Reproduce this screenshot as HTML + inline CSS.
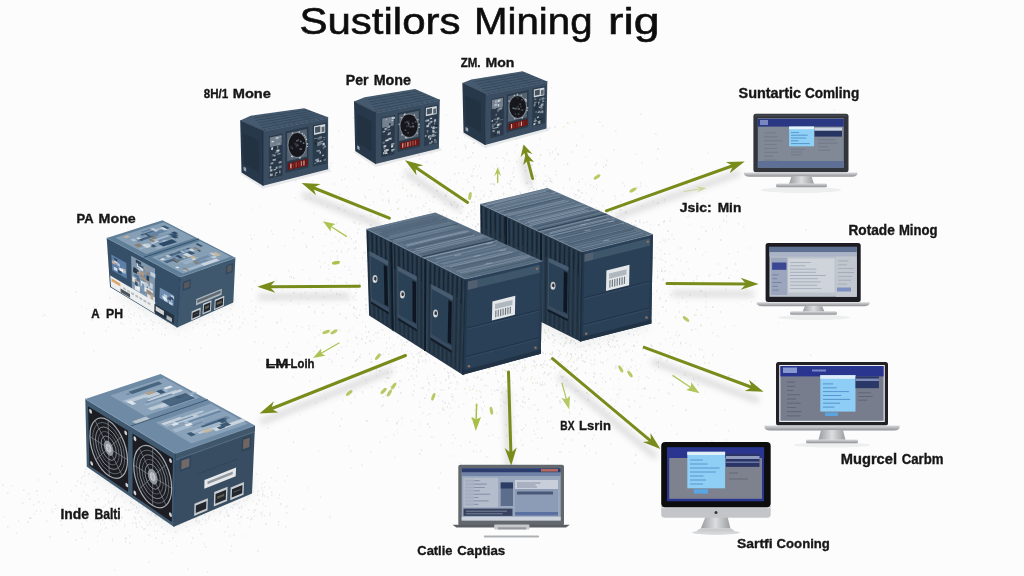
<!DOCTYPE html>
<html><head><meta charset="utf-8"><title>Sustilors Mining rig</title>
<style>
html,body{margin:0;padding:0;background:#fcfcfc;}
body{width:1024px;height:576px;overflow:hidden;font-family:"Liberation Sans",sans-serif;}
svg{display:block;font-family:"Liberation Sans",sans-serif;}
</style></head><body>
<svg width="1024" height="576" viewBox="0 0 1024 576">
<defs>
<filter id="blur3" filterUnits="userSpaceOnUse" x="0" y="0" width="1024" height="576"><feGaussianBlur stdDeviation="3"/></filter>
<filter id="blur3u" filterUnits="userSpaceOnUse" x="0" y="0" width="1024" height="576"><feGaussianBlur stdDeviation="4"/></filter>
<filter id="blur1"><feGaussianBlur stdDeviation="0.6"/></filter>
<filter id="soft"><feGaussianBlur stdDeviation="0.35"/></filter>
<filter id="blur6" x="-30%" y="-30%" width="160%" height="160%"><feGaussianBlur stdDeviation="6"/></filter>
<linearGradient id="silver" x1="0" y1="0" x2="0" y2="1"><stop offset="0" stop-color="#d9dadc"/><stop offset="0.5" stop-color="#b4b6b9"/><stop offset="1" stop-color="#8e9093"/></linearGradient>
<linearGradient id="silverH" x1="0" y1="0" x2="1" y2="0"><stop offset="0" stop-color="#9a9c9f"/><stop offset="0.5" stop-color="#dcdddf"/><stop offset="1" stop-color="#9a9c9f"/></linearGradient>
</defs>
<rect width="1024" height="576" fill="#fcfcfc"/>

<path d="M448 269h1.7M605 255h1.4M521 342h1.1M481 245h1.7M564 312h0.9M517 224h1.2M440 383h1.2M532 366h1.1M648 378h1.4M399 164h1.2M429 344h1.2M499 285h1.2M415 278h0.8M501 282h1.3M520 308h1.0M557 309h1.4M492 224h1.4M389 305h1.6M429 427h1.4M501 285h0.9M595 305h1.7M641 195h0.9M458 173h1.5M519 254h1.0M548 178h1.6M307 342h0.9M705 252h1.1M620 329h1.4M485 312h1.1M525 264h1.6M505 341h0.9M719 274h1.1M625 351h1.6M646 300h1.6M380 316h1.5M511 349h1.4M388 263h1.1M581 269h1.4M585 247h0.8M512 318h0.9M572 337h1.1M365 327h1.4M468 229h1.4M455 280h1.3M442 390h1.5M511 369h1.2M497 312h0.8M669 287h1.2M465 243h1.4M669 254h1.2M730 275h0.9M412 334h1.0M464 265h1.5M527 272h1.4M491 394h1.4M682 273h1.1M498 252h1.4M437 320h1.0M542 418h0.9M512 339h0.9M488 197h1.4M593 246h0.8M550 373h1.4M609 250h1.0M310 199h1.1M701 227h1.3M453 297h0.9M638 317h1.4M641 288h1.7M461 314h0.9M476 378h1.7M484 342h1.5M407 351h0.9M641 163h1.5M588 267h0.8M433 437h1.2M523 331h0.9M293 353h1.6M513 171h1.0M517 241h1.3M711 324h0.9M382 234h1.4M465 229h1.5M633 254h1.7M525 272h1.4M628 350h1.1M523 275h1.7M538 299h0.8M711 441h1.6M561 269h1.4M550 181h1.0M664 271h1.4M483 363h1.5M390 283h1.6M331 360h0.8M350 270h0.8M478 236h1.4M466 265h1.6M508 331h1.2M548 305h1.5M607 344h1.6M329 330h1.5M525 317h1.5M636 187h1.4M254 281h1.5M523 134h0.8M498 197h0.8M500 406h1.3M429 269h1.3M707 153h1.3M500 261h0.9M331 243h0.9M576 360h1.1M542 325h1.2M521 249h1.5M573 317h1.4M593 295h0.9M531 441h0.9M464 137h1.0M562 244h1.5M424 259h1.6M476 232h1.3M482 349h1.6M563 286h1.6M502 282h0.9M313 351h1.6M504 370h1.6M517 325h1.2M419 159h1.6M567 295h0.9M421 250h1.6M402 226h1.4M564 439h1.6M582 179h1.0M595 315h1.4M566 430h1.6M467 214h0.9M527 251h1.2M513 190h1.0M569 248h1.2M361 334h0.8M430 228h1.5M418 362h1.7M670 338h1.2M480 347h1.0M542 252h1.7M424 286h1.5M324 219h0.9M497 276h1.0M430 324h1.1M355 242h1.2M331 285h1.0M527 292h1.1M538 245h1.1M634 463h1.6M614 336h0.9M575 298h1.4M424 281h1.3M585 325h0.9M549 229h1.4M452 356h1.3M498 382h1.5M565 313h0.8M457 294h1.3M570 367h1.1M504 160h1.7M301 327h1.6M361 465h1.7M597 392h1.4M388 216h1.1M586 193h1.0M664 267h0.9M565 301h1.4M465 128h1.6M524 337h0.9M424 340h1.1M564 202h1.5M615 199h1.3M401 340h1.2M409 169h1.4M501 385h1.2M539 316h1.2M650 251h0.9M644 234h1.3M591 294h1.1M454 296h1.4M396 225h1.2M459 280h1.5M637 188h1.5M509 352h0.8M549 153h1.6M360 216h1.6M532 311h1.6M661 271h1.4M348 379h1.1M675 335h0.9M474 190h0.9M431 314h1.5M520 229h0.9M446 357h1.3M588 272h0.9M431 238h1.5M439 215h1.5M563 411h1.0M379 304h1.3M589 344h1.1M488 366h1.2M546 397h1.6M565 277h1.0M393 345h1.4M406 247h1.7M680 261h1.0M508 273h1.7M436 136h1.2M487 239h1.6M511 301h1.1M441 215h1.5M435 177h1.6M548 306h1.1M590 360h1.4M554 369h1.0M583 298h1.0M405 117h0.9M393 297h1.4M654 437h1.0M415 257h1.3M606 224h1.1M564 279h1.7M470 244h1.7M584 228h1.5M572 324h1.2M595 268h1.7M365 237h1.5M656 411h1.3M546 321h1.5M293 230h1.6M406 269h1.5M590 283h1.3M527 307h0.9M407 363h1.6M505 106h1.0M558 242h1.1M181 227h1.2M594 317h1.3M481 254h1.1M565 367h1.2M455 370h1.5M384 214h1.2M550 276h0.9M599 339h1.1M509 300h1.5M637 328h1.7M503 388h1.6M297 353h0.8M349 237h1.2M640 114h1.6M353 307h1.6M483 276h1.0M467 269h0.9M621 277h1.7M596 185h1.2M509 319h1.0M368 294h0.9M413 311h1.6M448 423h1.4M579 269h1.0M428 297h1.3M623 266h1.0M638 325h1.2M601 296h1.5M442 246h1.7M528 290h1.0M435 250h1.0M576 145h1.2M633 271h1.4M328 280h1.6M391 291h1.5M585 203h0.9M571 342h0.8M448 346h0.9M593 373h1.6M535 405h1.2M737 303h0.9M487 294h1.1M446 348h1.3M640 272h1.2M560 223h1.4M348 332h0.9M577 391h1.5M486 308h1.4M583 336h1.5M563 165h0.9M502 274h1.7M498 168h1.6M578 182h1.6M542 304h1.4M638 380h1.2M506 258h1.3M473 176h1.0M516 432h1.5M486 291h1.4M510 188h1.7M382 194h1.0M438 488h1.7M614 355h1.4M429 246h1.1M553 273h0.9M505 280h1.1M365 252h1.0M410 212h1.5M277 322h1.2M592 256h1.5M469 390h1.5M665 339h0.9M519 253h1.0M474 344h1.3M397 401h1.1M520 230h1.3M426 257h1.5M416 227h1.4M517 355h1.6M466 217h1.7M652 252h0.9M428 338h1.3M473 369h1.6M538 312h1.3M600 299h1.0M513 246h1.3M607 213h1.2M595 453h1.5M476 241h1.0M636 194h1.5M452 400h1.5M631 223h0.9M582 311h1.5M488 312h1.2M559 355h1.4M380 290h1.3M728 254h1.3M619 367h0.9M549 294h1.2M578 226h1.5M348 270h1.3M494 225h1.0M555 171h1.5M425 178h1.3M426 197h1.2M700 326h1.6M457 360h0.9M542 280h1.2M701 315h1.4M522 198h1.4M541 275h1.0M590 346h0.9M417 217h1.4M522 269h0.8M391 322h1.4M385 437h1.3M355 300h1.6M490 141h1.0M522 302h1.3M496 245h1.3M540 385h1.7M561 251h0.9M510 381h1.1M391 321h1.6M443 350h1.1M449 278h1.3M326 279h1.3M585 261h1.2M501 296h1.5M425 116h0.8M614 196h1.6M553 336h1.5M484 263h0.8M661 268h1.1M446 300h1.1M548 284h1.6M521 224h1.5M369 262h1.3M292 377h1.5M403 343h1.1M560 334h1.6M516 348h0.8M582 285h1.0M495 261h1.5M500 272h1.5M515 323h1.5M591 263h1.1M330 290h1.7M463 228h1.2M558 250h1.1M612 484h1.5M517 416h1.7M475 353h1.1M570 229h1.6M376 368h1.7M442 296h1.6M604 275h1.6M767 286h1.6M420 310h1.0M502 350h0.9M592 292h0.9M507 218h1.7M475 243h1.4M289 179h1.4M496 336h1.2M472 338h1.5M466 374h1.1M464 258h1.1M484 386h1.3M601 211h0.8M506 153h1.6M523 387h1.0M390 210h1.6M378 279h1.1M592 335h1.0M476 243h1.1M591 297h1.6M594 349h1.5M640 256h0.8M514 152h1.6M544 181h1.5M473 302h1.0M389 308h1.7M434 350h1.5M480 360h1.0M449 295h1.4M443 307h1.0M431 258h1.7M603 277h1.4M505 336h1.5M573 270h1.1M465 262h1.0M398 296h1.0M424 295h1.2M533 198h1.2M254 342h1.7M624 207h1.2M453 287h1.7M523 317h1.4M635 366h1.1M496 201h0.9M358 281h0.8M570 343h1.3M420 332h1.4M509 352h1.2M598 263h0.9M520 379h1.7M429 222h1.0M401 418h1.7M407 368h1.4M493 234h1.0M427 353h1.0M724 327h1.1M422 295h1.7M394 174h1.0M514 215h1.0M476 266h1.7M618 394h1.2M613 389h0.9M536 246h1.0M545 298h1.6M535 217h1.5M485 367h1.2M429 360h1.2M472 172h1.1M389 331h0.9M532 301h1.5M531 321h1.5M454 224h0.9M566 262h0.9M499 240h1.7M589 244h1.5M589 382h1.1M565 398h1.6M337 256h1.1M408 380h1.4M574 296h1.4M449 291h1.1M551 275h0.8M623 327h1.7M630 270h0.9M658 390h1.5M330 166h1.3M494 220h0.8M596 246h0.8M523 257h1.0M573 194h1.6M567 243h1.1M603 400h1.6M341 347h1.7M435 225h1.4M414 273h1.3M553 246h0.9M564 281h1.0M440 473h1.3M578 190h1.5M551 295h1.4M525 167h1.1M350 403h1.5M420 388h0.9M517 234h0.9M403 241h1.3M533 431h1.4M778 323h1.0M633 346h1.3M555 326h1.1M544 257h1.0M597 300h0.9M399 313h1.0M422 361h1.4M549 273h1.6M454 311h1.1M508 434h0.8M534 379h1.0M533 268h1.6M405 169h1.2M678 336h1.1M353 243h0.9M512 355h0.9M602 215h1.1M499 170h1.1M512 173h1.5M514 276h1.2M410 327h1.7M327 207h1.2M434 321h1.4M571 188h0.8M499 299h1.1M523 341h0.9M586 454h0.8M554 159h1.5M639 407h1.7M582 136h1.1M533 217h0.8M459 280h1.6M487 205h1.6M576 266h1.3M510 270h1.0M612 273h1.6M289 277h1.6M470 157h1.6M421 273h1.5M669 221h1.3M448 403h0.9M602 382h1.0M530 176h1.1M576 287h1.2M496 272h1.2M302 233h1.6M532 342h1.1M509 318h1.3M497 272h1.6M405 209h1.2M622 195h1.2M305 245h1.3M528 299h1.6M474 214h1.3M471 299h1.4M573 310h1.2M386 348h1.5M391 321h1.3M477 244h1.1M561 237h1.3M586 218h1.6M420 301h1.2M382 330h1.6M566 230h1.1M540 306h1.5M355 309h1.7M325 234h1.2M551 407h1.2M603 409h1.6M524 403h1.5M424 339h1.6M581 310h1.3M536 422h1.7M411 337h1.7M412 215h1.2M436 236h1.5M669 394h1.3M615 264h1.5M299 415h0.9M494 464h0.9M616 395h1.6M483 240h1.0M426 145h0.9M481 300h1.7M676 354h1.4M540 365h1.5M481 299h1.5M474 313h0.8M372 268h1.1M550 192h1.4M379 442h1.6M424 292h1.5M483 250h1.5M617 345h1.2M616 217h1.6M533 221h1.3M562 371h1.0M497 256h0.9M556 245h0.9M650 345h1.6M390 365h1.6M605 351h1.6M539 245h1.2M496 390h1.1M652 240h0.8M384 241h1.4M314 337h1.2M492 303h0.8M369 288h1.3M540 270h1.1M354 397h1.3M632 351h1.0M716 425h1.0M642 389h1.1M332 308h1.5M719 227h1.6M525 402h0.9M518 361h1.5M569 297h1.6M655 320h0.9M600 232h1.5M561 377h1.6M458 407h1.6M676 434h1.4M570 426h1.1M622 286h1.1M453 359h1.4M599 283h1.0M427 415h1.0M474 301h1.4M419 198h0.9M452 314h1.7M402 177h1.6M686 307h1.1M662 327h1.6M672 385h1.6M571 332h1.3M454 255h1.1M664 294h1.0M442 409h1.1M548 315h1.1M385 352h1.2M598 300h1.5M583 225h1.6M571 307h1.4M522 239h0.9M503 309h1.1M439 281h1.2M371 296h0.8M522 401h1.4M456 264h1.0M571 327h1.7M581 309h1.5M454 328h1.0M385 382h1.4M671 235h1.6M689 295h1.6M506 324h1.2M523 322h1.6M545 272h1.1M435 263h1.3M482 266h0.8M397 430h0.8M668 239h1.3M601 294h1.0M463 312h1.4M467 344h1.1M579 236h1.5M507 307h1.5M444 219h1.6M411 354h1.5M340 239h1.1M496 213h1.5M438 286h1.6M641 240h1.0M498 322h1.3M479 305h1.3M457 384h1.4M435 216h1.2M582 249h1.2M532 275h1.0M458 261h1.6M591 199h1.4M467 279h1.4M448 333h1.0M464 419h0.8M428 270h1.2M359 145h1.3M533 351h1.6M484 194h0.9M621 300h1.1M449 416h1.4M461 227h1.5M452 413h0.9M588 286h1.5M576 270h1.4M423 279h1.5M288 343h1.4M396 231h1.4M628 369h1.6M487 386h1.2M560 452h1.6M498 227h1.6M498 366h1.4M638 377h1.5M313 213h1.6M475 353h1.1M567 231h1.4M624 330h0.8M442 401h1.6M356 289h1.0M462 260h0.8M670 218h1.2M350 468h1.1M554 367h1.0M500 400h1.5M575 344h1.4M549 279h1.6M618 379h1.1M305 292h0.9M614 299h1.0M535 179h0.9M667 359h1.0M482 411h1.2M433 290h1.1M373 177h1.6M508 281h1.3M720 273h1.0M491 339h1.5M578 342h1.1M421 226h1.7M708 276h1.6M585 157h1.1M455 438h1.0M473 322h1.1M540 289h1.4M466 180h1.3M531 272h1.3M435 336h1.0M320 164h1.5M398 282h1.0M493 353h1.4M377 264h1.3M582 322h1.4M451 299h1.0M328 269h1.5M341 366h1.2M366 383h1.2M479 329h1.1M409 337h1.1M437 241h1.6M455 157h1.3M342 400h1.4M541 202h1.1M425 162h1.3M463 404h1.4M518 260h1.1M557 350h1.1M454 279h1.5M712 333h1.3M500 254h0.9M484 284h1.0M259 206h0.9M635 154h1.2M495 214h1.0M481 256h1.0M474 233h1.1M378 287h1.1M377 333h0.9M559 452h1.3M502 292h1.5M619 390h1.1M461 223h0.8M688 269h1.2M495 288h1.3M542 293h1.4M585 373h1.0M558 272h1.7M355 337h1.6M601 389h0.9M397 180h1.3M443 317h1.4M480 230h1.5M564 217h1.4M309 381h1.5M594 355h0.8M413 364h0.9M387 284h1.6M553 343h1.6M414 430h1.3M514 239h1.0M557 327h1.3M513 220h1.7M577 347h1.1M473 219h1.6M536 317h1.4M467 358h1.0M488 285h1.2M484 259h0.9M638 302h1.5M523 317h1.5M339 278h1.2M452 320h1.7M625 311h0.8M578 422h1.3M609 339h1.3M500 214h1.3M503 195h0.9M360 354h1.0M443 252h1.5M474 209h1.2M588 299h1.5M544 263h1.6M650 261h1.7M570 260h1.2M645 233h1.7M506 316h1.3M213 310h1.4M455 270h1.0M546 240h1.7M554 234h1.2M398 258h1.3M669 272h1.3M810 355h1.4M676 259h1.5M498 245h1.3M499 260h1.4M501 294h1.4M361 373h1.6M535 313h1.2M550 179h1.6M622 411h1.5M455 402h0.8M550 221h0.8M670 295h1.6M442 345h1.3M383 354h0.9M579 197h1.6M534 193h1.2M530 279h1.6M533 405h1.1M406 329h1.0M567 297h1.4M435 356h1.2M429 201h0.9M386 378h1.1M492 321h0.8M501 288h1.4M483 336h1.2M522 322h0.9M604 261h1.5M330 344h1.2M460 356h1.7M526 290h1.5M453 313h1.3M296 326h1.2M318 335h1.4M525 322h1.0M636 331h0.9M652 309h1.2M496 165h1.4M505 319h1.3M273 299h1.5M561 331h1.1M525 258h1.2M613 150h1.7M610 277h1.0M534 271h1.4M339 330h1.7M434 334h1.4M379 416h0.8M421 288h1.4M435 378h1.0M419 258h1.1M467 299h1.0M516 145h1.4M393 435h1.2M592 272h1.4M696 279h1.1M520 362h0.9M487 346h1.5M540 278h1.4M477 224h1.6M378 388h1.6M633 296h1.2M443 257h1.6M543 374h1.2M437 312h0.9M608 336h1.5M660 358h1.4M489 256h1.5M656 363h0.9M338 328h0.8M490 255h1.1M577 359h0.8M555 298h1.2M456 182h0.9M606 276h1.5M643 223h1.3M373 335h1.0M502 158h1.5M373 341h1.0M516 253h1.3M421 267h1.5M652 258h1.2M501 132h0.8M359 163h1.6M505 403h0.9M475 405h0.9M567 340h0.9M606 361h0.8M546 260h1.3M538 350h0.9M325 332h1.6M568 266h1.5M473 377h1.1M506 359h1.4M498 273h0.9M454 264h1.6M380 192h0.9M515 305h1.6M605 287h1.6M614 286h1.5M536 189h1.0M394 457h1.1M421 344h1.2M500 224h1.3M560 376h1.2M353 314h1.2M637 389h1.0M463 173h1.1M390 386h1.4M428 390h1.5M497 251h1.2M435 381h1.4M421 320h1.1M575 270h0.9M478 236h1.2M469 303h0.9M574 408h1.2M398 285h1.6M372 237h1.7M451 283h0.8M445 253h1.6M622 183h1.6M295 198h1.1M596 163h1.4M536 336h0.9M593 303h1.4M524 170h0.9M354 285h1.6M549 293h1.3M308 329h1.6M537 449h1.2M423 344h1.0M352 328h0.9M612 312h0.9M425 203h1.7M439 297h1.0M496 231h0.9M499 290h0.8M528 227h1.3M467 341h0.9M503 277h1.4M566 338h1.5M416 367h1.3M571 247h1.2M529 236h1.0M551 88h0.8M549 197h1.4M624 344h1.4M540 328h0.8M271 231h1.1M508 350h1.1M468 228h1.1M536 200h1.6M598 251h1.6M376 246h1.4M485 301h1.0M558 312h1.5M463 371h0.8M567 353h1.2M194 310h1.4M558 260h0.8M452 317h1.2M299 221h1.6M480 392h1.3M455 269h1.0M684 319h1.5M535 418h1.0M436 329h1.1M444 238h1.0M577 324h1.4M585 267h1.3M568 326h1.5M477 336h1.1M575 418h0.8M602 396h1.4M723 221h1.4M457 302h1.6M370 362h1.6M446 182h1.1M369 190h1.2M312 181h1.1M309 194h1.4M529 235h1.3M648 275h1.0M639 220h1.4M461 259h1.1M528 327h1.5M332 251h1.0M456 307h1.2M529 267h1.2M499 342h1.5M335 237h1.2M667 332h1.4M547 232h1.7M673 343h1.4M462 206h1.2M634 267h1.3M390 348h1.3M469 277h0.8M539 139h1.7M354 223h1.6M652 201h1.3M492 360h1.0M502 200h1.3M420 424h1.1M505 309h1.6M473 283h1.1M673 239h1.5M501 307h1.4M498 252h1.4M445 310h1.3M529 235h1.7M590 262h1.6M348 249h1.5M625 299h1.2M381 355h1.3M390 249h1.1M503 402h1.3M605 284h1.1M422 222h1.6M349 267h1.1M401 295h0.8M353 222h1.4M597 312h0.9M323 142h1.3M582 301h1.6M480 262h0.9M619 366h1.1M615 320h1.7M502 210h0.9M362 377h1.4M450 203h1.4M642 302h0.8M281 361h1.5M382 185h0.9M523 198h1.0M553 271h1.1M418 331h1.4M478 235h1.4M510 312h0.9M480 206h1.2M396 424h1.4M437 354h1.6M452 443h1.1M469 387h1.2M496 248h1.6M516 365h1.4M702 198h1.1M494 391h1.3M218 283h1.5M572 263h0.8M590 363h0.8M542 289h1.4M455 308h1.6M488 317h1.1M546 395h1.4M517 305h1.6M724 410h1.3M570 308h1.0M535 281h1.7M525 252h1.3M548 310h0.9M520 267h1.2M578 318h0.8M546 269h1.2M553 196h1.1M800 160h1.5M386 343h1.3M387 418h0.9M365 305h1.5M508 387h1.5M414 289h1.0M338 241h1.3M552 428h1.6M349 305h1.3M384 274h1.5M472 356h1.0M506 258h0.9M363 216h1.3M445 361h0.9M474 206h1.6M386 396h1.0M591 317h1.5M674 286h0.9M436 290h1.1M509 161h1.1M308 299h1.1M371 288h0.9M547 375h1.5M531 220h1.2M749 248h1.2M582 299h0.8M382 369h0.8M506 218h0.8M577 240h1.5M521 325h1.3M365 326h0.8M586 273h1.4M487 311h1.0M626 369h0.8M388 291h1.3M627 267h1.6M537 146h0.9M728 431h1.5M357 359h1.6M501 352h1.1M504 295h0.9M539 378h0.9M586 324h1.1M395 367h1.6M544 384h1.7M573 324h1.5M554 261h0.8M450 312h0.8M553 315h1.2M375 333h1.5M648 325h1.6M320 378h0.9M536 301h1.5M398 421h0.9M352 367h1.4M519 308h1.4M400 340h1.5M585 217h0.9M532 286h1.1M622 276h1.0M341 250h0.9M532 287h1.1M656 448h1.4M425 298h1.0M517 210h1.5M305 199h1.3M608 219h1.6M481 191h1.0M380 367h1.0M411 176h0.9M328 265h0.9M556 263h1.2M522 371h1.3M568 290h0.9M462 276h1.0M473 188h1.7M650 230h0.8M537 263h0.9M476 246h1.6M599 286h1.1M494 98h1.6M485 262h0.8M377 358h1.3M399 330h1.2M513 168h1.7M594 324h0.9M577 208h1.0M516 139h1.3M459 132h1.3M485 147h1.2M433 307h1.1M328 359h1.5M612 346h1.2M525 381h1.1M557 382h1.1M575 370h1.0M355 241h1.3M642 315h1.4M452 396h1.3M571 283h1.1M413 379h0.9M309 279h0.9M452 275h1.3M507 324h1.3M490 260h1.6M678 352h0.8M443 306h0.9M497 381h1.1M437 310h1.2M509 308h1.0M519 305h1.1M553 346h1.4M636 370h1.6M494 200h1.1M488 323h1.2M480 199h1.5M570 283h1.4M563 310h1.5M550 155h0.9M545 238h1.0M429 385h1.1M429 212h1.2M595 208h1.5M416 371h1.2M615 225h1.7M484 216h1.2M431 307h1.3M406 312h1.4M436 121h1.3M445 231h1.5M522 202h1.6M624 329h1.2M705 293h1.1M602 191h1.7M494 319h1.1M397 433h0.8M410 254h1.5M526 280h1.5M461 280h1.5M424 330h0.8M621 311h1.4M547 150h1.0M412 254h1.5M401 424h1.0M351 375h1.5M318 451h1.1M620 269h1.6M477 258h1.5M441 333h1.0M333 184h1.6M299 169h1.2M608 315h1.5M456 207h1.6M469 216h1.4M544 340h1.4M436 183h1.4M378 216h0.9M589 254h1.6M429 233h1.2M465 358h0.9M602 305h1.4M431 325h0.8M564 239h1.3M388 293h1.3M445 248h1.5M544 291h1.2M621 319h1.0M503 301h1.2M417 208h1.6M323 297h1.6M454 347h1.6M468 278h1.6M440 267h1.5M430 225h1.5M614 406h1.4M776 283h1.2M531 200h1.5M394 280h1.6M334 277h1.2M365 380h1.5M478 237h1.2M522 228h0.9M486 331h1.2M619 317h0.9M425 322h1.6M322 290h0.8M553 252h1.7M565 342h1.6M598 308h1.3M375 162h1.7M502 228h1.0M600 282h1.1M556 305h1.5M453 333h1.5M453 261h1.3M500 224h1.6M373 236h1.7M438 413h1.2M624 302h1.2M212 267h1.4M591 365h1.3M464 301h1.6M626 298h1.4M521 234h0.9M577 338h1.5M550 421h1.2M529 239h0.9M415 318h1.3M505 328h1.2M308 326h1.4M491 211h1.4M587 303h1.6M487 355h1.4M567 242h1.3M579 414h1.4M455 369h1.0M553 217h1.1M663 240h1.0M520 440h0.9M537 349h1.6M658 313h0.8M647 350h1.2M434 278h0.9M622 366h1.6M468 247h1.7M415 258h1.7M330 258h1.0M384 162h1.5M430 316h0.9M580 206h1.0M476 452h1.0M546 181h1.2M805 230h1.7M594 269h1.0M461 328h1.2M575 272h0.9M479 250h1.2M508 355h1.5M459 357h1.6M480 358h1.5M457 267h1.6M559 279h1.3M417 238h1.3M326 385h0.9M604 320h0.8M360 310h0.8M444 346h1.4M705 296h1.5M401 349h1.6M508 256h1.3M680 378h0.9M441 296h1.7M495 301h1.6M503 322h1.1M641 298h1.2M650 225h1.2M590 202h1.6M577 292h1.6M474 335h1.1M535 230h1.0M449 180h1.5M473 272h0.8M641 253h1.5M336 223h1.1M604 313h1.5M618 321h1.3M509 196h1.6M635 304h1.2M484 244h0.9M431 223h1.3M444 315h1.5M480 223h1.2M621 312h1.1M391 275h0.9M606 232h0.9M554 368h1.7M515 189h1.1M429 309h1.0M417 266h1.5M371 251h1.2M378 354h1.5M449 404h1.1M600 374h1.4M251 239h1.5M539 276h1.0M437 282h0.9M471 240h1.1M493 142h1.5M492 283h1.3M482 373h1.1M648 243h1.3M559 286h1.7M475 445h1.0M707 318h1.1M272 234h1.0M698 444h0.8M665 240h1.6M427 162h1.2M527 222h1.0M512 313h1.3M389 331h0.9M425 281h1.6M461 293h0.8M672 406h1.3M363 253h1.4M529 408h1.2M686 262h1.1M710 288h0.9M602 126h1.3M396 301h0.9M390 387h1.0M482 357h1.3M435 279h1.2M517 289h1.3M695 355h1.1M447 192h0.9M348 446h1.3M585 238h0.9M554 287h1.7M467 262h0.9M410 307h1.5M478 330h1.0M478 233h1.7M386 421h1.5M433 408h0.9M535 324h1.3M592 221h1.4M562 383h1.4M408 256h1.6M618 259h1.3M667 393h1.7M514 274h1.2M379 281h1.3M492 166h0.9M649 398h1.7M717 336h1.4M460 369h1.6M478 200h1.1M417 240h0.8M530 286h0.9M421 209h1.0M737 252h1.4M524 313h1.4M688 216h1.2M480 316h1.2M419 402h0.9M550 283h1.1M543 277h1.1M534 175h0.9M502 276h1.6M472 294h1.6M561 390h1.1M463 220h1.2M456 303h1.2M566 429h0.9M588 345h1.5M451 397h1.4M541 271h1.6M367 276h1.3M388 203h1.4M569 215h1.5M709 371h1.4M461 269h1.6M584 288h1.2M610 400h1.4M429 234h1.4M538 251h1.7M596 290h1.3M562 200h0.9M578 433h1.5M401 366h1.5M552 309h1.6M572 253h1.1M490 345h1.4M415 197h1.4M651 247h1.4M455 389h1.5M544 212h1.4M569 452h1.2M558 216h1.1M563 295h1.2M680 367h1.0M552 257h1.3M370 305h0.9M533 328h1.2M500 331h1.5M632 282h0.9M346 187h1.1M467 279h1.0M480 332h1.0M288 430h0.8M475 215h1.3M527 245h1.6M516 317h1.4M501 276h1.4M583 271h0.9M490 345h1.1M519 220h0.9M673 352h1.6M483 299h1.5M484 333h0.8M704 392h0.8M461 239h0.8M576 146h1.1M559 334h0.8M575 293h1.4M627 262h1.2M603 235h1.6M492 435h1.6M506 300h1.6M523 284h1.4M544 330h1.4M649 290h1.3M506 210h1.4M404 244h1.0M597 331h1.0M501 291h1.6M622 221h1.6M644 338h0.8M608 211h1.5M443 280h1.0M332 288h1.0M503 254h1.7M655 134h1.7M506 250h1.3M295 181h1.4M530 229h1.5M754 381h1.3M489 305h1.0M533 301h1.4M517 312h1.3M338 131h1.3M482 409h0.9M450 297h1.0M514 232h1.0M434 280h1.6M576 247h1.4M628 406h1.3M448 343h1.5M589 150h1.4M322 305h1.5M522 402h1.3M352 297h1.0M597 277h1.5M537 438h1.3M382 397h1.5M658 324h1.3M465 228h1.2M251 289h1.4M605 297h1.0M475 313h0.9M281 305h1.3M551 393h1.4M449 383h1.5M519 363h1.3M532 272h1.4M381 251h1.3M709 275h1.6M629 407h1.5M382 308h1.0M366 261h1.2M453 336h1.5M557 249h1.3M598 292h1.3M474 282h0.9M582 204h1.2M502 341h1.6M506 155h1.0M435 246h1.2M672 384h1.2M636 226h1.0M630 291h1.3M442 304h1.6M498 325h1.1M446 223h0.8M551 354h1.1M529 108h1.5M392 231h1.4M388 323h1.1M694 174h1.1M462 220h0.9M609 226h1.6M607 340h1.1M589 285h1.0M476 274h1.7M483 276h0.9M481 289h1.3M517 353h0.9M575 391h1.4M537 346h1.5M616 278h1.5M410 300h1.5M524 339h1.4M571 380h1.5M546 241h1.6M646 186h0.9M417 242h1.3M556 238h1.6M542 247h0.9M411 228h0.8M434 363h1.6M390 274h0.8M618 325h1.4M655 371h0.9M362 322h1.0M670 221h0.9M468 213h1.4M742 306h0.9M545 176h1.5M423 255h1.3M337 258h1.1M557 281h1.4M347 198h1.1M495 324h0.9M428 295h1.5M412 185h1.1M624 219h0.9M486 282h1.3M337 305h1.0M345 167h1.2M530 202h1.7M678 303h1.3M538 314h1.7M505 403h1.3M602 251h1.7M490 66h1.6M472 225h1.1M586 257h1.3M571 440h1.4M478 333h1.5M415 318h1.7M613 337h1.0M604 299h1.1M345 266h0.9M382 266h1.0M427 379h1.5M660 352h1.4M516 254h1.3M524 337h1.0M426 395h0.9M342 205h1.5M403 354h1.1M480 241h0.9M477 261h0.9M634 401h1.6M553 287h0.8M513 208h1.6M850 244h1.6M465 146h1.5M314 367h1.3M547 421h1.2M501 254h0.9M611 224h1.6M554 257h1.4M616 232h1.6M422 136h1.6M473 232h0.8M468 293h1.5M537 429h1.0M398 264h1.1M392 329h0.9M698 378h1.0M489 368h1.5M540 276h1.5M591 280h1.7M491 242h0.9M558 155h1.4M548 331h1.2M612 234h1.3M541 257h1.3M521 216h1.4M576 335h1.3M511 267h0.8M258 360h1.4M620 290h1.6M609 310h1.5M474 410h1.0M410 195h1.3M542 342h1.2M531 273h0.9M508 269h1.4M480 380h1.3M433 184h1.7M545 247h1.3M488 341h1.6M470 372h1.3M611 296h1.5M370 452h1.1M380 131h1.1M488 294h1.6M671 265h1.6M401 251h1.0M450 408h1.6M560 300h1.2M523 428h1.4M517 340h1.7M540 276h1.5M481 379h1.7M374 211h0.9M443 326h1.1M489 362h0.9M452 218h1.4M513 293h0.9M603 302h1.0M652 294h1.6M511 308h1.4M511 299h1.0M535 383h1.3M593 410h1.0M473 143h1.7M489 291h1.7M583 301h1.1M560 321h1.3M416 345h1.1M544 372h1.4M568 278h1.3M561 309h1.5M488 436h1.4M581 293h1.4M419 436h1.0M153 245h1.2M607 161h1.0M484 364h1.0M731 349h1.0M466 298h1.2M600 362h1.1M448 348h1.0M282 290h1.0M351 274h1.1M431 154h1.3M634 301h1.0M717 264h1.6M465 266h0.9M549 275h1.7M469 287h1.6M628 400h1.5M514 226h1.4M556 385h1.6M370 284h0.8M442 347h1.6M452 435h1.5M801 252h1.6M347 251h1.1M369 205h1.2M370 247h1.0M313 326h1.0M576 368h1.7M654 433h1.3M552 342h1.1M276 323h1.7M473 248h1.5M730 375h1.6M252 210h0.9M425 362h1.6M409 241h0.9M354 316h1.2M576 269h1.2M530 182h1.1M690 345h0.9M432 279h1.4M575 349h1.0M280 320h1.1M562 221h1.0M401 277h1.6M567 380h1.0M376 376h1.3M605 220h1.6M664 221h1.1M502 253h1.7M552 220h1.7M438 296h1.1M574 197h0.9M665 311h1.5M616 255h0.9M535 434h1.1M621 389h0.9M539 316h1.1M349 330h1.0M353 299h1.2M446 264h1.7M300 294h1.3M344 267h0.8M615 131h1.5M438 273h1.5M476 399h1.2M437 218h0.8M439 275h1.3M369 293h1.1M631 429h0.8M615 269h1.1M535 231h1.4M609 413h1.4M615 402h1.6M504 304h0.8M393 267h1.0M250 235h1.0M473 275h1.0M452 218h1.3M339 295h1.4M588 231h1.0M344 179h1.3M472 300h1.0M518 344h1.2M753 297h0.9M457 239h1.7M434 284h1.4M426 355h1.2M555 211h1.0M564 345h1.2M641 293h1.4M617 248h1.1M355 168h0.9M649 257h1.5M544 361h1.7M578 332h1.4M466 194h1.0M508 338h1.4M489 221h1.1M497 248h1.7M434 163h1.2M519 336h1.6M646 377h1.7M705 302h1.6M531 184h1.0M371 342h0.9M480 451h1.5M447 299h1.3M505 131h1.0M556 319h1.6M625 213h1.4M547 313h0.9M632 303h1.0M695 329h1.4M644 389h1.4M492 202h1.1M398 200h1.4M405 268h1.5M452 230h1.0M506 278h1.4M545 299h1.0M507 397h1.5M488 241h1.4M539 307h0.8M569 414h1.2M255 327h1.5M577 254h1.3M575 250h0.9M502 333h1.5M545 112h1.0M390 305h1.5M476 196h0.9M284 246h1.1M610 444h1.2M651 306h1.4M387 291h1.1M685 373h1.2M460 463h1.0M460 360h1.3M584 303h1.0M495 201h0.9M377 338h1.0M578 328h1.7M640 366h0.9M525 425h1.6M430 220h0.9M452 360h0.9M619 315h0.8M452 397h1.3M440 337h1.3M458 288h1.0M632 295h1.1M593 328h1.0M640 183h1.5M381 317h1.2M575 220h1.1M510 312h1.6M551 304h1.5M547 459h1.6M723 220h0.9M609 307h1.2M680 248h1.6M445 330h1.4M438 250h1.6M509 276h0.9M541 314h1.6M373 138h1.5M496 178h1.5M450 456h1.3M442 305h1.2M421 356h1.2M409 212h1.6M494 235h1.6M571 329h1.5M660 300h0.9M696 310h1.6M344 211h1.4M543 231h1.4M559 403h1.6M491 390h0.9M577 321h0.9M620 354h0.9M493 280h1.0M564 286h1.1M422 413h1.5M430 354h1.2M579 257h1.3M435 242h1.0M388 251h1.3M485 385h1.0M613 336h1.5M325 399h1.4M476 409h1.4M531 312h1.1M626 352h1.0M492 257h1.0M518 318h1.0M534 326h1.6M475 226h1.1M498 292h1.0M424 289h1.3M378 286h0.9M500 237h1.6M543 228h0.9M549 309h1.5M636 342h1.2M645 266h1.0M278 364h1.6M457 205h1.6M579 319h0.8M565 356h1.6M532 114h1.1M501 392h1.5M413 357h1.5M467 380h1.0M399 322h1.1M394 351h0.9M523 229h1.4M415 333h1.2M315 403h1.6M618 398h1.0M494 245h1.4M575 242h0.8M429 289h1.2M657 248h0.8M469 240h1.0M332 413h1.7M607 359h1.3M445 195h1.6M743 227h1.6M446 318h1.7M418 251h1.4M331 163h1.2M439 299h1.5M482 258h1.2M507 291h1.5M577 198h0.9M357 131h1.4M346 283h1.5M549 354h1.6M454 196h1.6M473 248h1.3M240 275h1.4M479 166h1.3M658 225h1.2M365 332h0.8M519 192h1.6M464 311h1.1M537 248h0.9M502 383h1.0M625 212h1.7M567 362h1.5M670 383h0.8M427 376h0.9M500 254h1.6M440 275h0.8M347 300h1.2M495 374h1.6M512 275h1.2M561 281h1.6M521 388h1.1M366 337h1.7M726 222h1.6M555 252h1.2M725 289h1.4M320 330h1.0M462 252h0.9M396 250h1.5M494 248h1.5M594 237h1.3M511 251h0.8M716 425h0.9M453 246h0.9M516 371h1.6M326 147h1.1M485 158h1.7M427 177h1.0M552 248h1.6M646 222h1.7M380 189h0.9M638 294h0.8M371 275h1.4M520 296h1.5M446 115h0.9M568 276h1.5M804 398h1.4M583 200h1.3M466 382h0.8M674 280h1.5M473 277h1.3M465 268h1.2M383 238h1.1M468 300h1.2M410 255h1.4M363 269h1.6M576 369h1.6M478 340h1.2M420 290h1.3M499 387h1.0M685 343h1.6M487 309h1.5M366 312h1.4M660 242h1.2M647 330h1.0M488 334h1.5M496 158h1.6M581 273h1.2M529 188h1.5M409 323h1.6M466 280h1.1M593 435h1.6M616 366h1.1M579 298h1.6M565 386h1.4M361 272h1.0M523 370h1.6M381 330h0.9M424 226h1.3M556 244h1.6M394 361h0.9M569 178h1.4M394 186h0.8M533 253h1.5M556 148h1.0M276 280h1.1M358 179h1.4M392 274h1.7M648 437h1.3M436 183h1.4M619 358h1.2M416 354h1.2M517 321h1.3M533 217h0.8M497 316h0.8M686 302h1.1M378 332h1.1M493 208h1.4M549 294h1.0M407 247h1.3M682 298h1.3M518 242h1.4M451 394h1.2M423 305h1.5M577 190h0.9M338 350h1.2M477 300h1.6M491 194h1.2M423 326h1.4M675 335h1.6M466 240h1.0M602 307h1.5M834 110h1.0M382 249h1.7M504 338h1.1M539 326h0.9M445 247h1.6M565 422h1.5M470 359h1.0M451 287h1.0M443 264h1.4M476 229h1.1M327 331h1.7M664 242h1.5M490 309h1.5M466 322h1.5M548 329h1.0M576 375h1.5M323 246h1.0M475 358h1.5M536 310h1.5M496 334h1.4M388 199h1.1M557 253h1.3M520 406h1.0M590 338h1.6M538 343h1.4M523 350h1.6M537 339h1.3M459 228h1.1M671 425h1.3M566 224h1.1M473 238h1.5M428 249h0.9M498 438h1.1M302 270h1.1M725 440h1.4M532 497h0.9M518 325h1.7M304 360h0.9M496 301h1.1M510 224h1.1M189 350h1.6M376 370h1.1M640 186h1.4M557 279h1.3M588 395h1.4M589 355h0.9M532 273h1.1M712 229h0.9M502 187h1.6M431 337h1.4M474 356h1.3M608 270h1.4M545 267h0.8M516 292h1.3M558 217h0.9M644 428h1.4M450 372h1.5M455 329h1.3M539 159h0.9M473 386h1.5M506 255h1.1M528 202h0.9M569 329h1.4M669 358h1.6M338 381h1.0M407 248h1.4M634 272h1.1M464 145h1.0M540 244h1.1M419 221h1.1M589 451h0.8M440 390h1.4M384 267h0.9M494 169h0.9M603 409h1.6M434 389h1.2M621 247h1.0M414 256h1.0M418 363h1.2M532 247h0.9M565 275h1.4M454 377h1.5M541 339h1.4M611 281h1.1M428 349h1.6M462 189h1.5M267 428h1.5M462 160h1.2M489 288h1.5M559 372h1.4M596 238h0.9M432 202h1.0M566 309h1.3M416 341h1.4M696 276h1.7M501 262h1.7M377 218h1.5M369 286h1.6M565 317h1.7M555 238h1.5M523 282h1.2M505 339h1.4M369 283h1.0M568 269h1.5M524 237h1.4M641 206h1.6M299 355h1.1M491 252h0.8M549 232h0.9M647 257h1.6M401 352h0.9M397 337h1.1M267 247h1.6M322 223h1.1M465 234h1.5M532 252h1.0M444 314h1.1M535 272h1.4M554 325h1.6M630 367h1.5M251 301h1.0M676 332h1.3M406 342h1.4M511 297h0.8M504 269h1.5M455 149h0.8M641 396h1.0M462 207h1.5M493 230h1.4M572 298h0.9M573 250h1.1M382 200h1.6M607 320h1.1M514 203h1.6M293 332h1.2M434 394h1.5" stroke="#e2e4e6" stroke-width="1.2" opacity="0.95" fill="none"/>
<path d="M474 342h1.4M477 224h1.1M726 216h1.2M411 376h1.3M501 285h1.1M481 268h1.6M431 256h1.3M578 358h1.2M415 327h1.2M464 312h0.8M525 171h1.3M573 311h1.4M500 301h1.6M471 349h1.0M373 277h1.3M685 206h0.9M597 274h0.9M475 260h1.7M431 275h1.3M512 209h1.4M418 185h1.6M392 325h1.1M434 317h1.0M524 300h1.0M524 343h1.6M405 285h1.0M685 410h1.6M526 316h1.3M387 373h1.2M621 321h1.3M487 367h0.9M483 303h1.2M449 307h1.1M405 295h1.3M624 295h0.8M679 312h1.0M554 340h1.6M466 254h1.5M497 390h1.0M457 231h1.1M486 424h1.1M466 238h1.0M404 355h1.0M447 227h0.9M548 220h1.1M578 205h0.8M409 270h1.6M726 268h1.6M411 307h1.4M442 253h1.7M662 280h1.5M498 241h1.4M455 256h1.2M336 294h1.3M583 325h0.8M450 300h1.6M645 271h1.1M619 347h0.9M599 271h1.2M336 354h1.0M560 402h1.3M543 184h1.2M291 277h1.0M308 307h1.5M615 314h1.4M552 335h1.6M387 225h0.9M575 332h1.6M649 268h0.8M471 272h1.3M521 245h1.4M521 288h1.7M562 282h1.7M500 272h1.2M536 248h1.3M587 400h1.6M437 295h1.3M612 242h1.5M592 439h0.8M541 232h0.8M474 202h1.0M554 197h0.8M424 227h1.1M396 147h1.5M541 276h1.6M505 327h0.9M464 246h1.6M538 272h1.0M533 296h1.7M499 269h1.2M493 250h1.5M728 376h1.3M530 283h1.5M471 176h1.6M286 347h1.3M538 264h0.9M635 418h1.5M513 353h1.0M582 315h0.9M419 454h1.4M293 293h1.4M503 266h1.5M209 204h1.3M547 259h0.8M523 299h0.9M405 286h1.3M588 224h1.6M512 198h0.8M417 243h1.2M529 219h1.3M458 235h1.6M428 230h1.6M586 239h1.0M523 397h1.3M515 254h1.5M574 227h1.6M476 272h0.9M596 254h1.4M504 300h1.3M562 386h1.0M423 206h1.5M426 331h1.1M359 315h1.3M531 291h1.5M432 328h1.3M497 320h1.3M332 362h0.9M504 309h1.2M517 276h1.2M383 296h1.2M570 341h1.0M524 225h0.8M506 227h1.6M533 236h1.0M617 320h1.5M354 249h1.0M511 279h1.1M396 278h1.2M590 279h1.0M526 216h1.0M569 204h1.3M585 287h1.5M509 184h1.6M447 288h1.1M578 291h1.3M448 352h0.9M430 212h1.1M521 302h1.4M550 296h1.5M541 272h1.1M451 282h1.0M454 174h1.6M555 301h1.1M448 280h1.3M632 329h0.9M530 260h0.9M357 344h0.9M513 249h1.7M627 234h1.2M563 332h0.9M540 290h1.2M492 263h1.1M366 421h1.7M664 254h1.2M362 392h1.2M537 245h1.3M435 273h1.1M434 250h1.0M638 276h1.3M554 361h1.4M647 266h1.7M395 313h1.0M596 319h1.7M370 215h1.5M471 211h1.2M544 250h1.0M510 181h1.5M513 356h1.0M518 351h1.0M490 307h1.2M693 281h1.0M568 266h1.5M381 406h1.5M476 422h1.2M515 199h1.1M525 336h1.5M445 259h1.6M449 255h1.4M664 200h1.1M385 156h1.6M588 304h0.8M466 199h1.1M484 306h1.0M394 283h1.5M363 276h1.2M660 259h0.8M519 247h1.0M451 283h0.9M418 238h1.2M523 293h1.4M552 296h1.3M382 238h1.2M479 276h1.1M555 272h1.4M536 237h1.4M602 363h1.5M476 259h1.6M387 378h1.7M387 191h1.6M497 266h1.6M534 294h1.6M476 362h1.6M415 307h1.2M595 383h1.6M573 253h1.1M549 128h1.4M530 316h1.4M464 321h1.2M645 261h0.8M647 294h0.9M391 285h1.5M405 217h1.3M579 269h1.4M654 398h1.1M514 351h1.5M399 381h1.1M528 313h1.5M440 325h1.7M550 408h1.0M604 401h0.8M598 344h1.3M293 442h1.0M379 371h1.7M639 300h1.4M473 354h1.3M499 285h1.6M552 152h1.0M204 325h1.2M356 338h1.2M474 295h1.5M393 332h0.9M540 300h1.5M315 293h1.5M486 257h1.5M594 364h1.0M422 290h1.1M552 287h1.2M525 335h1.2M440 267h0.8M510 209h1.0M414 274h1.2M481 276h1.2M466 299h1.5M484 342h1.2M483 332h1.0M531 165h1.6M522 367h0.9M590 427h1.7M481 408h0.8M601 335h1.1M440 331h1.6M517 273h1.1M552 221h1.3M341 252h0.9M418 323h0.9M511 324h0.9M444 337h1.1M487 252h1.4M658 225h1.3M509 294h1.6M548 213h1.0M479 284h1.3M522 283h0.9M427 300h0.8M395 223h1.5M561 261h1.3M587 294h1.4M426 302h1.4M471 355h1.6M493 276h1.7M416 376h1.1M400 241h1.1M449 266h0.9M475 166h0.8M365 198h1.1M642 349h1.6M412 321h0.8M573 362h1.2M471 305h1.6M438 269h0.8M310 288h1.5M485 327h1.4M565 338h1.7M345 282h0.8M437 349h1.2M521 314h0.8M450 346h1.4M562 377h1.6M584 313h1.5M576 329h0.9M369 354h1.2M533 361h1.5M534 366h1.1M581 409h1.6M644 388h1.5M394 279h1.1M484 219h0.9M621 319h1.2M514 417h0.9M632 299h0.9M440 308h1.3M465 289h1.5M581 355h1.5M693 379h1.1M571 152h0.9M583 228h1.4M521 289h0.9M583 304h1.0M442 253h1.5M627 319h0.8M441 261h1.1M491 303h1.6M504 293h1.1M635 221h1.6M379 236h1.1M524 331h1.3M481 265h0.8M580 238h1.6M456 354h1.1M503 168h1.0M680 343h1.3M448 378h1.2M371 264h1.6M542 385h1.2M609 263h1.5M359 284h1.6M445 196h1.5M453 375h1.2M559 351h1.1M522 445h1.2M467 266h0.9M617 283h0.8M396 228h1.2M582 339h1.3M520 246h0.8M353 352h1.1M427 262h1.1M412 294h0.9M618 311h1.7M482 305h0.8M470 284h1.2M575 343h1.0M572 246h1.7M628 334h1.7M569 292h1.5M553 250h1.1M487 301h1.3M620 210h1.6M390 288h1.5M500 472h1.5M473 143h1.6M467 262h1.5M430 322h1.6M359 357h1.6M462 263h0.8M345 243h0.9M381 262h1.2M362 258h1.0M622 315h0.9M526 303h1.2M472 304h1.4M556 397h1.4M513 365h1.4M519 306h1.2M662 307h1.5M518 336h0.9M605 295h1.5M437 235h1.1M526 183h1.7M477 320h1.7M355 361h1.3M574 287h1.6M528 356h1.0M516 291h1.4M407 196h1.1M436 292h1.0M621 288h1.1M549 225h1.1M535 318h1.3M470 199h1.0M665 262h1.1M521 299h1.6M411 346h1.0M478 225h0.8M654 258h1.3M368 332h1.7M336 251h1.3M579 303h0.9M470 334h1.2M392 278h1.6M423 315h1.1M495 371h1.3M385 266h1.0M705 231h1.6M466 217h1.4M466 301h1.6M528 399h1.6M494 228h1.5M705 307h1.3M571 366h1.2M558 357h1.1M418 289h0.9M422 388h1.5M593 377h1.5M420 306h1.0M316 347h1.3M525 264h0.9M523 390h1.0M556 386h0.9M532 211h1.4M566 278h1.2M549 316h1.0M423 342h0.9M471 419h1.4M551 303h0.8M531 246h1.3M577 321h1.6M614 242h1.1M533 281h1.1M480 281h1.4M493 184h1.5M521 297h0.9M410 237h0.8M460 213h1.2M605 165h1.7M448 376h1.7M457 138h1.1M627 232h1.5M457 309h1.6M448 388h1.7M473 187h1.1M502 222h1.0M589 337h0.8M665 301h1.5M493 351h1.2M405 270h0.9M320 267h1.0M443 410h1.4M465 306h1.0M538 342h0.9M635 455h1.4M484 257h1.5M502 370h1.0M446 326h1.4M375 285h1.1M690 356h1.3M418 305h1.2M561 315h1.4M619 252h1.3M538 257h1.2M355 293h1.7M410 304h1.1M520 252h1.4M551 319h1.2M361 339h1.4M538 164h0.9M306 247h1.2M479 271h1.3M607 299h1.3M455 281h0.9M446 216h1.1M610 347h1.1M576 333h1.3M593 340h1.0M644 248h1.4M519 283h1.0M499 325h1.1M651 291h1.2M574 370h1.0M436 266h1.0M511 287h1.5M614 328h1.6M369 341h1.6M437 298h1.4M527 223h1.6M577 205h1.5M485 354h1.3M408 263h1.4M578 268h1.2M644 355h1.6M457 318h1.6M516 395h0.8M657 271h0.9M493 333h1.0M527 302h1.3M702 350h0.8M411 421h0.9M480 178h1.1M341 419h1.0M476 281h1.4M485 240h1.4M650 312h1.5M427 143h1.2M581 357h0.9M502 315h1.2M622 228h1.1M514 339h1.5M495 221h1.4M451 348h1.4M424 226h0.9M520 193h1.4M611 303h1.1M657 149h1.6M394 231h1.6M523 296h0.9M615 366h0.9M587 249h1.1M567 242h1.0M494 185h1.1M542 353h1.7M469 307h0.9M536 293h1.1M565 212h1.6M565 245h1.7M661 271h1.6M580 308h1.3M570 326h1.0M437 325h1.1M657 159h0.9M547 325h0.8M638 239h1.6M483 247h1.2M488 271h0.9M405 273h1.0M508 336h1.6M339 194h1.3M473 337h1.6M522 283h1.1M602 295h1.1M421 344h1.0M516 401h1.6M507 222h1.6M712 355h1.2M547 336h1.1M404 237h1.0M618 282h0.9M535 288h1.1M523 271h1.4M495 344h1.3M490 191h1.6M515 264h1.1M559 401h1.3M441 247h1.6M534 362h1.4M499 286h1.2M523 268h1.3M606 250h0.9M432 254h1.3M366 305h1.0M523 266h1.1M506 313h1.3M387 266h1.0M573 341h1.3M480 397h1.5M490 184h1.3M567 164h1.3M418 155h1.7M491 245h1.4M514 303h1.0M446 278h1.1M502 376h1.5M436 218h0.9M448 353h1.5M451 205h1.5M560 274h1.5M598 233h1.5M597 210h1.6M538 226h1.6M523 277h1.3M413 369h1.6M559 247h0.9M555 361h1.6M712 307h1.5M531 187h1.6M550 295h1.1M550 359h1.6M519 210h0.9M514 303h1.2M431 315h0.9M631 262h1.5M503 216h1.2M385 395h0.9M469 249h1.6M540 155h1.3M353 308h1.5M421 450h1.1M580 347h1.3M751 302h0.8M561 273h0.9M467 309h1.3M598 274h1.3M436 230h1.7M355 248h1.3M427 424h1.7M382 278h1.5M574 259h0.9M428 236h1.7M506 226h1.6M537 313h1.0M569 320h1.6M537 289h1.1M610 223h1.3M441 291h1.6M525 205h1.2M516 124h1.5M550 244h1.0M399 247h1.2M490 354h0.9M563 298h0.8M468 182h1.1M386 318h1.2M483 361h0.9M720 312h1.1M414 280h1.0M592 222h1.0M397 288h1.4M514 339h1.6M586 270h1.5M447 312h1.7M465 351h1.1M474 297h1.5M612 218h1.2M428 293h1.1M573 240h1.6M414 385h0.9M413 311h1.0M735 264h1.2M584 446h1.7M563 265h0.9M357 208h1.0M535 293h1.5M533 336h1.6M552 311h1.3M454 344h1.1M418 286h1.1M605 382h1.4M398 387h1.3M472 153h1.3M488 314h1.3M478 285h1.6M469 312h1.6M491 307h1.7M558 258h1.2M487 373h1.6M568 331h1.2M334 282h1.1M658 362h1.1M585 373h1.1M437 337h1.6M371 362h1.3M530 255h1.6M483 196h1.4M466 201h1.0M432 232h0.9M486 310h1.4M445 238h1.4M623 266h1.1M418 360h1.0M520 377h0.8M542 382h0.9M445 380h1.4M473 169h1.3M438 396h1.2M442 219h1.3M476 502h0.9M453 337h1.0M554 310h1.6M397 209h1.4M389 338h1.0M441 276h0.8M428 242h1.5M377 273h1.1M531 199h1.2M473 297h1.4M633 259h1.3M614 320h1.4M365 343h1.2M356 360h1.2M513 205h1.6M499 223h0.9M720 240h1.4M579 244h1.1M539 254h1.1M455 284h1.3M473 451h0.9M314 312h1.2M557 237h1.6M598 326h1.3M436 191h1.5M357 233h1.1M561 222h1.4M524 368h1.4M373 279h1.1M430 319h1.5M498 208h1.5M553 314h1.3M552 352h0.8M406 342h1.4M439 342h1.1M411 196h1.0M466 380h1.1M548 191h0.8M533 189h1.5M437 334h1.5M414 345h1.1M699 349h1.3M440 302h1.1M509 309h1.7M475 274h1.5M509 276h1.7M412 261h1.4M501 272h0.9M523 357h0.9M525 288h0.9M385 389h1.0M312 237h1.3M667 231h1.6M551 182h1.5M454 333h1.5M596 189h0.9M382 278h1.3M375 260h0.9M518 245h0.9M508 323h1.2M569 343h1.1M549 293h1.1M571 310h1.3M580 330h1.6M548 374h1.2M433 294h1.0M669 353h1.2M561 238h1.0M431 323h1.2M520 311h1.5M587 313h1.3M635 291h1.7M565 343h1.5M480 334h0.9M527 283h0.9M516 162h0.9M445 217h0.8M449 300h1.6M568 316h1.2M659 380h0.8M538 266h0.8M415 295h1.2M388 314h1.4M396 423h1.5M622 245h1.0M450 347h1.0M563 188h1.0M488 254h1.6M561 362h1.2M411 237h1.5M454 276h1.4M470 296h1.3M558 236h0.9M250 249h0.9M520 240h0.9M592 329h1.3M515 317h1.0M539 307h0.9M477 176h0.8M358 229h1.0M703 357h1.3M442 255h1.4M585 256h1.5M431 310h1.2M576 264h1.6M432 340h0.8M694 315h1.0M456 266h0.9M631 360h1.6M517 257h1.5M695 249h1.0M549 234h1.4M570 288h1.2M497 209h0.9M495 284h1.4M633 270h1.4M501 336h1.0M500 328h1.5M561 207h1.4M535 253h1.5M574 401h1.6M560 265h1.4M549 360h1.6M435 295h1.5M636 273h1.2M483 402h1.0M394 292h1.1M440 236h1.5M608 342h1.1M534 192h0.9M421 308h1.6M600 347h1.1M700 291h1.6M439 317h0.9M651 346h1.4M613 220h1.5M456 311h1.2M347 341h1.2M552 353h1.0M562 444h1.1M647 311h1.7M456 369h1.0M575 195h1.7M540 245h1.6M444 369h1.2M571 295h1.1M497 294h1.0M403 301h1.4M544 283h1.6M505 371h1.7M506 391h1.2M486 328h1.1M415 227h1.5M395 253h1.6M414 287h1.7M565 270h1.6M593 187h0.9M404 317h1.4M489 368h1.0M586 358h1.0M543 295h1.5M425 291h1.2M439 353h1.6M561 323h1.5M657 278h1.2M437 244h1.2M508 298h0.9M504 272h0.8M737 271h0.9M478 248h1.0M564 328h1.0M478 237h1.6M452 338h1.0M490 325h1.5M407 297h1.7M465 148h1.4M636 314h1.3M614 347h1.7M471 266h1.5M465 362h1.2M590 331h1.6M548 280h0.9M663 222h1.6M576 316h1.2M485 298h1.5M657 276h0.9M434 241h1.0M380 290h1.3M501 274h0.9M431 289h1.2M425 360h1.2M524 309h1.4M616 341h1.6M513 177h1.5M538 296h1.2M623 289h1.3M454 368h1.2M440 336h1.4M431 343h1.4M412 248h1.6M454 202h1.2M581 193h1.7M421 293h1.1M560 266h1.0M546 365h1.5M578 299h1.7M649 259h1.3M565 271h1.3M561 338h0.8M455 267h1.2M536 340h1.3M450 281h1.4M412 395h1.2M586 393h1.3M500 342h1.6M483 237h1.3M465 277h1.1M639 222h1.2M555 266h1.0M537 410h1.7M498 301h1.4M506 264h1.3M535 504h1.3M540 365h1.6M443 210h1.1M491 284h1.0M378 283h1.3M510 307h1.6M469 285h0.9M541 438h1.3M544 166h1.4M462 291h0.9M533 334h0.9M383 248h1.4M478 270h1.3M437 264h1.4M388 201h1.6M511 253h1.5M456 218h1.5M444 403h1.7M585 351h1.5M640 269h1.4M400 393h1.6M569 254h1.0M548 338h1.6M611 212h1.3M570 354h1.6M584 362h1.6M510 320h0.8M218 335h1.1M394 264h1.3M601 250h1.5M660 344h0.9M424 266h1.1M535 319h1.6M492 184h1.2M374 280h0.8M497 263h1.5M545 324h1.2M539 338h1.2M627 291h1.0M464 335h1.1M547 308h1.3M449 225h1.1M428 331h1.3M424 398h1.4M624 420h1.5M558 268h1.1M623 276h1.6M495 305h1.4M511 252h0.9M543 364h1.6M481 348h1.3M533 295h1.2M452 323h1.7M498 335h1.1M439 287h1.4M583 271h1.0M458 272h1.6M503 193h0.8M605 249h1.0M656 291h1.2M469 277h1.7M517 271h1.6M552 246h1.6M396 202h1.3M659 298h1.4M420 333h1.5M345 318h1.6M339 314h1.4M552 290h1.6M514 368h1.2M508 253h1.4M451 238h1.1M370 253h0.9M590 185h0.9M411 268h1.1M356 318h1.5M541 351h1.1M621 301h1.1M342 358h1.0M485 318h1.0M451 328h1.2M541 313h1.7M533 293h1.0M460 253h1.2M592 265h1.0M545 354h1.0M515 269h1.0M470 285h1.6M504 262h0.9M505 332h1.7M658 367h1.0M386 272h1.5M555 259h1.0M428 298h1.0M561 265h0.8M525 301h1.2M550 296h0.9M522 389h1.2M422 250h0.9M528 227h1.0M501 227h1.5M332 147h0.8M495 311h1.3M426 311h1.1M388 228h1.4M519 320h1.0M482 282h1.0M457 368h1.3M666 361h1.2M469 235h1.3M453 358h1.4M450 268h1.3M521 430h1.6M634 225h1.4M512 341h1.1M482 272h1.4M697 385h1.6M471 202h1.6M531 292h0.9M533 266h1.0M351 239h0.9M567 123h1.5M553 359h1.5M564 198h1.1M633 346h1.7M509 235h1.5M619 322h1.6M370 225h1.5M373 202h0.8M447 372h1.0M528 353h1.5M534 288h0.9M566 270h1.6M607 271h1.6M513 332h1.6M572 271h0.9M518 281h1.0M552 294h0.9M608 345h1.5M389 285h1.3M691 330h1.7M512 292h1.3M728 278h1.6M563 346h1.1M433 375h1.6M593 265h1.7M665 271h1.0M560 232h1.3M446 285h0.8M516 299h1.3M429 303h1.6M470 288h1.3M569 180h1.2M410 332h1.0M473 344h1.7M442 325h1.1M440 224h1.1M477 294h1.0M425 219h1.1M575 283h1.5M537 315h1.4M511 278h1.6M526 298h1.0M639 277h1.0M738 224h1.0M582 361h1.6M496 250h1.0M451 383h0.8M504 260h1.6M567 354h0.9M418 353h1.6M555 224h0.8M409 330h1.4M545 333h1.3M498 235h1.7M434 310h1.2M454 325h1.1M465 311h1.1M480 350h0.9M505 382h1.4M546 187h1.4M544 267h1.5M514 297h1.1M633 335h1.2M543 274h0.8M365 309h1.3M509 365h1.6M548 306h1.1M553 303h1.0M434 269h1.0M476 254h0.9M402 252h1.5M463 307h1.0M511 231h1.2M625 301h1.1M633 257h1.5M603 167h1.0M657 203h1.6M414 311h0.8M428 383h1.5M370 372h0.9M387 313h1.4M521 245h1.0M565 229h1.4M554 127h1.5M706 212h0.9M615 368h1.6M610 330h1.5M529 241h1.3M338 208h1.5M446 314h1.2M433 197h1.5M453 226h1.3M448 373h1.1M507 298h1.6M555 272h1.3M604 428h0.9M606 240h1.4M522 147h1.5M536 365h1.2M424 246h1.0M569 201h1.4M487 356h1.5M626 290h1.2M449 305h1.4M663 279h1.2M477 331h1.1M504 365h0.8M560 344h1.3M377 230h1.0M566 427h1.7M469 442h1.3M571 340h1.1M421 238h1.4M425 354h1.6M526 287h1.7M537 383h1.1M485 251h1.4M561 328h1.6M702 255h0.8M323 253h0.9M508 318h1.3M513 312h1.0M570 245h1.4M506 221h1.3M408 249h1.7M536 255h1.2M523 262h1.6M508 355h0.8M497 268h1.0M612 340h1.6M608 267h1.5M561 217h1.4M423 252h1.4M571 355h1.1M540 384h1.0M610 379h1.0M631 314h1.3M542 223h1.7M457 285h1.3M475 294h1.0M418 253h1.5M406 137h1.5M583 340h1.5M477 341h1.2M447 407h1.1M575 354h0.9M538 208h1.1M582 315h1.6M611 260h1.3M634 226h1.1M501 283h1.2M524 360h1.6M472 257h1.5M557 154h1.4M484 240h0.9M597 328h0.9M566 255h1.4M454 297h1.3M504 331h1.4M509 237h0.8M471 247h1.3M450 272h0.9M620 202h1.3M698 239h1.3M370 282h1.3M473 258h0.9M402 184h0.8M650 314h1.4M686 184h1.6M293 278h1.3M540 310h1.1M649 313h0.9M535 176h1.6M614 312h1.0M592 319h0.9M475 227h1.4M418 237h0.9M624 186h0.9M383 405h1.2M563 273h0.9M524 230h1.3M385 261h1.1M439 341h1.0" stroke="#cdd2d6" stroke-width="1.0" opacity="0.9" fill="none"/>
<path d="M388 321h1.3M746 290h0.9M464 274h1.4M532 383h1.6M364 196h1.3M420 352h0.9M530 261h1.1M543 267h1.2M502 210h1.3M385 246h1.4M659 323h1.7M510 279h1.0M641 247h1.3M660 250h1.2M499 353h1.2M506 436h1.5M430 248h1.1M533 277h1.5M431 437h1.3M429 178h0.8M478 327h1.5M493 363h1.6M528 190h0.9M484 350h0.9M480 227h0.9M463 277h1.1M557 240h1.6M703 282h1.2M535 390h1.0M471 267h1.1M570 298h1.3M575 274h1.6M495 368h0.9M354 296h1.5M563 127h1.4M413 239h1.3M590 315h1.6M552 359h1.4M462 285h1.3M497 243h1.2M472 321h0.9M502 312h1.3M593 238h1.3M568 361h1.3M477 406h1.4M602 206h1.5M508 317h1.3M506 288h0.8M569 231h1.0M700 430h0.8M606 239h1.5M680 344h0.9M593 281h1.7M402 345h0.9M544 332h1.5M487 305h1.4M470 301h1.6M490 245h1.6M627 312h1.1M456 382h1.5M400 381h1.5M614 264h0.8M371 387h1.4M550 367h1.7M345 232h0.9M426 263h0.8M486 457h1.6M503 194h1.7M662 260h1.1M607 246h1.5M489 317h0.8M435 260h1.3M509 254h1.4M460 446h1.2M541 213h1.6M531 298h1.0M490 336h1.1M359 153h1.0M595 165h1.2M616 237h1.3M675 317h1.4M538 350h1.1M467 158h1.6M558 284h1.5M496 290h1.3M704 363h1.4M505 335h1.6M580 255h1.2M580 318h1.2M396 299h1.5M623 345h1.0M484 406h0.9M535 368h1.1M411 107h0.9M464 389h1.6M404 345h1.6M599 251h1.2M708 363h1.6M401 244h1.7M477 377h1.5M288 271h1.3M521 267h1.0M492 293h1.6M543 315h1.2M447 219h1.0M610 285h0.9M426 256h0.8M616 323h0.9M482 298h1.4M455 246h1.0M495 313h1.4M507 257h1.2M607 279h1.4M571 372h1.5M453 278h1.7M394 292h1.0M574 122h1.4M448 231h1.2M606 160h0.9M551 379h1.1M476 391h1.2M384 271h1.7M411 307h0.8M567 228h1.4M700 325h1.6M594 343h1.0M322 313h1.5M523 210h1.0M409 221h1.4M444 204h1.4M440 445h1.3M419 356h1.6M509 222h1.0M339 426h1.5M438 351h1.2M594 312h1.5M461 290h0.8M558 343h0.8M574 242h1.4M452 231h1.1M570 218h1.3M507 183h1.1M429 414h1.5M552 242h1.2M541 225h0.9M447 331h1.3M606 305h1.4M499 353h1.5M453 302h1.5M463 375h1.0M353 118h1.0M608 237h1.5M557 296h0.9M594 374h1.5M479 296h1.0M628 259h1.3M444 268h0.8M530 295h1.1M615 243h0.8M689 390h1.2M563 335h0.9M471 242h1.0M542 367h1.4M501 286h1.1M610 324h0.9M620 225h1.2M446 288h1.5M386 260h1.5M686 217h1.2M510 300h1.5M496 221h1.5M521 318h1.5M524 365h1.0M354 258h1.1M488 324h1.3M370 288h1.1M401 244h1.0M551 217h1.2M470 273h0.8M555 175h1.3M647 289h1.6M425 276h1.2M483 224h0.8M585 184h0.9M364 253h1.7M488 202h1.0M513 282h1.2M502 369h1.2M583 346h1.3M405 337h0.8M562 384h1.2M683 275h1.6M512 383h1.2M421 217h1.3M436 234h1.6M413 391h1.5M443 302h1.3M298 304h1.4M560 354h1.4M324 263h1.1M678 248h1.0M501 337h1.6M567 367h1.1M479 391h1.2M594 292h0.9M469 245h1.0M563 281h1.1M623 310h0.9M359 224h1.6M453 258h1.2M528 231h0.9M388 354h1.7M492 284h1.0M442 408h1.3M424 284h1.0M504 276h1.0M595 230h1.0M538 254h0.9M447 243h1.1M452 323h1.3M472 278h1.4M579 331h1.1M571 357h1.2M511 305h0.9M496 413h1.6M254 235h1.0M493 219h1.6M734 326h0.9M499 262h1.3M412 336h1.5M491 307h1.4M549 181h1.6M506 198h1.2M418 362h1.0M529 212h1.3M525 301h1.5M462 319h0.9M492 238h1.6M535 331h0.9M384 335h0.9M402 188h1.7M737 198h1.0M525 367h1.1M564 326h1.7M484 319h0.8M485 220h1.5M488 369h1.5M392 229h0.9M304 293h1.0M374 313h1.1M497 285h1.4M527 379h1.0M475 197h1.6M450 294h1.2M528 207h1.1M510 271h1.2M421 351h1.2M432 326h0.8M555 150h1.1M518 350h1.2M456 253h1.0M617 291h0.8M346 346h1.0M348 288h1.7M691 169h1.2M587 340h1.3M689 225h0.8M544 373h1.4M444 247h1.0M550 354h1.4M608 237h1.3M526 353h1.2M540 323h1.5M389 310h1.4M532 370h1.0M396 297h1.0M528 285h1.6M429 216h1.4M505 425h1.5M350 451h1.6M446 343h1.3M630 314h0.9M472 389h1.6M616 305h0.9M510 260h0.8M514 348h1.1M578 248h1.3M561 312h1.1M647 348h1.0M564 280h1.1M672 345h0.8M387 226h0.8M522 370h0.8M513 255h1.5M679 335h1.0M509 356h1.5M433 243h1.5M545 221h1.1M533 337h1.4M580 269h1.1M456 286h1.6M626 281h1.6M547 422h1.1M531 377h1.3M592 271h0.9M460 297h0.9M644 244h1.0M500 235h0.8M419 407h1.5M599 353h1.7M569 319h1.6M607 332h1.0M503 266h1.6M561 247h0.8M564 343h0.9M504 330h1.2M594 360h1.3M341 180h1.3M337 381h1.6M614 337h1.2M602 378h1.2M545 295h1.3M269 275h1.1M539 326h1.5M467 322h1.6M482 290h1.5M290 301h1.4M554 301h1.0M641 322h0.9M563 256h1.3M638 335h1.0M623 286h1.0M536 252h1.5M319 261h1.1M454 279h0.8M549 269h1.2M504 251h1.5M530 317h1.5M586 315h1.6M442 215h0.9M369 210h1.5M570 359h1.3M501 393h1.2M509 268h1.1M293 238h1.1M644 440h1.4M389 378h1.0M515 298h1.4M522 407h1.3M321 204h0.8M429 209h1.3M491 230h1.4M614 322h1.5M627 283h1.6M615 238h1.3M580 341h0.9M569 412h1.2M599 122h1.4M498 390h0.9M383 309h1.3M578 191h1.7M630 234h1.0M575 271h1.6M524 306h1.4M365 299h1.3M471 314h1.2M482 223h1.0M586 393h1.6M512 218h1.6M398 208h1.2M442 249h1.1M684 375h1.5M552 307h1.1M625 233h1.5M521 294h1.0M398 155h1.0M623 261h1.2M537 200h1.0M516 289h1.7M496 258h0.9M530 379h1.6M274 348h1.4M352 287h1.5M472 398h1.1M526 349h1.4M628 277h1.7M508 226h1.4M510 312h1.2M466 393h0.9M483 244h1.1M453 237h1.4M466 311h1.5M467 314h1.3M453 361h1.7M396 372h1.0M464 353h1.0M523 352h1.7M475 278h0.9M432 330h1.6M578 275h1.0M571 340h1.0M518 268h1.2M418 305h1.0M413 357h1.0M565 317h1.3M396 276h1.6M601 276h1.1M509 264h1.5M695 315h1.6M434 257h1.3M449 320h1.6M543 306h1.1M406 190h1.2M555 304h1.1M550 278h0.8M450 274h1.4M439 234h1.0M391 372h1.3M515 285h1.5M371 359h1.0" stroke="#dde6b8" stroke-width="1.1" opacity="0.9" fill="none"/>
<path d="M207 572h1.0M228 515h1.2M286 513h1.5M111 502h1.6M88 474h1.4M195 520h1.3M101 530h0.9M167 531h1.0M236 458h1.4M131 492h1.5M195 515h1.1M113 474h1.0M51 510h1.1M143 529h1.2M170 519h0.9M128 510h1.0M105 528h1.7M115 514h1.1M160 493h0.8M150 502h0.9M108 503h1.4M144 541h0.9M62 506h1.1M7 493h1.5M97 477h1.3M97 542h0.8M150 485h1.2M34 514h0.8M49 537h1.6M22 503h1.5M143 507h0.9M97 536h0.9M18 521h1.0M157 483h1.7M212 479h1.4M38 502h1.7M61 525h1.4M139 477h1.2M146 486h1.6M180 511h1.3M86 495h1.6M148 500h1.0M114 570h1.1M142 500h1.1M102 520h1.2M162 509h1.3M84 532h1.6M191 543h0.8M155 524h1.3M209 515h0.9M127 488h1.3M38 480h1.1M320 497h0.9M121 496h1.5M114 498h1.1M196 521h1.6M112 541h0.8M173 510h1.0M149 522h1.3M248 510h1.0M160 488h1.4M2 485h1.5M125 542h1.2M67 532h1.4M116 495h1.2M144 529h1.7M237 515h0.9M125 538h1.7M110 480h1.2M172 479h1.1M28 494h1.6M254 510h1.6M136 527h1.7M93 490h1.5M200 457h1.0M129 510h1.4M105 505h1.4M228 516h1.3M171 496h1.4M195 481h0.8M262 494h1.5M157 509h0.8M153 498h1.5M156 478h0.9M161 496h1.5M125 539h1.4M150 504h1.1M138 503h1.1M230 502h1.5M113 518h0.9M76 505h1.4M3 517h0.8M137 513h1.5M218 504h1.2M157 531h1.0M106 517h0.9M37 495h0.9M75 486h1.4M224 532h1.3M150 491h1.5M135 512h1.0M144 477h1.3M240 517h1.5M131 482h1.5M131 499h1.5M161 543h1.5M172 487h0.9M23 490h1.6M187 569h1.2M226 494h1.5M226 513h1.5M146 474h0.9M204 501h1.4M16 533h1.1M168 493h1.3M205 483h1.0M124 524h0.9M139 507h1.1M98 521h1.0M40 511h0.8M30 518h1.7M163 504h1.4M81 524h1.3M129 536h1.5M29 518h1.7M172 553h0.8M169 519h1.6M94 482h1.6M148 486h1.5M183 502h1.0M192 502h1.0M196 522h0.9M142 519h0.9M102 520h1.3M88 549h1.4M164 517h0.9M108 501h1.3M196 477h1.6M157 510h1.5M175 496h1.6M139 522h1.2M162 506h1.0M110 484h1.4M183 489h0.8M152 512h1.4M214 499h1.3M138 511h1.1M178 525h1.6M220 488h1.7M267 497h1.1M213 508h1.0M155 538h1.5M193 513h0.8M163 507h1.4M153 520h1.2M196 518h1.5M206 506h1.6M195 517h1.1M230 551h1.2M220 513h1.2M155 515h1.6M145 502h1.5M163 496h1.1M145 503h0.9M254 516h1.1M174 468h1.3M124 526h1.3M170 522h1.6M108 467h1.2M169 541h1.1M207 500h1.0M146 456h1.7M83 476h1.6M214 491h1.0M199 521h1.2M150 515h1.5M136 507h1.1M186 527h1.0M124 502h0.9M232 508h1.3M69 519h1.3M211 493h1.3M259 501h0.9M36 511h1.3M245 483h1.0M173 493h1.1M202 501h1.0M55 505h1.4M129 543h1.4M159 503h1.3M156 517h1.3M130 503h1.6M227 516h1.6M142 507h1.2M52 512h1.5M81 496h1.1M171 502h1.7M129 495h1.7M132 509h1.0M278 522h1.6M115 517h1.5M175 508h1.5M109 508h1.5M139 499h1.5M138 492h1.2M155 516h1.6M115 506h1.4M148 535h1.3M131 486h1.3M175 509h1.0M264 496h1.0M160 511h1.2M250 460h1.6M150 536h0.9M12 486h1.0M94 507h1.1M135 519h1.2M285 527h1.3M119 521h1.6M145 522h1.1M199 530h0.9M162 520h1.5M142 467h1.6M117 486h1.6M225 498h0.8M60 521h1.5M188 531h1.3M175 532h1.5M172 538h1.5M49 474h1.7M154 472h0.8M186 504h1.0M194 494h1.6M114 487h1.4M153 498h1.1M258 491h1.3M133 493h1.3M137 497h1.5M224 508h1.2M139 501h1.3M190 469h1.0M173 466h0.8M107 476h1.3M204 515h1.6M197 493h1.2M139 483h1.0M112 539h0.8M151 501h1.3M241 517h1.1M146 509h0.9M180 510h1.6M271 492h1.4M191 502h0.9M181 498h1.3M117 519h1.0M102 519h1.0M265 524h1.5M84 472h1.4M161 527h1.4M124 479h1.0M183 499h1.2M101 468h1.5M54 509h1.3M172 497h1.0M33 505h1.4M142 500h1.4M108 514h1.5M199 507h0.9M141 527h1.4M148 562h1.3M166 500h1.7M99 508h1.2M233 535h1.6M187 504h1.0M147 525h1.6M98 499h1.0M114 480h1.4M77 481h1.4M7 527h1.5M271 478h1.0M75 540h1.4M83 492h1.3M197 514h1.5M134 518h1.4M143 504h1.5M76 507h1.0M257 551h1.7M143 499h1.4M191 497h1.4M125 490h1.3M214 470h1.2M200 534h1.0M232 482h1.4M154 515h1.6M173 503h1.5M174 509h1.2M155 496h1.0M81 538h1.3M46 521h1.4M110 520h1.7M61 466h1.3M231 469h1.6M170 521h1.2M217 487h1.4M278 525h0.9M303 509h1.5M246 491h1.3M70 505h1.4M125 484h0.9M119 489h1.4M114 522h1.3M134 495h1.4M151 513h1.2M140 517h1.7M94 520h1.0M203 506h1.2M193 479h1.1M157 512h1.1M116 524h1.1M99 532h1.2M104 523h1.1M121 517h1.5M82 527h1.3M207 488h0.8M132 523h1.4M154 531h0.9M208 519h1.2M182 495h1.1M168 505h1.2M154 494h1.1M214 475h1.6M182 520h0.9M103 507h1.5M205 547h1.3M97 514h1.5M227 527h1.7M155 510h1.2M169 502h1.2M179 496h1.1M231 546h1.0M111 512h1.3M198 523h1.5M151 502h1.6M182 504h1.5M130 502h1.4M145 500h0.9M180 511h1.3M94 501h1.7M151 504h1.4M121 507h1.1M279 495h1.1M160 495h0.9M167 505h1.2M192 494h1.0M170 503h1.3M192 509h1.0M171 517h1.4M212 491h1.1M241 506h1.3M157 476h1.0M29 499h1.7M105 490h1.3M63 511h1.5M147 513h1.5M237 495h1.3M178 496h1.3M81 478h1.2M165 484h1.4M183 489h1.4M170 520h1.2M135 523h1.4M242 515h0.8M176 546h0.9M155 501h1.7M214 504h0.9M113 500h1.5M163 534h1.6M205 520h1.7M190 487h1.6M166 521h0.9M151 489h1.4M226 499h1.4M136 508h1.1M57 508h1.1M190 515h1.2M168 500h0.8M105 499h1.0M108 493h1.2M133 505h1.7M36 491h1.7M43 503h1.1M138 497h1.0M239 508h1.2M220 511h1.1M125 473h1.2M149 467h1.4M142 505h1.1M56 482h1.2M229 536h1.2M137 487h1.3M80 483h1.5M215 520h1.4M27 522h1.6M84 484h1.5M218 497h0.9M125 510h1.7M96 488h1.3M169 513h1.6M153 481h1.4M150 525h1.4M100 524h1.1M217 481h1.4M229 501h1.6M121 518h1.2M49 491h1.2M192 538h1.7M136 524h0.9M85 500h1.4M177 502h1.5M126 480h0.9M86 521h1.3M134 517h1.0M88 496h0.9M249 527h0.9M201 525h1.1M114 497h1.6M208 504h1.1M188 505h1.3M194 507h0.9M151 507h1.0M163 498h1.2M113 520h0.9M85 469h1.5M165 499h0.9M220 469h1.5M219 505h1.3M112 526h1.0M287 476h1.2M204 544h1.0M71 491h1.3M329 517h1.6M168 470h1.0M241 508h1.6M85 516h1.4" stroke="#d9dcde" stroke-width="1.0" opacity="0.9" fill="none"/>
<path d="M242 497h1.4M263 504h1.1M241 495h1.3M270 513h1.0M251 519h1.5M228 490h1.2M209 478h1.3M240 495h1.0M219 514h0.9M214 500h1.1M230 483h1.5M196 487h1.4M202 519h1.1M201 498h0.9M230 507h1.4M261 515h1.6M247 498h1.0M256 474h1.1M262 496h1.4M220 501h0.8M213 489h1.0M239 502h1.3M237 469h1.1M261 488h1.6M280 504h0.9M239 512h1.1M253 492h1.1M214 495h0.9M307 488h1.0M209 497h1.4M210 477h1.4M213 512h1.2M247 518h1.6M224 517h1.0M285 507h1.2M237 504h1.5M226 511h1.3M217 505h1.6M242 536h1.0M208 517h1.3M235 497h1.4M214 505h1.0M231 501h1.3M257 495h1.6M213 506h1.2M197 511h1.5M203 488h1.0M256 504h1.7M221 498h1.4M238 490h1.1M251 518h1.1M262 491h1.3M233 505h1.1M237 496h1.5M271 495h1.3M233 505h1.2M262 484h1.0M243 501h1.5M244 496h1.3M214 480h1.6M238 519h1.0M204 511h1.6M230 486h1.2M222 494h0.9M280 504h1.5M199 507h1.6M258 500h1.7M264 516h1.1M206 485h1.6M221 480h1.3M253 501h0.8M246 485h1.5M235 495h1.3M205 523h1.3M237 515h1.0M235 487h1.1M189 492h1.7M204 501h0.8M287 506h1.2M209 516h0.9M221 500h1.5M219 521h1.3M229 493h1.2M208 501h1.0M233 497h1.1M277 468h1.5M260 513h1.6M265 506h1.4M257 492h1.0M245 505h0.8M226 485h1.0M227 499h1.0M278 498h1.1M284 481h1.2M220 502h1.2M239 523h1.5M198 482h1.7M264 487h1.0M246 500h1.2M269 488h1.3M244 485h1.2M217 502h1.3M227 481h1.4M236 467h0.8M250 520h1.0M275 481h1.0M253 512h1.5M255 510h1.2M202 534h1.0M244 484h0.9M248 496h1.4M238 507h1.2M269 515h1.3M235 504h1.6M224 495h1.4M264 482h1.7M237 496h1.6M198 493h1.4M210 485h1.3M262 512h0.8" stroke="#dcdfe1" stroke-width="1.0" opacity="0.9" fill="none"/>
<path d="M171 309h1.4M164 335h1.7M260 308h1.1M133 315h1.5M144 324h1.6M192 328h1.3M207 335h1.0M165 328h1.5M214 310h1.1M191 318h1.4M220 315h1.7M160 307h1.4M185 321h1.0M251 314h1.4M42 316h1.1M196 324h1.6M184 303h1.7M255 307h1.6M212 318h1.3M189 321h1.4M123 306h1.7M238 329h1.1M232 315h1.1M255 311h1.1M145 314h0.8M139 316h1.1M229 322h1.5M162 325h0.9M82 320h0.9M122 310h0.9M244 319h1.3M231 326h1.6M93 351h1.2M81 307h1.2M175 329h0.8M191 311h1.3M145 329h0.9M118 308h1.2M91 320h1.5M214 319h1.0M140 317h0.8M192 315h1.3M143 324h0.9M169 321h1.1M100 314h1.4M92 315h1.1M224 304h1.6M230 309h1.5M161 334h1.1M180 304h1.1M239 327h1.7M105 331h1.5M177 318h1.0M216 322h1.1M130 322h0.9M124 316h1.4M138 330h1.2M155 307h1.3M255 321h1.3M152 329h1.6M150 320h1.6M188 311h1.0M154 323h0.9M228 329h1.4M119 313h0.8M263 343h0.9M198 312h1.0M196 310h0.9M185 302h1.7M129 309h1.2M166 322h1.6M178 335h0.9M116 314h1.0M44 315h1.5M139 323h0.8M205 305h1.1M154 300h1.3M75 292h1.7M93 307h1.0M139 331h1.1M141 320h0.9M242 323h1.6M180 321h1.2M177 318h1.1M86 309h0.9M83 333h1.5M200 348h1.5M134 313h0.9M109 298h1.6M196 308h0.9M166 322h1.6M128 317h1.1M152 322h1.5M219 323h1.5M120 323h1.7M178 327h1.5M180 316h1.6M231 305h1.6M174 306h1.1M242 307h0.9M192 319h1.6M98 315h1.4M204 311h0.9M262 317h1.2M130 318h1.4M176 324h1.0M138 308h1.7M224 306h0.9M180 307h0.8M192 322h1.7M199 315h1.0M173 315h1.1M146 316h1.1M130 330h0.8M284 329h1.5M211 315h1.4M118 312h1.6M185 337h0.8M205 312h1.6M128 295h0.9M140 299h1.4M152 308h0.9M108 327h1.2M224 321h1.3M184 313h0.9M225 305h1.0M122 324h1.5M136 324h1.3M165 314h1.5M214 329h0.8M152 325h1.5M111 322h1.4M159 323h1.0M130 314h1.5M173 328h1.0M243 312h0.8M227 317h1.4M186 316h1.2M92 312h1.2M199 320h1.2M177 322h1.4M179 315h1.7M98 305h1.0M172 318h1.4M128 311h1.0M219 330h1.6M239 317h1.0M143 310h1.2M161 319h1.3M164 320h0.9M213 307h1.5M208 316h1.3M213 322h1.3M216 307h1.0M132 338h1.3M137 329h0.8M209 302h1.5M230 329h0.9M175 316h1.6M189 318h1.3" stroke="#dfe2e4" stroke-width="1.0" opacity="0.9" fill="none"/>
<ellipse cx="597.0" cy="177.0" rx="4.0" ry="1.6" transform="rotate(-35 597.0 177.0)" fill="#a6bd3e" opacity="0.8"/>
<ellipse cx="633.0" cy="190.0" rx="4.0" ry="1.6" transform="rotate(-30 633.0 190.0)" fill="#a6bd3e" opacity="0.8"/>
<ellipse cx="620.8" cy="369.0" rx="4.0" ry="1.6" transform="rotate(60 620.8 369.0)" fill="#a6bd3e" opacity="0.8"/>
<ellipse cx="630.0" cy="374.0" rx="4.0" ry="1.6" transform="rotate(55 630.0 374.0)" fill="#a6bd3e" opacity="0.8"/>
<ellipse cx="336.0" cy="262.5" rx="4.0" ry="1.6" transform="rotate(-10 336.0 262.5)" fill="#a6bd3e" opacity="0.8"/>
<ellipse cx="335.9" cy="263.0" rx="4.0" ry="1.6" transform="rotate(-8 335.9 263.0)" fill="#a6bd3e" opacity="0.8"/>
<ellipse cx="334.0" cy="331.8" rx="4.0" ry="1.6" transform="rotate(-30 334.0 331.8)" fill="#a6bd3e" opacity="0.8"/>
<ellipse cx="377.9" cy="356.7" rx="4.0" ry="1.6" transform="rotate(-50 377.9 356.7)" fill="#a6bd3e" opacity="0.8"/>
<ellipse cx="389.4" cy="393.0" rx="4.0" ry="1.6" transform="rotate(-60 389.4 393.0)" fill="#a6bd3e" opacity="0.8"/>
<ellipse cx="383.6" cy="391.0" rx="4.0" ry="1.6" transform="rotate(-45 383.6 391.0)" fill="#a6bd3e" opacity="0.8"/>
<ellipse cx="433.3" cy="396.8" rx="4.0" ry="1.6" transform="rotate(-70 433.3 396.8)" fill="#a6bd3e" opacity="0.8"/>
<ellipse cx="349.2" cy="393.0" rx="4.0" ry="1.6" transform="rotate(-40 349.2 393.0)" fill="#a6bd3e" opacity="0.8"/>
<ellipse cx="491.4" cy="410.8" rx="4.0" ry="1.6" transform="rotate(80 491.4 410.8)" fill="#a6bd3e" opacity="0.8"/>
<ellipse cx="393.7" cy="386.0" rx="4.0" ry="1.6" transform="rotate(-55 393.7 386.0)" fill="#a6bd3e" opacity="0.8"/>
<ellipse cx="326.0" cy="332.0" rx="4.0" ry="1.6" transform="rotate(-20 326.0 332.0)" fill="#a6bd3e" opacity="0.8"/>
<ellipse cx="686.0" cy="319.0" rx="4.0" ry="1.6" transform="rotate(40 686.0 319.0)" fill="#a6bd3e" opacity="0.8"/>
<ellipse cx="611.0" cy="302.0" rx="4.0" ry="1.6" transform="rotate(70 611.0 302.0)" fill="#a6bd3e" opacity="0.8"/>
<ellipse cx="559.0" cy="326.0" rx="4.0" ry="1.6" transform="rotate(75 559.0 326.0)" fill="#a6bd3e" opacity="0.8"/>
<ellipse cx="470.0" cy="196.0" rx="4.0" ry="1.6" transform="rotate(-80 470.0 196.0)" fill="#a6bd3e" opacity="0.8"/>
<g id="arrows">
<g filter="url(#blur3)" opacity="0.21" transform="translate(-2,10)"><line x1="382.4" y1="215.4" x2="304.4" y2="184.1" stroke="#555" stroke-width="5.5"/></g>
<g opacity="1"><line x1="389.4" y1="218.2" x2="312.7" y2="187.5" stroke="#788c1b" stroke-width="3.0" stroke-linecap="round"/><polygon points="301.6,183.0 320.5,184.1 313.2,187.7 316.0,195.2" fill="#788c1b"/></g>
<g filter="url(#blur3)" opacity="0.21" transform="translate(-2,10)"><line x1="462.6" y1="199.1" x2="407.5" y2="162.0" stroke="#555" stroke-width="5.5"/></g>
<g opacity="1"><line x1="467.6" y1="202.5" x2="415.0" y2="167.0" stroke="#788c1b" stroke-width="3.0" stroke-linecap="round"/><polygon points="405.0,160.3 423.2,165.3 415.4,167.3 416.5,175.3" fill="#788c1b"/></g>
<g filter="url(#blur3)" opacity="0.21" transform="translate(-2,10)"><line x1="531.9" y1="175.8" x2="524.4" y2="147.5" stroke="#555" stroke-width="5.4"/></g>
<g opacity="1"><line x1="532.6" y1="178.5" x2="525.4" y2="151.4" stroke="#788c1b" stroke-width="2.9" stroke-linecap="round"/><polygon points="523.6,144.6 532.5,154.1 525.5,151.8 520.6,157.3" fill="#788c1b"/></g>
<polygon points="525.8,152.8 534.0,162.0 527.8,160.5 523.2,164.9" fill="#788c1b"/>
<g filter="url(#blur3)" opacity="0.21" transform="translate(-2,10)"><line x1="351.2" y1="286.2" x2="260.3" y2="286.8" stroke="#555" stroke-width="5.5"/></g>
<g opacity="1"><line x1="359.4" y1="286.2" x2="269.3" y2="286.7" stroke="#788c1b" stroke-width="3.0" stroke-linecap="round"/><polygon points="257.3,286.8 275.2,280.7 269.8,286.7 275.3,292.7" fill="#788c1b"/></g>
<g filter="url(#blur3)" opacity="0.21" transform="translate(-2,10)"><line x1="393.8" y1="360.1" x2="262.3" y2="412.3" stroke="#555" stroke-width="5.5"/></g>
<g opacity="1"><line x1="405.5" y1="355.5" x2="270.7" y2="409.0" stroke="#788c1b" stroke-width="3.0" stroke-linecap="round"/><polygon points="259.5,413.4 273.9,401.2 271.1,408.8 278.4,412.4" fill="#788c1b"/></g>
<g filter="url(#blur3)" opacity="0.21" transform="translate(-2,10)"><line x1="508.7" y1="379.5" x2="511.1" y2="462.6" stroke="#555" stroke-width="5.5"/></g>
<g opacity="1"><line x1="508.5" y1="372.0" x2="510.9" y2="453.6" stroke="#788c1b" stroke-width="3.0" stroke-linecap="round"/><polygon points="511.2,465.6 504.7,447.9 510.8,453.1 516.7,447.5" fill="#788c1b"/></g>
<g filter="url(#blur3)" opacity="0.21" transform="translate(-2,10)"><line x1="561.1" y1="365.8" x2="658.1" y2="447.1" stroke="#555" stroke-width="5.5"/></g>
<g opacity="1"><line x1="552.5" y1="358.6" x2="651.2" y2="441.3" stroke="#788c1b" stroke-width="3.0" stroke-linecap="round"/><polygon points="660.4,449.0 642.8,442.1 650.8,441.0 650.5,432.9" fill="#788c1b"/></g>
<g filter="url(#blur3)" opacity="0.21" transform="translate(-2,10)"><line x1="653.8" y1="350.9" x2="760.8" y2="390.7" stroke="#555" stroke-width="5.5"/></g>
<g opacity="1"><line x1="644.2" y1="347.4" x2="752.3" y2="387.5" stroke="#788c1b" stroke-width="3.0" stroke-linecap="round"/><polygon points="763.6,391.7 744.7,391.1 751.9,387.4 748.9,379.8" fill="#788c1b"/></g>
<g filter="url(#blur3)" opacity="0.21" transform="translate(-2,10)"><line x1="674.3" y1="283.6" x2="755.6" y2="283.9" stroke="#555" stroke-width="5.5"/></g>
<g opacity="1"><line x1="667.0" y1="283.6" x2="746.6" y2="283.9" stroke="#788c1b" stroke-width="3.0" stroke-linecap="round"/><polygon points="758.6,283.9 740.7,289.8 746.1,283.9 740.7,277.8" fill="#788c1b"/></g>
<g filter="url(#blur3)" opacity="0.21" transform="translate(-2,10)"><line x1="617.4" y1="206.9" x2="741.9" y2="162.5" stroke="#555" stroke-width="5.5"/></g>
<g opacity="1"><line x1="606.3" y1="210.8" x2="733.4" y2="165.5" stroke="#788c1b" stroke-width="3.0" stroke-linecap="round"/><polygon points="744.7,161.5 729.8,173.2 732.9,165.7 725.8,161.9" fill="#788c1b"/></g>
<g opacity="0.9"><line x1="346.4" y1="236.4" x2="330.6" y2="226.2" stroke="#a3bd3e" stroke-width="1.3" stroke-linecap="round"/><polygon points="323.0,221.3 335.4,224.0 331.0,226.5 330.6,231.4" fill="#a3bd3e"/></g>
<g opacity="0.9"><line x1="339.0" y1="343.0" x2="320.8" y2="353.5" stroke="#a3bd3e" stroke-width="1.3" stroke-linecap="round"/><polygon points="313.0,358.0 321.2,348.4 321.2,353.3 325.4,355.7" fill="#a3bd3e"/></g>
<g opacity="0.95"><line x1="476.6" y1="404.3" x2="476.1" y2="420.0" stroke="#a3bd3e" stroke-width="1.5" stroke-linecap="round"/><polygon points="475.8,431.0 471.4,416.8 476.1,419.5 481.0,417.1" fill="#a3bd3e"/></g>
<g opacity="0.85"><line x1="672.9" y1="375.6" x2="691.2" y2="387.8" stroke="#a3bd3e" stroke-width="1.3" stroke-linecap="round"/><polygon points="699.5,393.3 686.2,390.0 690.8,387.5 691.3,382.3" fill="#a3bd3e"/></g>
<g opacity="0.8"><line x1="562.1" y1="383.4" x2="566.6" y2="399.8" stroke="#a3bd3e" stroke-width="1.3" stroke-linecap="round"/><polygon points="569.2,409.4 561.5,398.1 566.4,399.3 570.0,395.7" fill="#a3bd3e"/></g>
<g opacity="0.85"><line x1="497.7" y1="182.4" x2="497.7" y2="172.2" stroke="#a3bd3e" stroke-width="1.4" stroke-linecap="round"/><polygon points="497.7,167.2 501.2,176.2 497.7,172.7 494.2,176.2" fill="#a3bd3e"/></g>
<g opacity="0.6"><line x1="684.0" y1="191.5" x2="700.8" y2="188.9" stroke="#b7cc66" stroke-width="1.0" stroke-linecap="round"/><polygon points="706.7,188.0 697.0,192.5 700.3,189.0 696.1,186.6" fill="#b7cc66"/></g>
</g>
<polygon points="470.0,300.0 580.0,348.0 652.0,328.0 640.0,300.0" fill="#9a9ea2" filter="url(#blur3u)" opacity="0.1"/>
<g filter="url(#soft)">
<polygon points="480.2,204.0 582.0,251.8 580.4,341.5 481.0,292.0" fill="#263747" />
<polygon points="582.0,251.8 652.9,234.3 651.3,323.4 580.4,341.5" fill="#2b4057" />
<polygon points="480.2,204.0 547.4,188.1 652.9,234.3 582.0,251.8" fill="#5d7185" />
<polyline points="486.5,203.2 517.5,196.0 548.0,188.6" fill="none" stroke="#6a7e92" stroke-width="1.15" opacity="0.56"/>
<polyline points="486.9,204.1 517.6,196.5 549.2,189.3" fill="none" stroke="#8798aa" stroke-width="0.88" opacity="0.65"/>
<polyline points="484.3,205.9 515.0,198.4 546.3,191.2" fill="none" stroke="#8798aa" stroke-width="1.15" opacity="0.86"/>
<polyline points="486.4,206.2 517.8,198.4 550.2,191.1" fill="none" stroke="#4d6175" stroke-width="0.60" opacity="0.90"/>
<polyline points="493.5,205.7 520.8,198.9 548.9,192.5" fill="none" stroke="#8798aa" stroke-width="0.79" opacity="0.63"/>
<polyline points="490.6,208.0 523.2,200.0 556.7,192.3" fill="none" stroke="#8798aa" stroke-width="1.18" opacity="0.70"/>
<polyline points="491.2,208.4 521.0,200.9 551.8,193.9" fill="none" stroke="#53677b" stroke-width="0.78" opacity="0.79"/>
<polyline points="492.1,209.3 523.2,201.7 554.9,194.3" fill="none" stroke="#6a7e92" stroke-width="1.02" opacity="0.62"/>
<polyline points="494.1,210.2 527.1,202.0 561.2,194.3" fill="none" stroke="#7b8ea1" stroke-width="1.05" opacity="0.89"/>
<polyline points="497.3,210.3 527.9,202.6 559.7,195.4" fill="none" stroke="#53677b" stroke-width="0.63" opacity="0.62"/>
<polyline points="498.2,211.9 529.5,204.7 560.1,197.1" fill="none" stroke="#8798aa" stroke-width="0.88" opacity="0.75"/>
<polyline points="504.2,211.5 532.7,204.9 560.7,198.0" fill="none" stroke="#44586b" stroke-width="1.08" opacity="0.89"/>
<polyline points="501.0,212.8 532.4,205.2 564.2,197.7" fill="none" stroke="#4d6175" stroke-width="0.69" opacity="0.66"/>
<polyline points="504.0,213.7 534.2,206.2 565.2,199.0" fill="none" stroke="#4d6175" stroke-width="0.65" opacity="0.61"/>
<polyline points="504.6,214.7 535.4,207.7 565.0,200.2" fill="none" stroke="#8e9fb0" stroke-width="0.92" opacity="0.71"/>
<polyline points="510.2,214.1 539.5,207.0 569.0,200.1" fill="none" stroke="#6a7e92" stroke-width="0.63" opacity="0.92"/>
<polyline points="508.2,215.6 539.1,208.6 568.7,201.1" fill="none" stroke="#8e9fb0" stroke-width="0.94" opacity="0.60"/>
<polyline points="509.2,217.1 540.6,209.3 572.8,201.8" fill="none" stroke="#53677b" stroke-width="1.11" opacity="0.67"/>
<polyline points="516.2,216.2 545.2,209.3 574.1,202.3" fill="none" stroke="#7b8ea1" stroke-width="1.04" opacity="0.74"/>
<polyline points="517.2,217.0 545.6,210.4 573.3,203.5" fill="none" stroke="#53677b" stroke-width="0.92" opacity="0.62"/>
<polyline points="514.5,219.2 546.4,211.6 578.2,203.9" fill="none" stroke="#6a7e92" stroke-width="0.93" opacity="0.75"/>
<polyline points="518.7,218.7 549.7,211.5 580.1,204.0" fill="none" stroke="#6a7e92" stroke-width="0.82" opacity="0.83"/>
<polyline points="517.6,220.3 551.1,212.4 584.1,204.3" fill="none" stroke="#8e9fb0" stroke-width="1.17" opacity="0.69"/>
<polyline points="520.5,220.6 552.2,212.9 584.2,205.3" fill="none" stroke="#475b6e" stroke-width="0.76" opacity="0.67"/>
<polyline points="521.6,221.7 553.7,214.2 585.3,206.4" fill="none" stroke="#6a7e92" stroke-width="1.10" opacity="0.69"/>
<polyline points="527.8,221.6 558.7,214.2 589.5,206.7" fill="none" stroke="#8e9fb0" stroke-width="0.92" opacity="0.62"/>
<polyline points="524.6,223.5 555.1,216.3 585.1,208.9" fill="none" stroke="#8e9fb0" stroke-width="0.85" opacity="0.80"/>
<polyline points="526.5,224.2 558.7,216.8 590.1,208.9" fill="none" stroke="#53677b" stroke-width="0.76" opacity="0.95"/>
<polyline points="529.5,224.1 559.3,217.1 588.4,209.9" fill="none" stroke="#8e9fb0" stroke-width="0.71" opacity="0.84"/>
<polyline points="528.8,226.0 561.8,217.7 595.8,209.8" fill="none" stroke="#8798aa" stroke-width="1.18" opacity="0.74"/>
<polyline points="532.0,226.0 562.9,218.7 593.5,211.2" fill="none" stroke="#53677b" stroke-width="0.95" opacity="0.65"/>
<polyline points="533.1,227.1 566.7,219.3 599.4,211.1" fill="none" stroke="#475b6e" stroke-width="1.12" opacity="0.83"/>
<polyline points="535.7,227.4 565.7,219.9 596.2,212.8" fill="none" stroke="#475b6e" stroke-width="0.91" opacity="0.93"/>
<polyline points="538.9,227.6 569.1,220.5 598.4,213.2" fill="none" stroke="#6a7e92" stroke-width="0.99" opacity="0.70"/>
<polyline points="538.6,228.7 571.7,221.0 603.6,212.9" fill="none" stroke="#53677b" stroke-width="0.97" opacity="0.69"/>
<polyline points="539.7,230.1 571.2,222.8 601.7,215.0" fill="none" stroke="#475b6e" stroke-width="0.92" opacity="0.68"/>
<polyline points="541.6,230.7 574.7,222.7 607.8,214.7" fill="none" stroke="#53677b" stroke-width="0.89" opacity="0.83"/>
<polyline points="543.9,230.9 574.5,223.9 604.0,216.4" fill="none" stroke="#7b8ea1" stroke-width="0.90" opacity="0.72"/>
<polyline points="544.7,231.8 575.2,224.4 605.7,217.0" fill="none" stroke="#44586b" stroke-width="0.67" opacity="0.80"/>
<polyline points="543.2,233.4 574.7,225.7 606.5,218.0" fill="none" stroke="#44586b" stroke-width="0.89" opacity="0.77"/>
<polyline points="549.8,232.8 578.9,225.5 608.6,218.5" fill="none" stroke="#8e9fb0" stroke-width="0.69" opacity="0.95"/>
<polyline points="549.6,234.0 582.6,226.3 614.6,218.2" fill="none" stroke="#8e9fb0" stroke-width="1.14" opacity="0.56"/>
<polyline points="551.1,234.7 581.5,227.1 612.4,219.7" fill="none" stroke="#44586b" stroke-width="0.92" opacity="0.74"/>
<polyline points="549.5,236.4 581.6,228.5 613.7,220.7" fill="none" stroke="#7b8ea1" stroke-width="1.15" opacity="0.91"/>
<polyline points="554.0,236.5 586.9,228.6 619.5,220.6" fill="none" stroke="#475b6e" stroke-width="1.01" opacity="0.93"/>
<polyline points="556.0,237.2 588.5,229.5 620.3,221.6" fill="none" stroke="#53677b" stroke-width="1.14" opacity="0.74"/>
<polyline points="560.3,237.4 591.1,229.8 622.2,222.3" fill="none" stroke="#44586b" stroke-width="0.77" opacity="0.86"/>
<polyline points="557.3,239.4 591.1,231.5 624.0,223.1" fill="none" stroke="#7b8ea1" stroke-width="1.18" opacity="0.77"/>
<polyline points="557.7,240.1 590.2,232.4 621.9,224.4" fill="none" stroke="#475b6e" stroke-width="1.08" opacity="0.82"/>
<polyline points="565.3,239.1 597.1,231.5 628.5,223.6" fill="none" stroke="#53677b" stroke-width="0.63" opacity="0.89"/>
<polyline points="565.2,240.4 594.5,233.0 624.3,225.9" fill="none" stroke="#4d6175" stroke-width="1.15" opacity="0.61"/>
<polyline points="567.9,241.1 596.5,233.9 625.9,226.9" fill="none" stroke="#53677b" stroke-width="0.93" opacity="0.81"/>
<polyline points="564.4,243.2 598.1,235.2 631.2,226.8" fill="none" stroke="#44586b" stroke-width="1.13" opacity="0.60"/>
<polyline points="570.0,242.7 600.8,235.1 631.9,227.6" fill="none" stroke="#6a7e92" stroke-width="0.99" opacity="0.92"/>
<polyline points="567.6,244.3 600.9,236.1 634.3,227.9" fill="none" stroke="#44586b" stroke-width="1.15" opacity="0.77"/>
<polyline points="569.0,245.4 601.8,237.7 633.6,229.5" fill="none" stroke="#44586b" stroke-width="0.77" opacity="0.94"/>
<polyline points="573.6,245.6 604.6,237.6 636.6,230.1" fill="none" stroke="#6a7e92" stroke-width="0.61" opacity="0.69"/>
<polyline points="572.4,246.8 604.4,239.0 636.1,231.2" fill="none" stroke="#475b6e" stroke-width="0.74" opacity="0.90"/>
<polyline points="574.0,247.5 607.3,239.3 640.5,231.1" fill="none" stroke="#6a7e92" stroke-width="0.83" opacity="0.89"/>
<polyline points="580.1,247.5 609.8,239.8 640.5,232.6" fill="none" stroke="#53677b" stroke-width="1.18" opacity="0.82"/>
<polyline points="581.7,248.1 612.8,240.8 643.1,233.0" fill="none" stroke="#7b8ea1" stroke-width="0.77" opacity="0.92"/>
<polyline points="580.9,249.4 613.8,241.1 647.0,233.1" fill="none" stroke="#53677b" stroke-width="0.78" opacity="0.80"/>
<polyline points="583.7,250.0 616.0,242.1 648.0,234.1" fill="none" stroke="#6a7e92" stroke-width="1.04" opacity="0.71"/>
<polyline points="582.1,250.9 614.0,243.0 646.0,235.2" fill="none" stroke="#475b6e" stroke-width="1.16" opacity="0.81"/>
<line x1="537.2" y1="230.8" x2="606.5" y2="214.0" stroke="#34475a" stroke-width="1.4" />
<line x1="539.0" y1="231.6" x2="608.4" y2="214.8" stroke="#8ea0b2" stroke-width="0.7" opacity="0.8"/>
<line x1="584.6" y1="230.9" x2="590.7" y2="229.8" stroke="#a9b8c6" stroke-width="0.8" opacity="0.7"/>
<line x1="603.2" y1="241.0" x2="609.4" y2="239.9" stroke="#a9b8c6" stroke-width="0.8" opacity="0.7"/>
<line x1="608.3" y1="222.1" x2="614.4" y2="221.0" stroke="#a9b8c6" stroke-width="0.8" opacity="0.7"/>
<line x1="580.4" y1="225.1" x2="586.5" y2="224.0" stroke="#a9b8c6" stroke-width="0.8" opacity="0.7"/>
<line x1="584.7" y1="220.6" x2="590.7" y2="219.5" stroke="#a9b8c6" stroke-width="0.8" opacity="0.7"/>
<line x1="481.4" y1="205.9" x2="482.1" y2="291.2" stroke="#1c2a38" stroke-width="1.0" opacity="0.7"/>
<line x1="481.4" y1="206.3" x2="481.6" y2="227.4" stroke="#162330" stroke-width="1.1" opacity="0.8"/>
<line x1="483.7" y1="207.0" x2="484.4" y2="292.4" stroke="#31465a" stroke-width="1.0" opacity="0.7"/>
<line x1="486.0" y1="208.0" x2="486.6" y2="293.5" stroke="#1c2a38" stroke-width="1.0" opacity="0.7"/>
<line x1="486.0" y1="208.5" x2="486.2" y2="228.9" stroke="#162330" stroke-width="1.1" opacity="0.8"/>
<line x1="488.3" y1="209.1" x2="488.9" y2="294.6" stroke="#31465a" stroke-width="1.0" opacity="0.7"/>
<line x1="490.6" y1="210.2" x2="491.2" y2="295.7" stroke="#1c2a38" stroke-width="1.0" opacity="0.7"/>
<line x1="490.6" y1="210.7" x2="490.8" y2="233.1" stroke="#162330" stroke-width="1.1" opacity="0.8"/>
<line x1="492.9" y1="211.3" x2="493.4" y2="296.9" stroke="#31465a" stroke-width="1.0" opacity="0.7"/>
<line x1="495.2" y1="212.4" x2="495.7" y2="298.0" stroke="#1c2a38" stroke-width="1.0" opacity="0.7"/>
<line x1="495.2" y1="212.8" x2="495.3" y2="232.2" stroke="#162330" stroke-width="1.1" opacity="0.8"/>
<line x1="497.6" y1="213.5" x2="497.9" y2="299.1" stroke="#31465a" stroke-width="1.0" opacity="0.7"/>
<line x1="499.9" y1="214.6" x2="500.2" y2="300.2" stroke="#1c2a38" stroke-width="1.0" opacity="0.7"/>
<line x1="499.9" y1="215.0" x2="500.0" y2="238.5" stroke="#162330" stroke-width="1.1" opacity="0.8"/>
<line x1="502.2" y1="215.6" x2="502.5" y2="301.4" stroke="#31465a" stroke-width="1.0" opacity="0.7"/>
<line x1="504.5" y1="216.7" x2="504.7" y2="302.5" stroke="#1c2a38" stroke-width="1.0" opacity="0.7"/>
<line x1="504.5" y1="217.2" x2="504.5" y2="235.8" stroke="#162330" stroke-width="1.1" opacity="0.8"/>
<line x1="506.8" y1="217.8" x2="507.0" y2="303.6" stroke="#31465a" stroke-width="1.0" opacity="0.7"/>
<line x1="509.1" y1="218.9" x2="509.2" y2="304.7" stroke="#1c2a38" stroke-width="1.0" opacity="0.7"/>
<line x1="509.1" y1="219.3" x2="509.2" y2="243.2" stroke="#162330" stroke-width="1.1" opacity="0.8"/>
<line x1="511.4" y1="220.0" x2="511.5" y2="305.9" stroke="#31465a" stroke-width="1.0" opacity="0.7"/>
<line x1="513.7" y1="221.1" x2="513.8" y2="307.0" stroke="#1c2a38" stroke-width="1.0" opacity="0.7"/>
<line x1="513.7" y1="221.5" x2="513.7" y2="240.2" stroke="#162330" stroke-width="1.1" opacity="0.8"/>
<line x1="516.1" y1="222.2" x2="516.0" y2="308.1" stroke="#31465a" stroke-width="1.0" opacity="0.7"/>
<line x1="518.4" y1="223.3" x2="518.3" y2="309.2" stroke="#1c2a38" stroke-width="1.0" opacity="0.7"/>
<line x1="518.4" y1="223.7" x2="518.3" y2="247.3" stroke="#162330" stroke-width="1.1" opacity="0.8"/>
<line x1="520.7" y1="224.3" x2="520.5" y2="310.4" stroke="#31465a" stroke-width="1.0" opacity="0.7"/>
<line x1="523.0" y1="225.4" x2="522.8" y2="311.5" stroke="#1c2a38" stroke-width="1.0" opacity="0.7"/>
<line x1="523.0" y1="225.9" x2="523.0" y2="245.2" stroke="#162330" stroke-width="1.1" opacity="0.8"/>
<line x1="525.3" y1="226.5" x2="525.1" y2="312.6" stroke="#31465a" stroke-width="1.0" opacity="0.7"/>
<line x1="527.6" y1="227.6" x2="527.3" y2="313.7" stroke="#1c2a38" stroke-width="1.0" opacity="0.7"/>
<line x1="527.6" y1="228.0" x2="527.5" y2="250.8" stroke="#162330" stroke-width="1.1" opacity="0.8"/>
<line x1="529.9" y1="228.7" x2="529.6" y2="314.9" stroke="#31465a" stroke-width="1.0" opacity="0.7"/>
<line x1="532.3" y1="229.8" x2="531.8" y2="316.0" stroke="#1c2a38" stroke-width="1.0" opacity="0.7"/>
<line x1="532.2" y1="230.2" x2="532.1" y2="250.8" stroke="#162330" stroke-width="1.1" opacity="0.8"/>
<line x1="534.6" y1="230.9" x2="534.1" y2="317.1" stroke="#31465a" stroke-width="1.0" opacity="0.7"/>
<line x1="536.9" y1="232.0" x2="536.4" y2="318.2" stroke="#1c2a38" stroke-width="1.0" opacity="0.7"/>
<line x1="536.9" y1="232.4" x2="536.7" y2="253.9" stroke="#162330" stroke-width="1.1" opacity="0.8"/>
<line x1="539.2" y1="233.0" x2="538.6" y2="319.4" stroke="#31465a" stroke-width="1.0" opacity="0.7"/>
<line x1="541.5" y1="234.1" x2="540.9" y2="320.5" stroke="#1c2a38" stroke-width="1.0" opacity="0.7"/>
<line x1="541.5" y1="234.6" x2="541.3" y2="256.5" stroke="#162330" stroke-width="1.1" opacity="0.8"/>
<line x1="543.8" y1="235.2" x2="543.1" y2="321.6" stroke="#31465a" stroke-width="1.0" opacity="0.7"/>
<line x1="546.1" y1="236.3" x2="545.4" y2="322.7" stroke="#1c2a38" stroke-width="1.0" opacity="0.7"/>
<line x1="546.1" y1="236.7" x2="546.0" y2="256.9" stroke="#162330" stroke-width="1.1" opacity="0.8"/>
<line x1="548.4" y1="237.4" x2="547.7" y2="323.9" stroke="#31465a" stroke-width="1.0" opacity="0.7"/>
<line x1="550.8" y1="238.5" x2="549.9" y2="325.0" stroke="#1c2a38" stroke-width="1.0" opacity="0.7"/>
<line x1="550.7" y1="238.9" x2="550.5" y2="262.1" stroke="#162330" stroke-width="1.1" opacity="0.8"/>
<line x1="553.1" y1="239.6" x2="552.2" y2="326.1" stroke="#31465a" stroke-width="1.0" opacity="0.7"/>
<line x1="555.4" y1="240.6" x2="554.4" y2="327.2" stroke="#1c2a38" stroke-width="1.0" opacity="0.7"/>
<line x1="555.4" y1="241.1" x2="555.2" y2="260.3" stroke="#162330" stroke-width="1.1" opacity="0.8"/>
<line x1="557.7" y1="241.7" x2="556.7" y2="328.3" stroke="#31465a" stroke-width="1.0" opacity="0.7"/>
<line x1="560.0" y1="242.8" x2="559.0" y2="329.5" stroke="#1c2a38" stroke-width="1.0" opacity="0.7"/>
<line x1="560.0" y1="243.3" x2="559.7" y2="267.3" stroke="#162330" stroke-width="1.1" opacity="0.8"/>
<line x1="562.3" y1="243.9" x2="561.2" y2="330.6" stroke="#31465a" stroke-width="1.0" opacity="0.7"/>
<line x1="564.6" y1="245.0" x2="563.5" y2="331.7" stroke="#1c2a38" stroke-width="1.0" opacity="0.7"/>
<line x1="564.6" y1="245.4" x2="564.4" y2="264.2" stroke="#162330" stroke-width="1.1" opacity="0.8"/>
<line x1="566.9" y1="246.1" x2="565.7" y2="332.8" stroke="#31465a" stroke-width="1.0" opacity="0.7"/>
<line x1="569.3" y1="247.2" x2="568.0" y2="334.0" stroke="#1c2a38" stroke-width="1.0" opacity="0.7"/>
<line x1="569.2" y1="247.6" x2="568.9" y2="271.7" stroke="#162330" stroke-width="1.1" opacity="0.8"/>
<line x1="571.6" y1="248.3" x2="570.3" y2="335.1" stroke="#31465a" stroke-width="1.0" opacity="0.7"/>
<line x1="573.9" y1="249.3" x2="572.5" y2="336.2" stroke="#1c2a38" stroke-width="1.0" opacity="0.7"/>
<line x1="573.9" y1="249.8" x2="573.6" y2="268.9" stroke="#162330" stroke-width="1.1" opacity="0.8"/>
<line x1="576.2" y1="250.4" x2="574.8" y2="337.3" stroke="#31465a" stroke-width="1.0" opacity="0.7"/>
<line x1="578.5" y1="251.5" x2="577.0" y2="338.5" stroke="#1c2a38" stroke-width="1.0" opacity="0.7"/>
<line x1="578.5" y1="252.0" x2="578.1" y2="275.5" stroke="#162330" stroke-width="1.1" opacity="0.8"/>
<line x1="580.8" y1="252.6" x2="579.3" y2="339.6" stroke="#31465a" stroke-width="1.0" opacity="0.7"/>
<line x1="506.2" y1="216.2" x2="506.3" y2="304.6" stroke="#111c27" stroke-width="2.2" />
<line x1="507.6" y1="216.9" x2="507.7" y2="305.3" stroke="#3d5165" stroke-width="0.8" opacity="0.85"/>
<line x1="541.3" y1="232.7" x2="540.6" y2="321.7" stroke="#111c27" stroke-width="2.2" />
<line x1="542.7" y1="233.3" x2="542.0" y2="322.4" stroke="#3d5165" stroke-width="0.8" opacity="0.85"/>
<polygon points="548.2,257.4 568.5,267.1 567.7,319.0 547.7,309.1" fill="#2c4054" />
<polygon points="548.2,257.4 568.5,267.1 568.4,271.5 548.2,261.9" fill="#465b6f" />
<polygon points="547.8,305.1 567.8,314.9 567.7,319.0 547.7,309.1" fill="#384c60" />
<polygon points="547.7,309.1 567.7,319.0 567.7,321.2 547.7,311.3" fill="#121d28" />
<polygon points="563.8,271.1 567.6,272.9 567.0,313.2 563.3,311.4" fill="#0f1923" />
<line x1="548.6" y1="258.5" x2="548.2" y2="308.4" stroke="#3f5367" stroke-width="0.8" />
<ellipse cx="553.0" cy="285.7" rx="2.5" ry="4.0" fill="#c4c8cc"/>
<ellipse cx="553.3" cy="285.4" rx="1.2" ry="2.0" fill="#2e3237"/>
<circle cx="552.4" cy="287.9" r="0.9" fill="#e8eaec"/>
<polygon points="584.1,254.4 650.7,237.9 650.6,245.5 583.9,262.0" fill="#3e566b" />
<polygon points="584.1,254.4 593.3,252.1 593.2,259.8 583.9,262.0" fill="#5a6470" opacity="0.7"/>
<line x1="583.3" y1="297.9" x2="649.9" y2="281.2" stroke="#1f3145" stroke-width="0.9" />
<line x1="583.3" y1="299.3" x2="649.9" y2="282.5" stroke="#3a5169" stroke-width="0.6" />
<line x1="582.8" y1="324.8" x2="649.5" y2="307.9" stroke="#1f3145" stroke-width="0.9" />
<line x1="582.8" y1="326.2" x2="649.4" y2="309.2" stroke="#384f66" stroke-width="0.6" />
<polygon points="582.0,251.8 584.5,251.2 582.9,340.9 580.4,341.5" fill="#24374b" />
<polygon points="650.4,234.9 652.9,234.3 651.3,323.4 648.8,324.0" fill="#263a4f" />
<polygon points="580.5,337.5 651.4,319.4 651.3,323.4 580.4,341.5" fill="#203245" />
<polygon points="606.4,270.6 629.5,264.8 629.1,285.2 606.0,291.0" fill="#e4e8ea" />
<polygon points="609.1,273.5 626.6,269.2 626.5,274.6 609.0,279.0" fill="#9aa4ad" opacity="0.7"/>
<polygon points="609.4,280.4 610.6,280.1 610.4,287.4 609.3,287.7" fill="#59646e" opacity="0.85"/>
<polygon points="611.8,279.7 613.0,279.5 612.9,286.8 611.7,287.1" fill="#59646e" opacity="0.85"/>
<polygon points="614.3,279.1 615.4,278.9 615.3,286.2 614.1,286.5" fill="#59646e" opacity="0.85"/>
<polygon points="616.7,278.5 617.9,278.2 617.7,285.6 616.6,285.9" fill="#59646e" opacity="0.85"/>
<polygon points="619.1,277.9 620.3,277.6 620.1,285.0 619.0,285.3" fill="#59646e" opacity="0.85"/>
<polygon points="621.6,277.3 622.7,277.0 622.6,284.4 621.4,284.7" fill="#59646e" opacity="0.85"/>
<polygon points="624.0,276.7 625.1,276.4 625.0,283.8 623.8,284.0" fill="#59646e" opacity="0.85"/>
<circle cx="586.2" cy="333.8" r="1.3" fill="#8d6f5c"/>
<circle cx="646.5" cy="317.5" r="1.3" fill="#8d6f5c"/>
<circle cx="647.8" cy="241.8" r="1.3" fill="#8d6f5c"/>
<polyline points="582.0,251.8 580.4,341.5" fill="none" stroke="#1c2c3d" stroke-width="1.2"/>
<polyline points="480.2,204.0 582.0,251.8 652.9,234.3" fill="none" stroke="#7d90a3" stroke-width="0.8" opacity="0.8"/>
</g>
<g filter="url(#soft)">
<polygon points="366.3,229.0 465.2,279.0 462.6,374.7 369.1,315.5" fill="#263747" />
<polygon points="465.2,279.0 542.6,261.0 540.8,353.7 462.6,374.7" fill="#2b4057" />
<polygon points="366.3,229.0 435.3,212.6 542.6,261.0 465.2,279.0" fill="#5d7185" />
<polyline points="368.9,228.9 399.9,221.7 430.5,214.3" fill="none" stroke="#6a7e92" stroke-width="0.80" opacity="0.74"/>
<polyline points="372.6,229.3 403.3,221.6 435.3,214.4" fill="none" stroke="#6a7e92" stroke-width="0.83" opacity="0.83"/>
<polyline points="371.2,230.7 402.2,223.0 434.2,215.7" fill="none" stroke="#53677b" stroke-width="0.90" opacity="0.92"/>
<polyline points="377.3,230.5 409.4,223.2 440.5,215.5" fill="none" stroke="#53677b" stroke-width="0.72" opacity="0.64"/>
<polyline points="378.9,231.4 410.6,223.8 442.5,216.3" fill="none" stroke="#4d6175" stroke-width="0.80" opacity="0.57"/>
<polyline points="381.1,231.9 409.5,225.1 438.2,218.4" fill="none" stroke="#475b6e" stroke-width="0.90" opacity="0.56"/>
<polyline points="383.0,232.4 411.4,225.9 439.2,219.1" fill="none" stroke="#4d6175" stroke-width="0.72" opacity="0.89"/>
<polyline points="378.7,234.6 412.9,226.4 447.1,218.3" fill="none" stroke="#4d6175" stroke-width="0.94" opacity="0.77"/>
<polyline points="381.9,234.8 413.8,226.9 446.7,219.5" fill="none" stroke="#4d6175" stroke-width="0.95" opacity="0.62"/>
<polyline points="381.5,236.4 415.0,228.5 448.2,220.6" fill="none" stroke="#475b6e" stroke-width="0.69" opacity="0.66"/>
<polyline points="383.9,237.2 418.2,229.5 451.4,221.3" fill="none" stroke="#475b6e" stroke-width="0.74" opacity="0.79"/>
<polyline points="389.6,236.3 420.2,229.1 450.7,221.9" fill="none" stroke="#6a7e92" stroke-width="1.01" opacity="0.90"/>
<polyline points="388.4,237.8 420.6,230.6 451.6,222.9" fill="none" stroke="#6a7e92" stroke-width="0.94" opacity="0.56"/>
<polyline points="387.5,239.7 419.4,231.9 452.0,224.4" fill="none" stroke="#6a7e92" stroke-width="0.76" opacity="0.88"/>
<polyline points="389.2,240.1 423.0,231.7 457.9,223.8" fill="none" stroke="#44586b" stroke-width="1.07" opacity="0.87"/>
<polyline points="394.3,240.2 424.6,233.1 454.7,225.9" fill="none" stroke="#8798aa" stroke-width="0.66" opacity="0.85"/>
<polyline points="392.8,241.7 425.6,234.1 457.9,226.3" fill="none" stroke="#6a7e92" stroke-width="1.13" opacity="0.56"/>
<polyline points="395.7,242.4 426.9,234.7 459.1,227.5" fill="none" stroke="#7b8ea1" stroke-width="0.69" opacity="0.57"/>
<polyline points="396.9,242.9 428.5,235.8 459.2,228.2" fill="none" stroke="#53677b" stroke-width="0.77" opacity="0.74"/>
<polyline points="401.6,242.9 431.7,235.4 462.7,228.4" fill="none" stroke="#4d6175" stroke-width="0.85" opacity="0.61"/>
<polyline points="402.3,244.1 435.5,236.4 468.3,228.5" fill="none" stroke="#53677b" stroke-width="0.76" opacity="0.79"/>
<polyline points="400.3,245.7 432.5,238.1 464.6,230.5" fill="none" stroke="#6a7e92" stroke-width="0.70" opacity="0.80"/>
<polyline points="406.8,244.9 436.8,237.8 466.8,230.8" fill="none" stroke="#8798aa" stroke-width="0.95" opacity="0.77"/>
<polyline points="406.5,246.1 437.2,238.5 468.9,231.4" fill="none" stroke="#8e9fb0" stroke-width="0.99" opacity="0.78"/>
<polyline points="408.2,247.3 440.6,239.6 473.0,232.0" fill="none" stroke="#53677b" stroke-width="1.15" opacity="0.58"/>
<polyline points="406.3,248.9 439.0,240.9 472.6,233.3" fill="none" stroke="#44586b" stroke-width="0.66" opacity="0.75"/>
<polyline points="411.7,248.3 441.7,241.1 472.2,234.1" fill="none" stroke="#475b6e" stroke-width="0.88" opacity="0.70"/>
<polyline points="415.6,249.2 445.4,242.3 474.9,235.3" fill="none" stroke="#8e9fb0" stroke-width="0.97" opacity="0.82"/>
<polyline points="410.8,251.1 443.7,243.6 476.0,235.8" fill="none" stroke="#4d6175" stroke-width="0.65" opacity="0.56"/>
<polyline points="412.2,252.1 447.5,243.6 483.3,235.4" fill="none" stroke="#8e9fb0" stroke-width="1.07" opacity="0.55"/>
<polyline points="421.0,251.4 454.3,243.8 486.8,235.9" fill="none" stroke="#7b8ea1" stroke-width="0.66" opacity="0.69"/>
<polyline points="416.1,253.1 448.6,245.2 482.1,237.6" fill="none" stroke="#7b8ea1" stroke-width="0.67" opacity="0.93"/>
<polyline points="417.8,254.5 450.6,246.8 483.1,239.1" fill="none" stroke="#6a7e92" stroke-width="0.72" opacity="0.90"/>
<polyline points="419.5,254.5 453.1,246.4 487.5,238.6" fill="none" stroke="#475b6e" stroke-width="0.86" opacity="0.93"/>
<polyline points="423.0,254.8 456.1,247.4 488.3,239.5" fill="none" stroke="#4d6175" stroke-width="0.89" opacity="0.68"/>
<polyline points="426.5,255.7 457.1,248.2 488.8,241.1" fill="none" stroke="#475b6e" stroke-width="0.71" opacity="0.69"/>
<polyline points="430.1,256.1 463.6,248.6 496.1,240.6" fill="none" stroke="#53677b" stroke-width="1.18" opacity="0.59"/>
<polyline points="427.1,257.5 460.1,249.8 493.0,242.0" fill="none" stroke="#8798aa" stroke-width="1.13" opacity="0.91"/>
<polyline points="427.8,258.6 461.9,250.7 495.8,242.6" fill="none" stroke="#4d6175" stroke-width="0.94" opacity="0.73"/>
<polyline points="427.5,259.6 460.7,251.6 494.5,243.9" fill="none" stroke="#53677b" stroke-width="0.62" opacity="0.63"/>
<polyline points="435.8,258.9 466.6,252.1 496.3,244.8" fill="none" stroke="#7b8ea1" stroke-width="1.18" opacity="0.79"/>
<polyline points="432.4,261.3 467.0,253.0 501.9,245.0" fill="none" stroke="#53677b" stroke-width="0.61" opacity="0.77"/>
<polyline points="437.6,260.9 471.3,253.0 505.0,245.1" fill="none" stroke="#6a7e92" stroke-width="0.88" opacity="0.55"/>
<polyline points="434.5,263.1 468.4,255.5 501.3,247.4" fill="none" stroke="#8798aa" stroke-width="0.63" opacity="0.61"/>
<polyline points="438.5,262.7 473.1,254.5 508.0,246.5" fill="none" stroke="#4d6175" stroke-width="1.10" opacity="0.71"/>
<polyline points="440.5,263.7 474.2,256.2 506.9,248.2" fill="none" stroke="#7b8ea1" stroke-width="0.72" opacity="0.92"/>
<polyline points="442.5,264.4 474.4,257.1 505.9,249.5" fill="none" stroke="#7b8ea1" stroke-width="0.61" opacity="0.74"/>
<polyline points="446.9,264.7 479.9,256.8 513.5,249.1" fill="none" stroke="#53677b" stroke-width="0.69" opacity="0.73"/>
<polyline points="442.8,266.7 476.8,258.9 510.4,250.9" fill="none" stroke="#8798aa" stroke-width="1.05" opacity="0.57"/>
<polyline points="442.8,267.5 477.7,259.6 511.9,251.4" fill="none" stroke="#6a7e92" stroke-width="1.00" opacity="0.59"/>
<polyline points="449.6,266.9 481.2,259.5 513.0,252.1" fill="none" stroke="#8798aa" stroke-width="0.91" opacity="0.89"/>
<polyline points="452.4,267.8 487.6,259.9 521.7,251.6" fill="none" stroke="#475b6e" stroke-width="1.03" opacity="0.75"/>
<polyline points="453.7,268.2 486.4,260.8 518.6,253.1" fill="none" stroke="#53677b" stroke-width="0.71" opacity="0.59"/>
<polyline points="455.4,269.1 486.9,261.5 519.0,254.2" fill="none" stroke="#4d6175" stroke-width="0.88" opacity="0.76"/>
<polyline points="457.9,270.1 490.9,262.5 523.4,254.8" fill="none" stroke="#475b6e" stroke-width="1.18" opacity="0.62"/>
<polyline points="456.6,271.0 490.0,263.4 522.8,255.5" fill="none" stroke="#8798aa" stroke-width="0.80" opacity="0.71"/>
<polyline points="456.7,272.1 492.4,263.4 529.3,255.2" fill="none" stroke="#8798aa" stroke-width="0.70" opacity="0.61"/>
<polyline points="460.1,272.8 495.7,264.9 530.2,256.5" fill="none" stroke="#8798aa" stroke-width="0.83" opacity="0.85"/>
<polyline points="463.5,273.4 495.5,266.4 526.4,258.8" fill="none" stroke="#7b8ea1" stroke-width="0.68" opacity="0.72"/>
<polyline points="462.4,274.7 496.7,266.5 531.5,258.6" fill="none" stroke="#4d6175" stroke-width="0.82" opacity="0.86"/>
<polyline points="467.8,274.7 501.6,266.9 535.1,259.0" fill="none" stroke="#475b6e" stroke-width="0.88" opacity="0.92"/>
<polyline points="462.5,276.5 498.8,267.8 535.8,259.4" fill="none" stroke="#475b6e" stroke-width="0.78" opacity="0.55"/>
<polyline points="470.3,276.2 503.0,268.7 535.4,261.1" fill="none" stroke="#53677b" stroke-width="0.79" opacity="0.92"/>
<polyline points="465.5,278.4 503.0,269.3 541.6,260.7" fill="none" stroke="#475b6e" stroke-width="0.73" opacity="0.65"/>
<line x1="421.7" y1="257.0" x2="495.4" y2="239.7" stroke="#34475a" stroke-width="1.4" />
<line x1="423.5" y1="257.9" x2="497.3" y2="240.6" stroke="#8ea0b2" stroke-width="0.7" opacity="0.8"/>
<line x1="499.5" y1="250.9" x2="506.0" y2="249.7" stroke="#a9b8c6" stroke-width="0.8" opacity="0.7"/>
<line x1="485.3" y1="264.0" x2="491.9" y2="262.8" stroke="#a9b8c6" stroke-width="0.8" opacity="0.7"/>
<line x1="486.1" y1="243.9" x2="492.6" y2="242.8" stroke="#a9b8c6" stroke-width="0.8" opacity="0.7"/>
<line x1="474.0" y1="256.5" x2="480.5" y2="255.3" stroke="#a9b8c6" stroke-width="0.8" opacity="0.7"/>
<line x1="454.4" y1="255.7" x2="460.8" y2="254.6" stroke="#a9b8c6" stroke-width="0.8" opacity="0.7"/>
<line x1="367.5" y1="230.9" x2="370.1" y2="314.9" stroke="#1c2a38" stroke-width="1.0" opacity="0.7"/>
<line x1="367.5" y1="231.3" x2="368.1" y2="252.1" stroke="#162330" stroke-width="1.1" opacity="0.8"/>
<line x1="369.7" y1="232.0" x2="372.2" y2="316.2" stroke="#31465a" stroke-width="1.0" opacity="0.7"/>
<line x1="372.0" y1="233.1" x2="374.4" y2="317.6" stroke="#1c2a38" stroke-width="1.0" opacity="0.7"/>
<line x1="372.0" y1="233.6" x2="372.5" y2="253.8" stroke="#162330" stroke-width="1.1" opacity="0.8"/>
<line x1="374.2" y1="234.3" x2="376.5" y2="318.9" stroke="#31465a" stroke-width="1.0" opacity="0.7"/>
<line x1="376.4" y1="235.4" x2="378.6" y2="320.2" stroke="#1c2a38" stroke-width="1.0" opacity="0.7"/>
<line x1="376.5" y1="235.9" x2="377.0" y2="258.1" stroke="#162330" stroke-width="1.1" opacity="0.8"/>
<line x1="378.7" y1="236.6" x2="380.8" y2="321.6" stroke="#31465a" stroke-width="1.0" opacity="0.7"/>
<line x1="380.9" y1="237.7" x2="382.9" y2="322.9" stroke="#1c2a38" stroke-width="1.0" opacity="0.7"/>
<line x1="381.0" y1="238.1" x2="381.4" y2="257.4" stroke="#162330" stroke-width="1.1" opacity="0.8"/>
<line x1="383.2" y1="238.8" x2="385.0" y2="324.3" stroke="#31465a" stroke-width="1.0" opacity="0.7"/>
<line x1="385.4" y1="240.0" x2="387.1" y2="325.6" stroke="#1c2a38" stroke-width="1.0" opacity="0.7"/>
<line x1="385.4" y1="240.4" x2="385.9" y2="263.9" stroke="#162330" stroke-width="1.1" opacity="0.8"/>
<line x1="387.7" y1="241.1" x2="389.3" y2="327.0" stroke="#31465a" stroke-width="1.0" opacity="0.7"/>
<line x1="389.9" y1="242.3" x2="391.4" y2="328.3" stroke="#1c2a38" stroke-width="1.0" opacity="0.7"/>
<line x1="389.9" y1="242.7" x2="390.3" y2="261.4" stroke="#162330" stroke-width="1.1" opacity="0.8"/>
<line x1="392.2" y1="243.4" x2="393.5" y2="329.6" stroke="#31465a" stroke-width="1.0" opacity="0.7"/>
<line x1="394.4" y1="244.5" x2="395.6" y2="331.0" stroke="#1c2a38" stroke-width="1.0" opacity="0.7"/>
<line x1="394.4" y1="245.0" x2="394.8" y2="269.0" stroke="#162330" stroke-width="1.1" opacity="0.8"/>
<line x1="396.7" y1="245.7" x2="397.8" y2="332.3" stroke="#31465a" stroke-width="1.0" opacity="0.7"/>
<line x1="398.9" y1="246.8" x2="399.9" y2="333.7" stroke="#1c2a38" stroke-width="1.0" opacity="0.7"/>
<line x1="398.9" y1="247.3" x2="399.1" y2="266.1" stroke="#162330" stroke-width="1.1" opacity="0.8"/>
<line x1="401.2" y1="248.0" x2="402.0" y2="335.0" stroke="#31465a" stroke-width="1.0" opacity="0.7"/>
<line x1="403.4" y1="249.1" x2="404.2" y2="336.4" stroke="#1c2a38" stroke-width="1.0" opacity="0.7"/>
<line x1="403.4" y1="249.5" x2="403.6" y2="273.5" stroke="#162330" stroke-width="1.1" opacity="0.8"/>
<line x1="405.6" y1="250.2" x2="406.3" y2="337.7" stroke="#31465a" stroke-width="1.0" opacity="0.7"/>
<line x1="407.9" y1="251.4" x2="408.4" y2="339.0" stroke="#1c2a38" stroke-width="1.0" opacity="0.7"/>
<line x1="407.9" y1="251.8" x2="408.0" y2="271.5" stroke="#162330" stroke-width="1.1" opacity="0.8"/>
<line x1="410.1" y1="252.5" x2="410.5" y2="340.4" stroke="#31465a" stroke-width="1.0" opacity="0.7"/>
<line x1="412.4" y1="253.7" x2="412.7" y2="341.7" stroke="#1c2a38" stroke-width="1.0" opacity="0.7"/>
<line x1="412.4" y1="254.1" x2="412.5" y2="277.3" stroke="#162330" stroke-width="1.1" opacity="0.8"/>
<line x1="414.6" y1="254.8" x2="414.8" y2="343.1" stroke="#31465a" stroke-width="1.0" opacity="0.7"/>
<line x1="416.9" y1="255.9" x2="416.9" y2="344.4" stroke="#1c2a38" stroke-width="1.0" opacity="0.7"/>
<line x1="416.9" y1="256.4" x2="416.9" y2="277.5" stroke="#162330" stroke-width="1.1" opacity="0.8"/>
<line x1="419.1" y1="257.1" x2="419.0" y2="345.7" stroke="#31465a" stroke-width="1.0" opacity="0.7"/>
<line x1="421.4" y1="258.2" x2="421.2" y2="347.1" stroke="#1c2a38" stroke-width="1.0" opacity="0.7"/>
<line x1="421.4" y1="258.7" x2="421.3" y2="280.8" stroke="#162330" stroke-width="1.1" opacity="0.8"/>
<line x1="423.6" y1="259.4" x2="423.3" y2="348.4" stroke="#31465a" stroke-width="1.0" opacity="0.7"/>
<line x1="425.9" y1="260.5" x2="425.4" y2="349.8" stroke="#1c2a38" stroke-width="1.0" opacity="0.7"/>
<line x1="425.9" y1="261.0" x2="425.7" y2="283.6" stroke="#162330" stroke-width="1.1" opacity="0.8"/>
<line x1="428.1" y1="261.6" x2="427.5" y2="351.1" stroke="#31465a" stroke-width="1.0" opacity="0.7"/>
<line x1="430.3" y1="262.8" x2="429.7" y2="352.5" stroke="#1c2a38" stroke-width="1.0" opacity="0.7"/>
<line x1="430.3" y1="263.2" x2="430.2" y2="284.2" stroke="#162330" stroke-width="1.1" opacity="0.8"/>
<line x1="432.6" y1="263.9" x2="431.8" y2="353.8" stroke="#31465a" stroke-width="1.0" opacity="0.7"/>
<line x1="434.8" y1="265.1" x2="433.9" y2="355.1" stroke="#1c2a38" stroke-width="1.0" opacity="0.7"/>
<line x1="434.8" y1="265.5" x2="434.6" y2="289.7" stroke="#162330" stroke-width="1.1" opacity="0.8"/>
<line x1="437.1" y1="266.2" x2="436.1" y2="356.5" stroke="#31465a" stroke-width="1.0" opacity="0.7"/>
<line x1="439.3" y1="267.3" x2="438.2" y2="357.8" stroke="#1c2a38" stroke-width="1.0" opacity="0.7"/>
<line x1="439.3" y1="267.8" x2="439.1" y2="287.8" stroke="#162330" stroke-width="1.1" opacity="0.8"/>
<line x1="441.6" y1="268.5" x2="440.3" y2="359.2" stroke="#31465a" stroke-width="1.0" opacity="0.7"/>
<line x1="443.8" y1="269.6" x2="442.4" y2="360.5" stroke="#1c2a38" stroke-width="1.0" opacity="0.7"/>
<line x1="443.8" y1="270.1" x2="443.4" y2="295.2" stroke="#162330" stroke-width="1.1" opacity="0.8"/>
<line x1="446.1" y1="270.7" x2="444.6" y2="361.9" stroke="#31465a" stroke-width="1.0" opacity="0.7"/>
<line x1="448.3" y1="271.9" x2="446.7" y2="363.2" stroke="#1c2a38" stroke-width="1.0" opacity="0.7"/>
<line x1="448.3" y1="272.4" x2="448.0" y2="292.1" stroke="#162330" stroke-width="1.1" opacity="0.8"/>
<line x1="450.6" y1="273.0" x2="448.8" y2="364.5" stroke="#31465a" stroke-width="1.0" opacity="0.7"/>
<line x1="452.8" y1="274.2" x2="450.9" y2="365.9" stroke="#1c2a38" stroke-width="1.0" opacity="0.7"/>
<line x1="452.8" y1="274.6" x2="452.3" y2="300.1" stroke="#162330" stroke-width="1.1" opacity="0.8"/>
<line x1="455.1" y1="275.3" x2="453.1" y2="367.2" stroke="#31465a" stroke-width="1.0" opacity="0.7"/>
<line x1="457.3" y1="276.4" x2="455.2" y2="368.6" stroke="#1c2a38" stroke-width="1.0" opacity="0.7"/>
<line x1="457.3" y1="276.9" x2="456.8" y2="297.2" stroke="#162330" stroke-width="1.1" opacity="0.8"/>
<line x1="459.5" y1="277.6" x2="457.3" y2="369.9" stroke="#31465a" stroke-width="1.0" opacity="0.7"/>
<line x1="461.8" y1="278.7" x2="459.4" y2="371.3" stroke="#1c2a38" stroke-width="1.0" opacity="0.7"/>
<line x1="461.8" y1="279.2" x2="461.1" y2="304.3" stroke="#162330" stroke-width="1.1" opacity="0.8"/>
<line x1="464.0" y1="279.9" x2="461.6" y2="372.6" stroke="#31465a" stroke-width="1.0" opacity="0.7"/>
<line x1="391.5" y1="241.8" x2="392.9" y2="330.6" stroke="#111c27" stroke-width="2.2" />
<line x1="392.9" y1="242.4" x2="394.3" y2="331.4" stroke="#3d5165" stroke-width="0.8" opacity="0.85"/>
<line x1="425.6" y1="259.0" x2="425.2" y2="351.0" stroke="#111c27" stroke-width="2.2" />
<line x1="427.0" y1="259.7" x2="426.5" y2="351.8" stroke="#3d5165" stroke-width="0.8" opacity="0.85"/>
<polygon points="369.4,251.1 388.0,261.0 388.9,312.3 371.0,301.4" fill="#2c4054" />
<polygon points="369.4,251.1 388.0,261.0 388.0,265.4 369.5,255.4" fill="#465b6f" />
<polygon points="370.8,297.5 388.8,308.3 388.9,312.3 371.0,301.4" fill="#384c60" />
<polygon points="371.0,301.4 388.9,312.3 388.9,314.5 371.0,303.5" fill="#121d28" />
<polygon points="383.7,264.8 387.3,266.8 388.1,306.5 384.5,304.4" fill="#0f1923" />
<line x1="369.8" y1="252.1" x2="371.3" y2="300.7" stroke="#3f5367" stroke-width="0.8" />
<ellipse cx="375.0" cy="279.0" rx="2.5" ry="4.0" fill="#c4c8cc"/>
<ellipse cx="375.3" cy="278.7" rx="1.2" ry="2.0" fill="#2e3237"/>
<circle cx="374.4" cy="281.2" r="0.9" fill="#e8eaec"/>
<polygon points="397.2,265.9 416.8,276.4 416.8,329.3 397.9,317.8" fill="#2c4054" />
<polygon points="397.2,265.9 416.8,276.4 416.8,280.9 397.3,270.4" fill="#465b6f" />
<polygon points="397.8,313.7 416.8,325.2 416.8,329.3 397.9,317.8" fill="#384c60" />
<polygon points="397.9,317.8 416.8,329.3 416.8,331.6 397.9,320.0" fill="#121d28" />
<polygon points="412.4,280.4 416.0,282.3 416.0,323.3 412.5,321.2" fill="#0f1923" />
<line x1="397.6" y1="267.0" x2="398.2" y2="317.1" stroke="#3f5367" stroke-width="0.8" />
<ellipse cx="402.4" cy="294.6" rx="2.5" ry="4.0" fill="#c4c8cc"/>
<ellipse cx="402.7" cy="294.3" rx="1.2" ry="2.0" fill="#2e3237"/>
<circle cx="401.8" cy="296.8" r="0.9" fill="#e8eaec"/>
<polygon points="430.9,284.0 452.9,295.7 451.7,350.6 430.5,337.6" fill="#2c4054" />
<polygon points="430.9,284.0 452.9,295.7 452.8,300.4 430.9,288.6" fill="#465b6f" />
<polygon points="430.5,333.5 451.8,346.3 451.7,350.6 430.5,337.6" fill="#384c60" />
<polygon points="430.5,337.6 451.7,350.6 451.7,352.9 430.5,339.9" fill="#121d28" />
<polygon points="448.4,299.9 451.9,301.9 451.1,344.4 447.6,342.3" fill="#0f1923" />
<line x1="431.3" y1="285.1" x2="430.9" y2="336.9" stroke="#3f5367" stroke-width="0.8" />
<ellipse cx="435.5" cy="313.5" rx="2.5" ry="4.0" fill="#c4c8cc"/>
<ellipse cx="435.8" cy="313.2" rx="1.2" ry="2.0" fill="#2e3237"/>
<circle cx="434.9" cy="315.7" r="0.9" fill="#e8eaec"/>
<polygon points="467.4,281.8 540.2,264.8 540.1,272.7 467.2,289.9" fill="#3e566b" />
<polygon points="467.4,281.8 477.5,279.5 477.3,287.5 467.2,289.9" fill="#5a6470" opacity="0.7"/>
<line x1="466.2" y1="328.2" x2="539.3" y2="309.8" stroke="#1f3145" stroke-width="0.9" />
<line x1="466.1" y1="329.6" x2="539.3" y2="311.2" stroke="#3a5169" stroke-width="0.6" />
<line x1="465.4" y1="356.9" x2="538.8" y2="337.6" stroke="#1f3145" stroke-width="0.9" />
<line x1="465.4" y1="358.3" x2="538.8" y2="339.0" stroke="#384f66" stroke-width="0.6" />
<polygon points="465.2,279.0 467.9,278.4 465.3,374.0 462.6,374.7" fill="#24374b" />
<polygon points="539.9,261.6 542.6,261.0 540.8,353.7 538.1,354.4" fill="#263a4f" />
<polygon points="462.7,370.4 540.9,349.5 540.8,353.7 462.6,374.7" fill="#203245" />
<polygon points="492.4,301.4 515.3,295.8 514.9,314.7 491.9,320.5" fill="#e4e8ea" />
<polygon points="495.0,304.1 512.5,299.9 512.4,305.0 494.9,309.3" fill="#9aa4ad" opacity="0.7"/>
<polygon points="495.3,310.5 496.5,310.2 496.3,317.1 495.2,317.4" fill="#59646e" opacity="0.85"/>
<polygon points="497.8,309.9 498.9,309.6 498.7,316.5 497.6,316.8" fill="#59646e" opacity="0.85"/>
<polygon points="500.2,309.3 501.3,309.0 501.2,315.9 500.0,316.2" fill="#59646e" opacity="0.85"/>
<polygon points="502.6,308.7 503.7,308.4 503.6,315.3 502.4,315.6" fill="#59646e" opacity="0.85"/>
<polygon points="505.0,308.1 506.2,307.8 506.0,314.7 504.8,315.0" fill="#59646e" opacity="0.85"/>
<polygon points="507.4,307.5 508.6,307.2 508.4,314.1 507.3,314.4" fill="#59646e" opacity="0.85"/>
<polygon points="509.8,306.9 511.0,306.7 510.8,313.5 509.7,313.8" fill="#59646e" opacity="0.85"/>
<circle cx="469.0" cy="366.3" r="1.3" fill="#8d6f5c"/>
<circle cx="535.5" cy="347.7" r="1.3" fill="#8d6f5c"/>
<circle cx="537.1" cy="268.8" r="1.3" fill="#8d6f5c"/>
<polyline points="465.2,279.0 462.6,374.7" fill="none" stroke="#1c2c3d" stroke-width="1.2"/>
<polyline points="366.3,229.0 465.2,279.0 542.6,261.0" fill="none" stroke="#7d90a3" stroke-width="0.8" opacity="0.8"/>
</g>
<g filter="url(#soft)">
<polygon points="239.5,173.6 263.0,188.8 331.1,171.3 328.1,166.3" fill="#c4c7ca" filter="url(#blur1)" opacity="0.35"/>
<polygon points="240.2,120.6 250.6,115.7 304.2,108.2 328.1,117.3 263.0,130.5" fill="#455a6e" />
<line x1="253.8" y1="118.0" x2="307.1" y2="109.9" stroke="#2b3d50" stroke-width="0.7" opacity="0.8"/>
<line x1="255.9" y1="120.4" x2="311.0" y2="111.4" stroke="#2b3d50" stroke-width="0.7" opacity="0.8"/>
<line x1="258.0" y1="122.9" x2="315.0" y2="113.0" stroke="#2b3d50" stroke-width="0.7" opacity="0.8"/>
<line x1="260.1" y1="125.3" x2="318.9" y2="114.5" stroke="#2b3d50" stroke-width="0.7" opacity="0.8"/>
<line x1="262.2" y1="127.8" x2="322.9" y2="116.0" stroke="#2b3d50" stroke-width="0.7" opacity="0.8"/>
<line x1="264.0" y1="113.8" x2="279.3" y2="127.2" stroke="#2b3d50" stroke-width="0.5" opacity="0.5"/>
<line x1="277.4" y1="112.0" x2="295.6" y2="123.9" stroke="#2b3d50" stroke-width="0.5" opacity="0.5"/>
<line x1="290.8" y1="110.1" x2="311.8" y2="120.6" stroke="#2b3d50" stroke-width="0.5" opacity="0.5"/>
<polygon points="240.2,120.6 263.0,130.5 263.0,185.8 241.5,172.6" fill="#27384a" />
<polygon points="243.2,133.3 258.5,140.5 258.6,172.2 243.9,163.7" fill="#223141" />
<line x1="247.3" y1="136.8" x2="247.8" y2="166.0" stroke="#20303f" stroke-width="0.6" />
<line x1="252.9" y1="139.5" x2="253.2" y2="169.1" stroke="#20303f" stroke-width="0.6" />
<polygon points="243.5,166.6 246.1,168.1 246.2,171.8 243.6,170.3" fill="#9aa6b2" />
<polygon points="263.0,130.5 328.1,117.3 328.1,169.3 263.0,185.8" fill="#3a4d61" />
<line x1="263.0" y1="131.3" x2="328.1" y2="118.1" stroke="#4d657e" stroke-width="1.0" />
<polygon points="268.9,136.5 282.5,133.6 282.5,175.4 268.9,178.8" fill="#2b3948" />
<polygon points="269.8,137.4 281.6,134.9 281.6,144.7 269.8,147.2" fill="#8d99a5" opacity="0.75"/>
<polygon points="270.9,169.7 272.1,169.4 272.1,170.5 270.9,170.7" fill="#7f8c98" opacity="0.85"/>
<polygon points="277.4,153.8 280.5,153.1 280.5,154.1 277.4,154.8" fill="#b4bec7" opacity="0.85"/>
<polygon points="269.8,169.5 272.4,168.9 272.4,171.2 269.8,171.8" fill="#b4bec7" opacity="0.85"/>
<polygon points="276.8,146.1 278.3,145.7 278.3,148.4 276.8,148.7" fill="#7f8c98" opacity="0.85"/>
<polygon points="278.9,136.6 281.6,136.1 281.6,136.9 278.9,137.5" fill="#9aa6b1" opacity="0.85"/>
<polygon points="278.7,161.7 281.6,161.0 281.6,162.8 278.7,163.5" fill="#b4bec7" opacity="0.85"/>
<polygon points="277.5,171.6 279.0,171.2 279.0,172.5 277.5,172.9" fill="#1d2833" opacity="0.85"/>
<polygon points="271.8,154.6 275.2,153.8 275.2,155.4 271.8,156.2" fill="#6d7b88" opacity="0.85"/>
<polygon points="279.1,170.6 280.5,170.2 280.5,172.9 279.1,173.3" fill="#9aa6b1" opacity="0.85"/>
<polygon points="278.5,140.2 281.8,139.4 281.8,142.1 278.5,142.8" fill="#6d7b88" opacity="0.85"/>
<polygon points="274.7,173.4 277.9,172.6 277.9,174.7 274.7,175.5" fill="#1d2833" opacity="0.85"/>
<polygon points="272.7,159.3 275.8,158.6 275.8,160.4 272.7,161.1" fill="#b4bec7" opacity="0.85"/>
<polygon points="275.6,137.5 278.6,136.8 278.6,138.4 275.6,139.0" fill="#cfd6dc" opacity="0.85"/>
<polygon points="276.4,150.0 279.4,149.3 279.4,151.6 276.4,152.2" fill="#e3e7ea" opacity="0.85"/>
<polygon points="270.4,162.8 273.4,162.1 273.4,163.9 270.4,164.6" fill="#9aa6b1" opacity="0.85"/>
<polygon points="273.6,155.3 275.8,154.8 275.8,156.2 273.6,156.7" fill="#9aa6b1" opacity="0.85"/>
<polygon points="278.3,159.0 280.3,158.6 280.3,159.7 278.3,160.2" fill="#1d2833" opacity="0.85"/>
<polygon points="274.7,173.9 276.2,173.6 276.2,176.1 274.7,176.5" fill="#7f8c98" opacity="0.85"/>
<polygon points="275.2,151.7 278.7,150.9 278.7,152.8 275.2,153.6" fill="#6d7b88" opacity="0.85"/>
<polygon points="274.3,146.7 276.9,146.2 276.9,148.4 274.3,149.0" fill="#1d2833" opacity="0.85"/>
<polygon points="273.5,169.4 275.8,168.9 275.8,169.9 273.5,170.5" fill="#e3e7ea" opacity="0.85"/>
<polygon points="277.6,143.6 279.8,143.1 279.8,144.6 277.6,145.1" fill="#9aa6b1" opacity="0.85"/>
<polygon points="275.3,172.2 277.5,171.7 277.5,173.2 275.3,173.7" fill="#b4bec7" opacity="0.85"/>
<polygon points="273.1,157.3 276.1,156.6 276.1,158.1 273.1,158.8" fill="#1d2833" opacity="0.85"/>
<polygon points="275.8,166.9 277.2,166.5 277.2,168.5 275.8,168.8" fill="#e3e7ea" opacity="0.85"/>
<polygon points="278.5,166.0 281.7,165.2 281.7,167.8 278.5,168.6" fill="#7f8c98" opacity="0.85"/>
<polygon points="269.8,173.7 271.0,173.4 271.0,174.2 269.8,174.5" fill="#9aa6b1" opacity="0.85"/>
<polygon points="269.7,166.5 271.3,166.1 271.3,168.4 269.7,168.8" fill="#cfd6dc" opacity="0.85"/>
<polygon points="271.4,148.2 272.8,147.9 272.8,149.7 271.4,150.0" fill="#cfd6dc" opacity="0.85"/>
<polygon points="271.3,147.5 273.0,147.2 273.0,149.3 271.3,149.7" fill="#e3e7ea" opacity="0.85"/>
<polygon points="274.7,140.7 276.7,140.3 276.7,141.9 274.7,142.3" fill="#6d7b88" opacity="0.85"/>
<polygon points="271.5,141.2 273.8,140.7 273.8,141.9 271.5,142.4" fill="#e3e7ea" opacity="0.85"/>
<polygon points="275.8,167.4 277.4,167.0 277.4,168.6 275.8,168.9" fill="#9aa6b1" opacity="0.85"/>
<polygon points="269.9,174.3 272.7,173.6 272.7,175.7 269.9,176.4" fill="#b4bec7" opacity="0.85"/>
<polygon points="285.5,131.4 308.6,126.6 308.6,167.4 285.5,173.1" fill="#2c3b4c" />
<polygon points="287.1,133.2 306.9,129.0 306.9,156.6 287.1,161.3" fill="#566270" />
<ellipse cx="297.2" cy="145.0" rx="9.8" ry="12.9" fill="#8a929b" opacity="0.8"/>
<ellipse cx="297.2" cy="145.0" rx="8.8" ry="11.9" fill="#16191e"/>
<circle cx="295.6" cy="144.4" r="0.9" fill="#33383f"/>
<circle cx="298.3" cy="140.0" r="0.9" fill="#4c535c"/>
<circle cx="297.0" cy="145.0" r="0.9" fill="#33383f"/>
<circle cx="295.0" cy="143.5" r="0.9" fill="#33383f"/>
<circle cx="292.3" cy="148.3" r="0.9" fill="#4c535c"/>
<circle cx="303.6" cy="143.2" r="0.9" fill="#6a727b"/>
<circle cx="297.7" cy="145.3" r="0.9" fill="#6a727b"/>
<circle cx="297.0" cy="140.8" r="0.9" fill="#6a727b"/>
<circle cx="300.0" cy="149.1" r="0.9" fill="#4c535c"/>
<circle cx="295.8" cy="143.8" r="0.9" fill="#33383f"/>
<circle cx="291.2" cy="147.0" r="0.9" fill="#33383f"/>
<circle cx="297.0" cy="144.7" r="0.9" fill="#4c535c"/>
<circle cx="296.3" cy="146.7" r="0.9" fill="#33383f"/>
<circle cx="300.7" cy="141.4" r="0.9" fill="#6a727b"/>
<circle cx="301.1" cy="149.1" r="0.9" fill="#6a727b"/>
<circle cx="297.0" cy="145.0" r="0.9" fill="#33383f"/>
<circle cx="304.3" cy="135.3" r="0.8" fill="#c9ced3" opacity="0.8"/>
<circle cx="305.5" cy="137.1" r="0.8" fill="#c9ced3" opacity="0.8"/>
<circle cx="307.4" cy="146.5" r="0.8" fill="#c9ced3" opacity="0.8"/>
<circle cx="300.3" cy="157.8" r="0.8" fill="#c9ced3" opacity="0.8"/>
<circle cx="292.4" cy="156.8" r="0.8" fill="#c9ced3" opacity="0.8"/>
<circle cx="307.4" cy="143.9" r="0.8" fill="#c9ced3" opacity="0.8"/>
<circle cx="299.3" cy="131.9" r="0.8" fill="#c9ced3" opacity="0.8"/>
<circle cx="291.7" cy="156.4" r="0.8" fill="#c9ced3" opacity="0.8"/>
<circle cx="299.6" cy="158.0" r="0.8" fill="#c9ced3" opacity="0.8"/>
<circle cx="292.5" cy="133.1" r="0.8" fill="#c9ced3" opacity="0.8"/>
<circle cx="302.5" cy="133.6" r="0.8" fill="#c9ced3" opacity="0.8"/>
<circle cx="306.5" cy="139.4" r="0.8" fill="#c9ced3" opacity="0.8"/>
<polygon points="287.7,163.3 307.9,158.5 307.9,165.4 287.7,170.3" fill="#6a1815" />
<polygon points="290.3,163.8 291.5,163.5 291.5,168.3 290.3,168.6" fill="#f4eee8" opacity="0.8"/>
<polygon points="292.9,163.2 294.1,162.9 294.1,167.7 292.9,168.0" fill="#8e2a24" opacity="0.8"/>
<polygon points="295.6,162.5 296.7,162.2 296.7,167.1 295.6,167.4" fill="#b86058" opacity="0.8"/>
<polygon points="298.2,161.9 299.3,161.6 299.3,166.4 298.2,166.7" fill="#8e2a24" opacity="0.8"/>
<polygon points="300.8,161.3 301.9,161.0 301.9,165.8 300.8,166.1" fill="#d9b0a8" opacity="0.8"/>
<polygon points="303.4,160.7 304.5,160.4 304.5,165.2 303.4,165.5" fill="#e8d8d0" opacity="0.8"/>
<polygon points="312.8,125.2 326.5,122.3 326.5,163.5 312.8,166.8" fill="#2b3a4b" />
<polygon points="314.1,126.2 325.2,123.9 325.2,132.5 314.1,134.9" fill="#d3d9de" />
<polygon points="315.1,127.3 320.3,126.2 320.3,132.0 315.1,133.1" fill="#46525e" />
<polygon points="321.6,127.0 324.5,126.4 324.5,131.6 321.6,132.2" fill="#5a6672" />
<polygon points="321.0,137.3 322.4,137.0 322.4,138.7 321.0,139.0" fill="#c4ccd3" opacity="0.85"/>
<polygon points="316.2,145.1 319.4,144.4 319.4,145.8 316.2,146.6" fill="#1d2833" opacity="0.85"/>
<polygon points="317.0,143.8 320.4,143.0 320.4,145.2 317.0,146.0" fill="#808d99" opacity="0.85"/>
<polygon points="320.9,148.3 323.3,147.7 323.3,148.7 320.9,149.3" fill="#1d2833" opacity="0.85"/>
<polygon points="313.9,138.5 317.4,137.8 317.4,138.8 313.9,139.6" fill="#808d99" opacity="0.85"/>
<polygon points="314.8,139.5 317.8,138.8 317.8,140.3 314.8,141.0" fill="#1d2833" opacity="0.85"/>
<polygon points="319.4,141.4 322.9,140.6 322.9,142.1 319.4,142.9" fill="#9aa6b1" opacity="0.85"/>
<polygon points="316.5,150.6 318.7,150.1 318.7,151.3 316.5,151.9" fill="#9aa6b1" opacity="0.85"/>
<polygon points="321.7,157.4 324.2,156.7 324.2,157.5 321.7,158.2" fill="#9aa6b1" opacity="0.85"/>
<polygon points="317.8,158.2 318.8,158.0 318.8,159.2 317.8,159.5" fill="#808d99" opacity="0.85"/>
<polygon points="323.7,145.8 325.9,145.3 325.9,147.3 323.7,147.8" fill="#9aa6b1" opacity="0.85"/>
<polygon points="315.1,159.4 318.5,158.6 318.5,160.1 315.1,160.9" fill="#aab5bf" opacity="0.85"/>
<polygon points="323.6,159.1 326.0,158.5 326.0,160.6 323.6,161.2" fill="#6d7b88" opacity="0.85"/>
<polygon points="316.7,141.6 317.8,141.3 317.8,142.1 316.7,142.4" fill="#6d7b88" opacity="0.85"/>
<polygon points="323.7,142.4 325.5,142.0 325.5,143.5 323.7,143.9" fill="#1d2833" opacity="0.85"/>
<polygon points="317.6,137.5 321.1,136.7 321.1,139.3 317.6,140.0" fill="#6d7b88" opacity="0.85"/>
<polygon points="314.6,142.3 317.6,141.6 317.6,144.0 314.6,144.7" fill="#1d2833" opacity="0.85"/>
<polygon points="322.5,147.4 324.1,147.0 324.1,148.8 322.5,149.2" fill="#6d7b88" opacity="0.85"/>
<polygon points="316.7,142.7 319.8,142.0 319.8,142.9 316.7,143.6" fill="#9aa6b1" opacity="0.85"/>
<polygon points="321.3,137.4 324.0,136.8 324.0,139.3 321.3,139.9" fill="#1d2833" opacity="0.85"/>
<polygon points="317.5,144.1 319.0,143.8 319.0,146.0 317.5,146.4" fill="#6d7b88" opacity="0.85"/>
<polygon points="319.5,160.4 321.3,160.0 321.3,161.8 319.5,162.2" fill="#c4ccd3" opacity="0.85"/>
<polygon points="319.5,151.6 321.0,151.2 321.0,153.5 319.5,153.8" fill="#c4ccd3" opacity="0.85"/>
<polygon points="317.6,143.0 318.8,142.8 318.8,143.7 317.6,144.0" fill="#808d99" opacity="0.85"/>
<polygon points="320.1,143.1 322.0,142.7 322.0,144.3 320.1,144.7" fill="#808d99" opacity="0.85"/>
<polygon points="322.4,137.4 325.4,136.7 325.4,137.7 322.4,138.3" fill="#808d99" opacity="0.85"/>
<polygon points="323.3,139.2 324.7,138.9 324.7,139.9 323.3,140.2" fill="#808d99" opacity="0.85"/>
<polygon points="322.5,143.0 324.8,142.4 324.8,144.9 322.5,145.4" fill="#dde2e6" opacity="0.85"/>
<polygon points="316.5,160.4 318.9,159.8 318.9,161.9 316.5,162.5" fill="#c4ccd3" opacity="0.85"/>
<polygon points="321.6,157.2 324.6,156.5 324.6,158.9 321.6,159.6" fill="#1d2833" opacity="0.85"/>
<polygon points="322.2,155.0 323.7,154.6 323.7,156.0 322.2,156.3" fill="#dde2e6" opacity="0.85"/>
<polygon points="319.1,136.7 321.8,136.1 321.8,137.4 319.1,138.0" fill="#808d99" opacity="0.85"/>
<polygon points="314.1,162.9 316.2,162.4 316.2,163.6 314.1,164.1" fill="#808d99" opacity="0.85"/>
<polygon points="318.0,150.3 320.0,149.8 320.0,151.3 318.0,151.7" fill="#9aa6b1" opacity="0.85"/>
<polyline points="263.0,130.5 263.0,185.8" fill="none" stroke="#1f2d3c" stroke-width="0.8"/>
<polyline points="240.2,120.6 263.0,130.5 328.1,117.3" fill="none" stroke="#223142" stroke-width="0.7" opacity="0.8"/>
</g>
<g filter="url(#soft)">
<polygon points="353.2,151.9 375.5,167.1 441.9,150.4 438.9,145.4" fill="#c4c7ca" filter="url(#blur1)" opacity="0.35"/>
<polygon points="354.0,101.4 364.7,97.3 415.0,89.1 439.8,99.8 375.5,112.2" fill="#455a6e" />
<line x1="367.6" y1="99.6" x2="418.1" y2="91.1" stroke="#2b3d50" stroke-width="0.7" opacity="0.8"/>
<line x1="369.4" y1="102.1" x2="422.2" y2="92.9" stroke="#2b3d50" stroke-width="0.7" opacity="0.8"/>
<line x1="371.2" y1="104.5" x2="426.3" y2="94.7" stroke="#2b3d50" stroke-width="0.7" opacity="0.8"/>
<line x1="373.1" y1="107.0" x2="430.3" y2="96.5" stroke="#2b3d50" stroke-width="0.7" opacity="0.8"/>
<line x1="374.9" y1="109.5" x2="434.4" y2="98.3" stroke="#2b3d50" stroke-width="0.7" opacity="0.8"/>
<line x1="377.3" y1="95.2" x2="391.6" y2="109.1" stroke="#2b3d50" stroke-width="0.5" opacity="0.5"/>
<line x1="389.9" y1="93.2" x2="407.6" y2="106.0" stroke="#2b3d50" stroke-width="0.5" opacity="0.5"/>
<line x1="402.4" y1="91.1" x2="423.7" y2="102.9" stroke="#2b3d50" stroke-width="0.5" opacity="0.5"/>
<polygon points="354.0,101.4 375.5,112.2 375.5,164.1 355.2,150.9" fill="#27384a" />
<polygon points="356.8,113.6 371.3,121.4 371.4,151.2 357.4,142.5" fill="#223141" />
<line x1="360.7" y1="117.2" x2="361.1" y2="144.8" stroke="#20303f" stroke-width="0.6" />
<line x1="366.0" y1="120.0" x2="366.3" y2="148.0" stroke="#20303f" stroke-width="0.6" />
<polygon points="357.1,145.3 359.5,146.8 359.6,150.3 357.2,148.7" fill="#9aa6b2" />
<polygon points="375.5,112.2 439.8,99.8 438.9,148.4 375.5,164.1" fill="#3a4d61" />
<line x1="375.5" y1="113.0" x2="439.8" y2="100.5" stroke="#4d657e" stroke-width="1.0" />
<polygon points="381.3,117.8 394.8,115.1 394.5,154.3 381.2,157.5" fill="#2b3948" />
<polygon points="382.2,118.6 393.8,116.3 393.7,125.5 382.2,127.9" fill="#8d99a5" opacity="0.75"/>
<polygon points="391.6,150.6 392.8,150.3 392.8,151.7 391.6,152.0" fill="#9aa6b1" opacity="0.85"/>
<polygon points="383.6,147.5 385.3,147.1 385.3,149.0 383.6,149.4" fill="#7f8c98" opacity="0.85"/>
<polygon points="388.1,138.3 391.6,137.5 391.6,139.4 388.1,140.2" fill="#cfd6dc" opacity="0.85"/>
<polygon points="390.0,147.8 393.4,147.0 393.4,148.8 390.0,149.6" fill="#1d2833" opacity="0.85"/>
<polygon points="386.5,127.4 389.6,126.7 389.6,128.2 386.5,128.8" fill="#9aa6b1" opacity="0.85"/>
<polygon points="391.3,149.2 394.6,148.5 394.6,150.2 391.3,150.9" fill="#b4bec7" opacity="0.85"/>
<polygon points="387.6,126.0 389.1,125.7 389.1,126.8 387.6,127.1" fill="#9aa6b1" opacity="0.85"/>
<polygon points="387.1,130.6 389.8,130.0 389.8,131.1 387.1,131.7" fill="#1d2833" opacity="0.85"/>
<polygon points="391.0,145.4 393.3,144.8 393.2,147.2 391.0,147.7" fill="#e3e7ea" opacity="0.85"/>
<polygon points="385.6,139.3 389.1,138.5 389.0,141.0 385.6,141.8" fill="#6d7b88" opacity="0.85"/>
<polygon points="383.5,145.5 386.3,144.9 386.3,146.8 383.5,147.5" fill="#e3e7ea" opacity="0.85"/>
<polygon points="384.5,128.2 386.7,127.8 386.7,130.0 384.5,130.5" fill="#b4bec7" opacity="0.85"/>
<polygon points="385.5,149.7 387.3,149.3 387.3,151.4 385.5,151.8" fill="#b4bec7" opacity="0.85"/>
<polygon points="387.6,133.9 389.1,133.6 389.1,134.9 387.6,135.3" fill="#e3e7ea" opacity="0.85"/>
<polygon points="389.1,123.2 390.7,122.9 390.7,125.3 389.1,125.6" fill="#1d2833" opacity="0.85"/>
<polygon points="385.0,152.5 388.1,151.8 388.1,153.6 385.0,154.3" fill="#e3e7ea" opacity="0.85"/>
<polygon points="387.1,139.8 388.8,139.4 388.8,140.5 387.1,140.9" fill="#b4bec7" opacity="0.85"/>
<polygon points="387.1,151.2 390.3,150.4 390.3,152.6 387.1,153.4" fill="#1d2833" opacity="0.85"/>
<polygon points="385.4,118.3 386.9,118.0 386.9,120.1 385.4,120.4" fill="#7f8c98" opacity="0.85"/>
<polygon points="382.5,142.1 384.9,141.6 384.9,143.6 382.5,144.1" fill="#6d7b88" opacity="0.85"/>
<polygon points="391.2,143.8 394.3,143.1 394.3,144.3 391.2,145.0" fill="#cfd6dc" opacity="0.85"/>
<polygon points="384.0,150.0 387.2,149.2 387.2,151.4 384.0,152.1" fill="#b4bec7" opacity="0.85"/>
<polygon points="382.5,131.6 385.2,131.0 385.2,131.9 382.5,132.5" fill="#cfd6dc" opacity="0.85"/>
<polygon points="391.7,117.6 395.0,117.0 395.0,118.4 391.7,119.1" fill="#e3e7ea" opacity="0.85"/>
<polygon points="383.2,152.2 384.6,151.8 384.6,153.9 383.2,154.2" fill="#e3e7ea" opacity="0.85"/>
<polygon points="385.9,119.5 387.2,119.2 387.2,120.0 385.9,120.3" fill="#cfd6dc" opacity="0.85"/>
<polygon points="385.4,140.1 388.3,139.5 388.2,140.8 385.4,141.4" fill="#e3e7ea" opacity="0.85"/>
<polygon points="386.9,128.8 389.8,128.1 389.8,130.2 386.9,130.9" fill="#1d2833" opacity="0.85"/>
<polygon points="391.1,143.9 393.6,143.3 393.6,144.3 391.1,144.9" fill="#7f8c98" opacity="0.85"/>
<polygon points="391.7,120.1 393.5,119.7 393.5,120.6 391.7,121.0" fill="#e3e7ea" opacity="0.85"/>
<polygon points="386.4,149.2 388.7,148.7 388.7,150.8 386.4,151.4" fill="#cfd6dc" opacity="0.85"/>
<polygon points="386.9,129.5 390.3,128.7 390.3,130.0 386.9,130.7" fill="#7f8c98" opacity="0.85"/>
<polygon points="388.1,132.5 390.8,131.9 390.8,134.4 388.1,135.0" fill="#9aa6b1" opacity="0.85"/>
<polygon points="388.8,126.4 390.1,126.1 390.1,127.0 388.8,127.3" fill="#cfd6dc" opacity="0.85"/>
<polygon points="397.7,113.0 420.4,108.5 420.0,146.7 397.4,152.1" fill="#2c3b4c" />
<polygon points="399.2,114.7 418.8,110.8 418.5,136.6 399.1,141.1" fill="#566270" />
<ellipse cx="409.1" cy="125.8" rx="9.7" ry="12.2" fill="#8a929b" opacity="0.8"/>
<ellipse cx="409.1" cy="125.8" rx="8.7" ry="11.2" fill="#16191e"/>
<circle cx="406.6" cy="122.1" r="0.9" fill="#33383f"/>
<circle cx="415.8" cy="121.9" r="0.9" fill="#4c535c"/>
<circle cx="408.9" cy="125.1" r="0.9" fill="#4c535c"/>
<circle cx="405.2" cy="122.6" r="0.9" fill="#33383f"/>
<circle cx="408.6" cy="123.4" r="0.9" fill="#6a727b"/>
<circle cx="408.1" cy="132.8" r="0.9" fill="#4c535c"/>
<circle cx="412.0" cy="126.6" r="0.9" fill="#4c535c"/>
<circle cx="408.4" cy="125.7" r="0.9" fill="#4c535c"/>
<circle cx="410.2" cy="126.8" r="0.9" fill="#4c535c"/>
<circle cx="409.2" cy="125.9" r="0.9" fill="#33383f"/>
<circle cx="406.8" cy="126.4" r="0.9" fill="#33383f"/>
<circle cx="405.4" cy="130.2" r="0.9" fill="#4c535c"/>
<circle cx="408.6" cy="121.7" r="0.9" fill="#33383f"/>
<circle cx="413.4" cy="126.5" r="0.9" fill="#6a727b"/>
<circle cx="412.9" cy="123.4" r="0.9" fill="#4c535c"/>
<circle cx="407.2" cy="121.9" r="0.9" fill="#4c535c"/>
<circle cx="399.0" cy="124.3" r="0.8" fill="#c9ced3" opacity="0.8"/>
<circle cx="418.0" cy="119.7" r="0.8" fill="#c9ced3" opacity="0.8"/>
<circle cx="401.2" cy="117.7" r="0.8" fill="#c9ced3" opacity="0.8"/>
<circle cx="406.6" cy="138.0" r="0.8" fill="#c9ced3" opacity="0.8"/>
<circle cx="419.2" cy="124.4" r="0.8" fill="#c9ced3" opacity="0.8"/>
<circle cx="402.0" cy="134.9" r="0.8" fill="#c9ced3" opacity="0.8"/>
<circle cx="419.2" cy="127.3" r="0.8" fill="#c9ced3" opacity="0.8"/>
<circle cx="405.0" cy="114.1" r="0.8" fill="#c9ced3" opacity="0.8"/>
<circle cx="417.3" cy="133.3" r="0.8" fill="#c9ced3" opacity="0.8"/>
<circle cx="405.6" cy="137.6" r="0.8" fill="#c9ced3" opacity="0.8"/>
<circle cx="414.5" cy="115.1" r="0.8" fill="#c9ced3" opacity="0.8"/>
<circle cx="404.3" cy="114.6" r="0.8" fill="#c9ced3" opacity="0.8"/>
<polygon points="399.7,142.9 419.4,138.4 419.4,144.8 399.7,149.5" fill="#6a1815" />
<polygon points="402.2,143.4 403.4,143.1 403.3,147.6 402.2,147.9" fill="#e8d8d0" opacity="0.8"/>
<polygon points="404.8,142.8 405.9,142.5 405.9,147.0 404.7,147.3" fill="#b86058" opacity="0.8"/>
<polygon points="407.3,142.2 408.5,141.9 408.4,146.4 407.3,146.7" fill="#e8d8d0" opacity="0.8"/>
<polygon points="409.9,141.6 411.0,141.3 411.0,145.8 409.8,146.1" fill="#b86058" opacity="0.8"/>
<polygon points="412.4,141.0 413.6,140.7 413.5,145.2 412.4,145.5" fill="#b86058" opacity="0.8"/>
<polygon points="415.0,140.4 416.1,140.1 416.1,144.6 414.9,144.9" fill="#b86058" opacity="0.8"/>
<polygon points="424.6,107.2 438.1,104.5 437.4,143.0 424.1,146.2" fill="#2b3a4b" />
<polygon points="425.9,108.1 436.8,106.0 436.7,114.0 425.8,116.3" fill="#d3d9de" />
<polygon points="426.8,109.2 432.0,108.1 431.9,113.5 426.8,114.6" fill="#46525e" />
<polygon points="433.2,108.9 436.1,108.3 436.0,113.2 433.2,113.8" fill="#5a6672" />
<polygon points="427.0,132.5 428.0,132.3 428.0,133.1 427.0,133.3" fill="#9aa6b1" opacity="0.85"/>
<polygon points="428.0,135.7 430.8,135.1 430.8,136.1 428.0,136.8" fill="#c4ccd3" opacity="0.85"/>
<polygon points="430.8,126.6 432.1,126.4 432.1,127.7 430.8,128.0" fill="#aab5bf" opacity="0.85"/>
<polygon points="434.1,122.4 435.3,122.2 435.2,124.4 434.1,124.6" fill="#9aa6b1" opacity="0.85"/>
<polygon points="431.3,141.0 432.5,140.7 432.5,142.5 431.3,142.8" fill="#dde2e6" opacity="0.85"/>
<polygon points="429.9,118.0 432.2,117.5 432.1,118.9 429.9,119.3" fill="#dde2e6" opacity="0.85"/>
<polygon points="429.5,137.3 431.7,136.8 431.6,139.0 429.4,139.5" fill="#6d7b88" opacity="0.85"/>
<polygon points="432.2,134.9 435.5,134.1 435.5,136.3 432.1,137.0" fill="#aab5bf" opacity="0.85"/>
<polygon points="428.1,123.2 430.6,122.6 430.5,124.3 428.0,124.9" fill="#aab5bf" opacity="0.85"/>
<polygon points="432.0,134.2 434.4,133.6 434.4,135.8 431.9,136.3" fill="#9aa6b1" opacity="0.85"/>
<polygon points="426.0,126.8 427.3,126.5 427.3,128.0 425.9,128.3" fill="#1d2833" opacity="0.85"/>
<polygon points="425.8,120.0 429.3,119.2 429.2,121.1 425.7,121.8" fill="#dde2e6" opacity="0.85"/>
<polygon points="426.3,125.2 429.1,124.6 429.1,126.9 426.3,127.5" fill="#c4ccd3" opacity="0.85"/>
<polygon points="428.4,121.6 429.7,121.3 429.6,123.0 428.4,123.3" fill="#6d7b88" opacity="0.85"/>
<polygon points="434.5,135.0 436.3,134.6 436.3,135.8 434.5,136.2" fill="#9aa6b1" opacity="0.85"/>
<polygon points="430.3,121.1 432.5,120.7 432.4,122.6 430.3,123.1" fill="#c4ccd3" opacity="0.85"/>
<polygon points="428.9,142.4 431.8,141.8 431.7,143.7 428.8,144.4" fill="#808d99" opacity="0.85"/>
<polygon points="429.6,135.2 432.1,134.7 432.0,136.9 429.6,137.5" fill="#808d99" opacity="0.85"/>
<polygon points="426.8,130.6 428.4,130.2 428.4,131.4 426.8,131.7" fill="#aab5bf" opacity="0.85"/>
<polygon points="432.4,126.8 434.6,126.3 434.6,128.7 432.4,129.2" fill="#dde2e6" opacity="0.85"/>
<polygon points="428.2,136.2 429.4,136.0 429.3,138.1 428.2,138.4" fill="#dde2e6" opacity="0.85"/>
<polygon points="432.3,129.9 434.3,129.4 434.3,131.3 432.3,131.8" fill="#c4ccd3" opacity="0.85"/>
<polygon points="434.8,131.9 436.6,131.5 436.6,133.1 434.8,133.5" fill="#9aa6b1" opacity="0.85"/>
<polygon points="434.2,127.8 437.2,127.1 437.2,127.9 434.2,128.5" fill="#c4ccd3" opacity="0.85"/>
<polygon points="434.5,134.4 436.4,133.9 436.4,135.0 434.4,135.5" fill="#1d2833" opacity="0.85"/>
<polygon points="434.9,125.7 437.8,125.1 437.8,126.1 434.9,126.8" fill="#1d2833" opacity="0.85"/>
<polygon points="432.5,131.2 434.7,130.7 434.7,132.5 432.5,133.0" fill="#c4ccd3" opacity="0.85"/>
<polygon points="425.0,135.3 426.6,134.9 426.5,136.6 424.9,137.0" fill="#aab5bf" opacity="0.85"/>
<polygon points="429.8,122.1 431.0,121.9 431.0,122.6 429.8,122.9" fill="#808d99" opacity="0.85"/>
<polygon points="429.8,138.2 430.9,138.0 430.8,139.7 429.7,140.0" fill="#dde2e6" opacity="0.85"/>
<polygon points="434.2,139.3 435.8,138.9 435.8,140.5 434.2,140.9" fill="#aab5bf" opacity="0.85"/>
<polygon points="425.4,119.9 427.2,119.5 427.2,121.5 425.3,121.9" fill="#808d99" opacity="0.85"/>
<polygon points="434.3,141.2 437.0,140.6 436.9,142.7 434.3,143.3" fill="#6d7b88" opacity="0.85"/>
<polygon points="433.9,119.5 436.1,119.0 436.1,121.4 433.9,121.9" fill="#c4ccd3" opacity="0.85"/>
<polyline points="375.5,112.2 375.5,164.1" fill="none" stroke="#1f2d3c" stroke-width="0.8"/>
<polyline points="354.0,101.4 375.5,112.2 439.8,99.8" fill="none" stroke="#223142" stroke-width="0.7" opacity="0.8"/>
</g>
<polygon points="108.0,292.0 176.0,332.0 236.0,304.0 232.0,290.0" fill="#9a9ea2" filter="url(#blur3u)" opacity="0.1"/>
<g filter="url(#soft)">
<polygon points="106.7,237.9 180.2,277.1 177.1,327.5 110.0,286.9" fill="#345068" />
<polygon points="180.2,277.1 235.4,257.7 233.3,302.5 177.1,327.5" fill="#3f586d" />
<polygon points="106.7,237.9 162.5,220.2 235.4,257.7 180.2,277.1" fill="#5f7e98" />
<polygon points="115.2,237.7 163.7,222.2 194.4,238.0 146.1,254.1" fill="#879fb5" />
<polygon points="139.3,234.8 151.6,230.9 154.9,232.6 142.7,236.6" fill="#6b88a5" opacity="0.85"/>
<polygon points="155.1,247.7 166.0,244.1 168.6,245.5 157.7,249.1" fill="#9db3c8" opacity="0.85"/>
<polygon points="138.4,248.8 152.7,244.1 154.5,245.0 140.2,249.7" fill="#9db3c8" opacity="0.85"/>
<polygon points="160.2,240.8 169.1,237.9 172.7,239.8 163.8,242.7" fill="#6b88a5" opacity="0.85"/>
<polygon points="158.7,241.0 173.2,236.3 176.7,238.1 162.2,242.9" fill="#9db3c8" opacity="0.85"/>
<polygon points="149.1,239.8 170.7,232.8 172.9,234.0 151.3,241.0" fill="#6b88a5" opacity="0.85"/>
<polygon points="142.3,233.6 161.9,227.3 163.4,228.1 143.8,234.4" fill="#a9bdd0" opacity="0.85"/>
<polygon points="140.2,234.4 155.3,229.6 157.2,230.6 142.1,235.4" fill="#3d5a78" opacity="0.85"/>
<polygon points="140.5,231.7 149.9,228.7 151.8,229.7 142.4,232.7" fill="#5f7f9e" opacity="0.85"/>
<polygon points="155.2,240.7 174.1,234.6 177.2,236.2 158.4,242.4" fill="#6b88a5" opacity="0.85"/>
<polygon points="151.0,240.1 167.1,234.8 169.8,236.2 153.7,241.5" fill="#a9bdd0" opacity="0.85"/>
<polygon points="136.3,240.6 157.0,233.9 159.4,235.2 138.7,241.9" fill="#5f7f9e" opacity="0.85"/>
<polygon points="138.5,239.4 151.3,235.3 153.8,236.6 141.0,240.8" fill="#3d5a78" opacity="0.85"/>
<polygon points="145.5,235.0 163.9,229.1 167.5,231.0 149.2,236.9" fill="#5f7f9e" opacity="0.85"/>
<polygon points="150.3,237.4 153.9,236.3 157.3,238.0 153.7,239.2" fill="#8a7a68" opacity="0.9"/>
<polygon points="160.9,226.6 164.7,225.4 169.9,228.1 166.1,229.3" fill="#31506e" opacity="0.9"/>
<polygon points="150.1,242.9 152.6,242.1 155.4,243.6 152.9,244.4" fill="#b0c4d6" opacity="0.9"/>
<polygon points="160.0,228.0 163.0,227.1 167.7,229.5 164.7,230.5" fill="#d8dfe6" opacity="0.9"/>
<polygon points="167.1,240.1 170.1,239.1 175.9,242.1 172.9,243.1" fill="#8a7a68" opacity="0.9"/>
<polygon points="171.3,232.6 174.6,231.5 178.2,233.3 174.9,234.4" fill="#27425d" opacity="0.9"/>
<polygon points="149.4,245.4 152.9,244.3 156.7,246.3 153.2,247.4" fill="#31506e" opacity="0.9"/>
<polygon points="152.7,241.7 157.1,240.2 159.5,241.5 155.0,242.9" fill="#c5d2de" opacity="0.9"/>
<polygon points="136.1,238.0 138.6,237.2 142.2,239.1 139.7,240.0" fill="#d8dfe6" opacity="0.9"/>
<polygon points="168.9,234.4 173.9,232.8 178.8,235.4 173.9,237.0" fill="#31506e" opacity="0.9"/>
<polygon points="144.1,234.7 145.8,234.1 148.8,235.7 147.0,236.3" fill="#c8b89a" opacity="0.9"/>
<polygon points="171.2,236.7 174.8,235.5 178.6,237.4 174.9,238.6" fill="#27425d" opacity="0.9"/>
<polygon points="162.1,240.7 164.3,240.0 168.6,242.3 166.5,243.0" fill="#b0c4d6" opacity="0.9"/>
<polygon points="141.4,244.9 145.4,243.6 151.1,246.6 147.1,247.9" fill="#d8dfe6" opacity="0.9"/>
<polygon points="133.8,244.9 138.3,243.4 142.7,245.7 138.2,247.2" fill="#8a7a68" opacity="0.9"/>
<polygon points="138.8,239.5 140.9,238.8 143.4,240.1 141.3,240.8" fill="#31506e" opacity="0.9"/>
<polygon points="123.3,236.9 127.6,235.5 130.0,236.8 125.7,238.2" fill="#c8b89a" opacity="0.9"/>
<polygon points="130.3,239.7 133.8,238.6 137.2,240.4 133.7,241.5" fill="#b0c4d6" opacity="0.9"/>
<polygon points="143.9,234.1 146.2,233.4 151.5,236.2 149.2,236.9" fill="#31506e" opacity="0.9"/>
<polygon points="144.5,244.4 148.2,243.2 152.2,245.3 148.5,246.5" fill="#c5d2de" opacity="0.9"/>
<polygon points="150.2,228.9 153.1,227.9 158.5,230.7 155.5,231.7" fill="#c5d2de" opacity="0.9"/>
<polygon points="148.2,239.6 150.7,238.8 155.4,241.3 152.9,242.1" fill="#8a7a68" opacity="0.9"/>
<polygon points="151.9,257.2 200.2,241.0 230.8,256.8 182.8,273.6" fill="#879fb5" />
<polygon points="163.6,261.5 174.1,258.0 177.2,259.6 166.7,263.2" fill="#3d5a78" opacity="0.85"/>
<polygon points="200.3,264.1 216.2,258.5 219.7,260.4 203.8,265.9" fill="#d5dde5" opacity="0.85"/>
<polygon points="172.0,253.9 188.6,248.3 190.8,249.4 174.2,255.0" fill="#9db3c8" opacity="0.85"/>
<polygon points="175.1,262.2 190.6,256.8 193.3,258.3 177.8,263.6" fill="#9db3c8" opacity="0.85"/>
<polygon points="176.5,251.6 189.7,247.2 191.9,248.3 178.6,252.8" fill="#5f7f9e" opacity="0.85"/>
<polygon points="182.7,270.2 200.0,264.2 202.8,265.7 185.6,271.7" fill="#a9bdd0" opacity="0.85"/>
<polygon points="199.6,260.2 216.5,254.4 218.0,255.2 201.1,261.0" fill="#9db3c8" opacity="0.85"/>
<polygon points="182.1,262.6 197.5,257.3 200.9,259.1 185.5,264.4" fill="#9db3c8" opacity="0.85"/>
<polygon points="156.9,258.4 171.3,253.5 173.3,254.6 159.0,259.4" fill="#6b88a5" opacity="0.85"/>
<polygon points="193.0,260.2 207.2,255.3 210.4,257.0 196.2,261.9" fill="#6b88a5" opacity="0.85"/>
<polygon points="172.9,260.3 190.0,254.5 193.6,256.3 176.5,262.2" fill="#5f7f9e" opacity="0.85"/>
<polygon points="168.7,254.7 182.2,250.2 185.0,251.6 171.5,256.2" fill="#3d5a78" opacity="0.85"/>
<polygon points="171.3,256.8 190.1,250.4 193.0,251.9 174.2,258.3" fill="#6b88a5" opacity="0.85"/>
<polygon points="194.0,263.3 205.9,259.2 208.4,260.5 196.5,264.6" fill="#6b88a5" opacity="0.85"/>
<polygon points="182.7,254.3 187.1,252.8 192.8,255.8 188.4,257.3" fill="#d8dfe6" opacity="0.9"/>
<polygon points="195.3,244.0 197.6,243.2 203.0,246.0 200.7,246.8" fill="#27425d" opacity="0.9"/>
<polygon points="186.4,248.7 188.3,248.1 191.6,249.8 189.7,250.4" fill="#31506e" opacity="0.9"/>
<polygon points="210.6,253.6 215.6,251.9 221.4,254.9 216.5,256.6" fill="#c8b89a" opacity="0.9"/>
<polygon points="172.4,260.4 175.3,259.4 179.7,261.7 176.8,262.7" fill="#27425d" opacity="0.9"/>
<polygon points="165.1,255.7 167.8,254.8 171.0,256.4 168.2,257.4" fill="#c5d2de" opacity="0.9"/>
<polygon points="193.0,247.7 195.4,246.9 200.1,249.4 197.7,250.2" fill="#8a7a68" opacity="0.9"/>
<polygon points="187.9,249.5 191.1,248.5 194.9,250.4 191.7,251.5" fill="#d8dfe6" opacity="0.9"/>
<polygon points="186.8,252.4 190.7,251.1 195.2,253.4 191.3,254.7" fill="#31506e" opacity="0.9"/>
<polygon points="182.5,268.0 184.2,267.4 189.4,270.2 187.6,270.8" fill="#8a7a68" opacity="0.9"/>
<polygon points="209.4,253.2 211.3,252.6 215.6,254.8 213.7,255.4" fill="#c5d2de" opacity="0.9"/>
<polygon points="181.9,257.3 184.3,256.5 186.6,257.7 184.1,258.5" fill="#c8b89a" opacity="0.9"/>
<polygon points="179.6,251.1 181.9,250.3 185.4,252.2 183.1,252.9" fill="#b0c4d6" opacity="0.9"/>
<polygon points="159.6,259.3 163.1,258.1 165.5,259.4 162.0,260.5" fill="#d8dfe6" opacity="0.9"/>
<polygon points="172.6,259.7 175.0,258.9 180.1,261.6 177.7,262.4" fill="#8a7a68" opacity="0.9"/>
<polygon points="210.9,257.1 214.8,255.8 217.2,257.1 213.4,258.4" fill="#c5d2de" opacity="0.9"/>
<polygon points="192.5,261.6 194.7,260.9 198.7,263.0 196.6,263.7" fill="#8a7a68" opacity="0.9"/>
<polygon points="189.2,256.7 192.4,255.6 197.5,258.3 194.3,259.4" fill="#c8b89a" opacity="0.9"/>
<polygon points="175.4,256.0 178.1,255.1 182.6,257.5 180.0,258.4" fill="#27425d" opacity="0.9"/>
<polygon points="175.0,267.2 177.2,266.4 179.8,267.7 177.5,268.5" fill="#e6ecf1" opacity="0.9"/>
<polygon points="197.1,250.5 199.0,249.9 201.3,251.1 199.5,251.7" fill="#27425d" opacity="0.9"/>
<polygon points="191.3,258.9 193.5,258.2 196.1,259.5 193.9,260.3" fill="#d8dfe6" opacity="0.9"/>
<polygon points="158.2,243.8 172.1,239.2 177.2,241.9 163.3,246.5" fill="#2d4a68" />
<line x1="143.4" y1="257.5" x2="198.9" y2="238.9" stroke="#35506b" stroke-width="1.0" />
<polygon points="111.3,254.6 126.3,262.9 126.8,278.7 112.2,270.3" fill="#5d7ea6" />
<polygon points="122.2,267.8 125.8,269.8 125.9,272.8 122.4,270.8" fill="#cdb09a" opacity="0.9"/>
<polygon points="113.7,259.1 117.3,261.1 117.4,264.0 113.9,262.1" fill="#f2f4f6" opacity="0.9"/>
<polygon points="116.4,262.1 119.9,264.1 120.0,267.0 116.5,265.0" fill="#b3c6d9" opacity="0.9"/>
<polygon points="113.8,257.4 117.4,259.4 117.5,262.3 114.0,260.3" fill="#2a4766" opacity="0.9"/>
<polygon points="118.6,266.9 122.1,268.9 122.3,271.8 118.8,269.8" fill="#b3c6d9" opacity="0.9"/>
<polygon points="111.8,260.0 115.4,262.0 115.5,265.0 112.0,263.0" fill="#cdb09a" opacity="0.9"/>
<polygon points="113.8,266.6 117.3,268.6 117.4,271.6 113.9,269.6" fill="#e4eaf0" opacity="0.9"/>
<polygon points="122.0,269.3 125.5,271.3 125.6,274.3 122.1,272.3" fill="#b3c6d9" opacity="0.9"/>
<polygon points="119.5,267.5 123.0,269.5 123.1,272.5 119.6,270.5" fill="#f2f4f6" opacity="0.9"/>
<polygon points="118.0,269.7 121.5,271.7 121.6,274.6 118.1,272.6" fill="#2a4766" opacity="0.9"/>
<polygon points="131.1,255.8 155.1,268.8 154.5,302.7 131.9,289.4" fill="#8398ac" />
<polygon points="139.7,288.4 141.8,289.6 141.9,292.9 139.8,291.6" fill="#6f8fb2" opacity="0.92"/>
<polygon points="143.9,281.2 148.3,283.7 148.3,286.2 143.9,283.7" fill="#c7d3de" opacity="0.92"/>
<polygon points="150.0,282.6 152.8,284.2 152.7,289.6 149.9,288.0" fill="#c7d3de" opacity="0.92"/>
<polygon points="142.8,285.4 148.1,288.4 148.1,291.3 142.8,288.2" fill="#6f8fb2" opacity="0.92"/>
<polygon points="143.6,273.7 147.8,276.0 147.8,281.5 143.6,279.1" fill="#6f8fb2" opacity="0.92"/>
<polygon points="149.5,294.4 155.0,297.6 154.9,302.2 149.4,299.0" fill="#dfe6ec" opacity="0.92"/>
<polygon points="146.4,271.2 150.4,273.4 150.4,278.5 146.4,276.3" fill="#9a8270" opacity="0.92"/>
<polygon points="141.9,266.2 146.5,268.7 146.5,272.8 142.0,270.3" fill="#b89a80" opacity="0.92"/>
<polygon points="141.0,276.3 145.5,278.8 145.5,281.7 141.1,279.2" fill="#b89a80" opacity="0.92"/>
<polygon points="140.4,272.6 144.2,274.8 144.2,276.9 140.4,274.7" fill="#31506e" opacity="0.92"/>
<polygon points="148.6,272.2 152.9,274.6 152.8,279.4 148.6,277.0" fill="#6f8fb2" opacity="0.92"/>
<polygon points="146.2,286.1 149.6,288.0 149.6,291.4 146.2,289.4" fill="#26384a" opacity="0.92"/>
<polygon points="132.3,276.3 135.5,278.1 135.6,282.9 132.4,281.1" fill="#e9edf0" opacity="0.92"/>
<polygon points="140.9,276.0 145.9,278.8 145.9,282.5 140.9,279.7" fill="#9a8270" opacity="0.92"/>
<polygon points="133.1,268.4 137.0,270.6 137.1,274.1 133.2,272.0" fill="#26384a" opacity="0.92"/>
<polygon points="139.6,279.4 144.3,282.0 144.3,284.3 139.7,281.6" fill="#e9edf0" opacity="0.92"/>
<polygon points="136.9,262.9 141.7,265.5 141.7,269.1 137.0,266.5" fill="#f0f3f5" opacity="0.92"/>
<polygon points="134.7,284.2 139.8,287.1 139.8,292.2 134.8,289.3" fill="#e9edf0" opacity="0.92"/>
<polygon points="133.5,266.8 136.2,268.3 136.3,273.2 133.6,271.7" fill="#26384a" opacity="0.92"/>
<polygon points="137.3,279.6 141.7,282.1 141.7,285.9 137.3,283.4" fill="#f0f3f5" opacity="0.92"/>
<polygon points="134.9,280.7 137.7,282.4 137.8,286.7 134.9,285.1" fill="#31506e" opacity="0.92"/>
<polygon points="138.6,279.4 140.8,280.6 140.8,285.5 138.7,284.3" fill="#6f8fb2" opacity="0.92"/>
<polygon points="137.5,267.7 139.9,269.0 139.9,273.6 137.6,272.3" fill="#c7d3de" opacity="0.92"/>
<polygon points="143.7,278.3 147.9,280.7 147.9,284.2 143.7,281.8" fill="#b89a80" opacity="0.92"/>
<polygon points="141.8,290.2 145.4,292.3 145.4,294.3 141.8,292.3" fill="#6f8fb2" opacity="0.92"/>
<polygon points="150.5,271.4 155.4,274.1 155.3,278.3 150.4,275.6" fill="#c7d3de" opacity="0.92"/>
<polygon points="140.9,276.8 144.6,278.9 144.6,281.7 140.9,279.6" fill="#b89a80" opacity="0.92"/>
<polygon points="148.4,292.2 153.1,294.9 153.1,300.1 148.3,297.3" fill="#b89a80" opacity="0.92"/>
<polygon points="146.5,275.1 149.2,276.6 149.2,281.4 146.5,279.9" fill="#26384a" opacity="0.92"/>
<polygon points="138.4,270.1 143.9,273.2 144.0,276.8 138.4,273.7" fill="#b89a80" opacity="0.92"/>
<polygon points="135.8,259.6 141.1,262.5 141.1,265.2 135.8,262.4" fill="#26384a" opacity="0.92"/>
<polygon points="134.3,273.7 138.7,276.1 138.7,278.6 134.4,276.1" fill="#4b6d92" opacity="0.92"/>
<polygon points="134.6,278.6 138.6,280.9 138.6,283.2 134.7,280.9" fill="#b89a80" opacity="0.92"/>
<polygon points="136.8,277.0 139.8,278.7 139.8,282.1 136.9,280.5" fill="#4b6d92" opacity="0.92"/>
<polygon points="147.2,292.4 150.6,294.4 150.6,299.7 147.2,297.7" fill="#dfe6ec" opacity="0.92"/>
<polygon points="147.6,285.6 149.8,286.8 149.7,290.6 147.5,289.3" fill="#c7d3de" opacity="0.92"/>
<polygon points="149.1,288.9 152.9,291.1 152.9,293.2 149.1,291.0" fill="#e9edf0" opacity="0.92"/>
<polygon points="144.4,286.4 149.2,289.2 149.2,293.7 144.4,290.9" fill="#f0f3f5" opacity="0.92"/>
<polygon points="142.3,267.5 145.8,269.4 145.8,273.1 142.3,271.2" fill="#6f8fb2" opacity="0.92"/>
<polygon points="137.4,286.3 139.6,287.6 139.7,290.6 137.4,289.3" fill="#f0f3f5" opacity="0.92"/>
<polygon points="133.8,267.5 138.6,270.1 138.7,272.6 133.8,270.0" fill="#26384a" opacity="0.92"/>
<polygon points="137.9,263.7 143.4,266.6 143.4,268.8 137.9,265.8" fill="#31506e" opacity="0.92"/>
<polygon points="146.4,289.0 150.9,291.6 150.8,295.7 146.4,293.1" fill="#9a8270" opacity="0.92"/>
<polygon points="141.2,278.2 145.9,280.9 145.9,283.0 141.2,280.4" fill="#6f8fb2" opacity="0.92"/>
<polygon points="144.1,281.4 146.9,282.9 146.9,288.1 144.1,286.5" fill="#c7d3de" opacity="0.92"/>
<polygon points="140.2,267.5 143.2,269.1 143.2,271.6 140.2,270.0" fill="#dfe6ec" opacity="0.92"/>
<polygon points="110.2,275.5 155.2,301.9 155.0,313.4 111.0,286.8" fill="#eceeef" />
<polygon points="111.4,278.3 120.3,283.6 120.4,286.5 111.6,281.3" fill="#d9924a" opacity="0.8"/>
<polygon points="123.1,287.1 125.8,288.8 125.9,290.7 123.2,289.1" fill="#9aa1a8" opacity="0.7"/>
<polygon points="127.2,289.6 129.9,291.2 130.0,293.1 127.2,291.5" fill="#9aa1a8" opacity="0.7"/>
<polygon points="131.3,292.0 134.0,293.6 134.0,295.6 131.3,294.0" fill="#9aa1a8" opacity="0.7"/>
<polygon points="135.4,294.4 138.1,296.0 138.1,298.0 135.4,296.4" fill="#9aa1a8" opacity="0.7"/>
<polygon points="139.4,296.8 142.2,298.4 142.2,300.4 139.5,298.8" fill="#9aa1a8" opacity="0.7"/>
<polygon points="143.5,299.2 146.3,300.9 146.3,302.9 143.5,301.2" fill="#9aa1a8" opacity="0.7"/>
<polygon points="147.6,301.7 150.3,303.3 150.3,305.3 147.6,303.7" fill="#9aa1a8" opacity="0.7"/>
<polygon points="120.5,288.5 130.0,294.1 130.1,297.8 120.7,292.2" fill="#4d535c" />
<polygon points="159.8,287.5 173.9,295.5 173.4,306.0 159.5,298.0" fill="#6f8db0" />
<polygon points="170.7,294.8 174.2,296.8 174.1,299.3 170.6,297.3" fill="#c8d6e4" opacity="0.92"/>
<polygon points="169.1,301.3 172.6,303.3 172.5,305.8 169.0,303.8" fill="#c8d6e4" opacity="0.92"/>
<polygon points="168.1,297.3 171.6,299.3 171.5,301.8 168.0,299.8" fill="#f5f6f7" opacity="0.92"/>
<polygon points="162.3,295.3 165.8,297.3 165.7,299.8 162.2,297.8" fill="#c8d6e4" opacity="0.92"/>
<polygon points="167.6,296.7 171.2,298.7 171.0,301.2 167.5,299.2" fill="#2c4868" opacity="0.92"/>
<polygon points="164.1,297.9 167.6,299.9 167.5,302.4 164.0,300.4" fill="#c8d6e4" opacity="0.92"/>
<polygon points="163.3,296.3 166.8,298.3 166.7,300.8 163.2,298.8" fill="#eef2f6" opacity="0.92"/>
<polygon points="169.7,296.0 173.2,298.0 173.1,300.5 169.6,298.5" fill="#2c4868" opacity="0.92"/>
<polygon points="163.8,293.7 167.3,295.7 167.2,298.2 163.7,296.2" fill="#c8d6e4" opacity="0.92"/>
<polygon points="154.5,303.7 174.3,315.4 173.8,324.0 154.3,312.2" fill="#26323e" />
<polygon points="155.8,306.0 164.0,310.9 163.8,315.4 155.7,310.5" fill="#e3e6e8" opacity="0.9"/>
<polygon points="166.6,315.0 172.0,318.2 171.8,322.2 166.4,319.0" fill="#d5d9dc" opacity="0.8"/>
<polygon points="183.1,281.9 190.9,279.1 190.4,288.0 182.6,291.0" fill="#2f4660" />
<polygon points="184.2,283.0 189.7,281.0 189.3,286.9 183.8,289.0" fill="#6b5f58" opacity="0.7"/>
<polygon points="226.3,265.4 233.0,263.0 232.6,272.0 225.9,274.5" fill="#2f4660" />
<polygon points="227.4,266.3 231.8,264.7 231.5,271.1 227.1,272.7" fill="#6b5f58" opacity="0.7"/>
<polygon points="196.3,299.1 221.9,288.7 221.6,294.7 195.9,305.4" fill="#aeb6bc" />
<polygon points="197.3,300.1 220.7,290.5 220.6,293.3 197.1,303.0" fill="#5e6a74" />
<polygon points="191.7,311.4 200.7,307.6 200.2,316.5 191.2,320.5" fill="#c9cdd0" />
<polygon points="192.6,312.7 199.6,309.7 199.3,315.5 192.3,318.6" fill="#23282e" />
<polygon points="193.7,314.4 198.2,312.5 198.2,313.2 193.7,315.1" fill="#6d6a58" opacity="0.8"/>
<polygon points="203.1,303.8 211.5,300.3 210.9,310.9 202.5,314.6" fill="#c9cdd0" />
<polygon points="204.0,305.0 210.4,302.3 210.0,309.9 203.6,312.7" fill="#23282e" />
<polygon points="205.1,306.7 209.0,305.0 208.9,307.6 205.0,309.3" fill="#6d6a58" opacity="0.8"/>
<polygon points="214.8,299.8 224.3,295.8 223.8,306.1 214.2,310.3" fill="#c9cdd0" />
<polygon points="215.7,301.0 223.2,297.8 222.8,305.1 215.3,308.5" fill="#23282e" />
<polygon points="216.8,302.6 221.9,300.4 221.7,302.9 216.7,305.1" fill="#6d6a58" opacity="0.8"/>
<polyline points="106.7,237.9 180.2,277.1 235.4,257.7" fill="none" stroke="#7690a8" stroke-width="0.8" opacity="0.8"/>
<polyline points="180.2,277.1 177.1,327.5" fill="none" stroke="#27405a" stroke-width="0.9"/>
</g>
<polygon points="84.0,472.0 172.0,531.0 255.0,496.0 252.0,470.0" fill="#9a9ea2" filter="url(#blur3u)" opacity="0.1"/>
<g filter="url(#soft)">
<polygon points="85.3,398.9 175.3,453.5 173.8,526.7 86.8,466.8" fill="#425a70" />
<polygon points="175.3,453.5 255.0,425.5 252.0,493.4 173.8,526.7" fill="#384e62" />
<polygon points="85.3,398.9 160.6,373.9 255.0,425.5 175.3,453.5" fill="#6e8aa5" />
<polygon points="110.3,395.6 164.0,377.8 199.8,397.4 145.0,416.1" fill="#8aa2b9" />
<polygon points="147.3,400.3 180.3,389.2 183.1,390.7 150.0,401.9" fill="#d5dde5" opacity="0.85"/>
<polygon points="153.7,406.5 171.9,400.3 175.1,402.1 156.9,408.3" fill="#9db3c8" opacity="0.85"/>
<polygon points="145.2,402.3 171.1,393.5 173.7,395.0 147.8,403.8" fill="#6b88a5" opacity="0.85"/>
<polygon points="158.4,406.6 181.8,398.7 184.6,400.3 161.2,408.2" fill="#c3d0dc" opacity="0.85"/>
<polygon points="159.9,404.9 190.8,394.4 193.4,395.9 162.5,406.3" fill="#d5dde5" opacity="0.85"/>
<polygon points="163.4,402.3 194.8,391.6 196.9,392.8 165.4,403.5" fill="#9db3c8" opacity="0.85"/>
<polygon points="147.5,408.2 184.3,395.7 188.5,398.0 151.6,410.5" fill="#c3d0dc" opacity="0.85"/>
<polygon points="125.3,394.1 146.3,387.1 148.3,388.3 127.4,395.3" fill="#6b88a5" opacity="0.85"/>
<polygon points="121.8,400.8 150.5,391.2 153.5,392.9 124.7,402.5" fill="#9db3c8" opacity="0.85"/>
<polygon points="143.4,396.7 165.4,389.3 168.6,391.1 146.5,398.5" fill="#a9bdd0" opacity="0.85"/>
<polygon points="156.5,400.2 173.7,394.4 175.4,395.4 158.2,401.2" fill="#a9bdd0" opacity="0.85"/>
<polygon points="124.5,401.1 146.1,393.9 149.9,396.0 128.2,403.3" fill="#c3d0dc" opacity="0.85"/>
<polygon points="143.9,404.3 168.5,396.0 170.9,397.3 146.2,405.7" fill="#9db3c8" opacity="0.85"/>
<polygon points="150.4,398.4 175.3,390.0 176.7,390.8 151.8,399.2" fill="#c3d0dc" opacity="0.85"/>
<polygon points="145.0,395.9 161.2,390.5 165.1,392.6 148.8,398.1" fill="#c3d0dc" opacity="0.85"/>
<polygon points="128.5,391.7 158.5,381.6 162.4,383.8 132.3,393.9" fill="#3d5a78" opacity="0.85"/>
<polygon points="174.4,396.9 180.9,394.8 184.6,396.8 178.1,399.0" fill="#2f4c69" opacity="0.9"/>
<polygon points="168.5,399.5 173.7,397.7 177.1,399.7 171.9,401.4" fill="#e6ebf0" opacity="0.9"/>
<polygon points="144.4,392.9 151.8,390.4 155.4,392.5 148.0,395.0" fill="#b49f86" opacity="0.9"/>
<polygon points="127.1,401.9 131.0,400.6 136.3,403.7 132.5,405.0" fill="#e6ebf0" opacity="0.9"/>
<polygon points="163.3,388.0 170.5,385.5 173.0,386.9 165.8,389.4" fill="#e6ebf0" opacity="0.9"/>
<polygon points="156.0,391.2 161.1,389.5 165.9,392.2 160.9,393.9" fill="#2f4c69" opacity="0.9"/>
<polygon points="178.1,395.8 184.2,393.8 186.2,394.9 180.1,396.9" fill="#b49f86" opacity="0.9"/>
<polygon points="171.1,398.8 175.3,397.4 177.5,398.7 173.4,400.1" fill="#c8b89a" opacity="0.9"/>
<polygon points="155.9,422.5 211.1,403.6 247.9,423.8 191.5,443.5" fill="#8aa2b9" />
<polygon points="183.4,422.4 200.3,416.6 204.1,418.7 187.2,424.5" fill="#9db3c8" opacity="0.85"/>
<polygon points="181.9,420.9 217.7,408.5 221.3,410.5 185.5,422.9" fill="#a9bdd0" opacity="0.85"/>
<polygon points="204.0,423.7 226.9,415.8 230.8,417.9 207.8,425.9" fill="#6b88a5" opacity="0.85"/>
<polygon points="164.6,425.6 197.7,414.2 199.5,415.2 166.4,426.7" fill="#a9bdd0" opacity="0.85"/>
<polygon points="161.1,423.6 180.0,417.1 182.9,418.8 164.0,425.3" fill="#d5dde5" opacity="0.85"/>
<polygon points="188.9,431.9 222.0,420.4 225.5,422.3 192.3,433.8" fill="#a9bdd0" opacity="0.85"/>
<polygon points="212.2,429.1 242.4,418.6 246.3,420.7 216.1,431.3" fill="#d5dde5" opacity="0.85"/>
<polygon points="197.3,432.6 226.2,422.5 228.5,423.8 199.6,433.9" fill="#c3d0dc" opacity="0.85"/>
<polygon points="172.2,422.2 195.3,414.3 198.8,416.2 175.7,424.2" fill="#c3d0dc" opacity="0.85"/>
<polygon points="191.2,419.7 210.1,413.2 211.8,414.2 193.0,420.7" fill="#9db3c8" opacity="0.85"/>
<polygon points="173.6,421.0 190.9,415.0 193.6,416.6 176.3,422.5" fill="#5f7f9e" opacity="0.85"/>
<polygon points="182.2,428.2 201.8,421.4 203.3,422.2 183.6,429.1" fill="#6b88a5" opacity="0.85"/>
<polygon points="170.9,421.3 202.1,410.6 204.2,411.7 172.9,422.5" fill="#c3d0dc" opacity="0.85"/>
<polygon points="200.3,426.2 225.0,417.6 227.5,418.9 202.7,427.6" fill="#3d5a78" opacity="0.85"/>
<polygon points="187.6,421.2 219.6,410.2 221.8,411.4 189.8,422.5" fill="#5f7f9e" opacity="0.85"/>
<polygon points="171.9,429.8 188.8,424.0 192.8,426.3 175.9,432.2" fill="#a9bdd0" opacity="0.85"/>
<polygon points="215.7,428.0 220.0,426.5 223.3,428.4 218.9,429.9" fill="#e6ebf0" opacity="0.9"/>
<polygon points="217.2,420.5 222.7,418.6 227.6,421.2 222.0,423.2" fill="#34526f" opacity="0.9"/>
<polygon points="202.1,430.8 209.2,428.3 212.9,430.4 205.7,432.9" fill="#c8b89a" opacity="0.9"/>
<polygon points="219.4,424.7 226.6,422.1 231.1,424.7 223.9,427.2" fill="#2f4c69" opacity="0.9"/>
<polygon points="184.3,424.8 190.4,422.7 193.1,424.2 187.0,426.4" fill="#e6ebf0" opacity="0.9"/>
<polygon points="216.6,427.6 221.8,425.7 225.2,427.6 219.9,429.5" fill="#2f4c69" opacity="0.9"/>
<polygon points="186.5,433.5 191.0,432.0 195.8,434.8 191.3,436.4" fill="#34526f" opacity="0.9"/>
<polygon points="171.2,424.4 176.6,422.6 179.1,424.0 173.7,425.9" fill="#e6ebf0" opacity="0.9"/>
<polygon points="161.1,401.3 185.6,393.0 195.0,398.2 170.3,406.6" fill="#3d5a78" opacity="0.9"/>
<polygon points="132.0,421.4 145.9,416.6 150.5,419.3 136.5,424.1" fill="#c9cfd4" opacity="0.8"/>
<line x1="130.3" y1="426.2" x2="207.8" y2="399.7" stroke="#3e5a75" stroke-width="1.0" />
<polygon points="88.1,406.3 128.1,430.8 128.1,492.1 89.3,465.5" fill="#1a1d22" />
<g transform="matrix(39.937 24.497 1.227 59.211 88.12 406.32)">
<circle cx="0.5" cy="0.5" r="0.47" fill="none" stroke="#a4aaaf" stroke-width="1.2" vector-effect="non-scaling-stroke"/>
<circle cx="0.5" cy="0.5" r="0.4" fill="none" stroke="#70777e" stroke-width="0.8" vector-effect="non-scaling-stroke"/>
<circle cx="0.5" cy="0.5" r="0.33" fill="none" stroke="#969ca2" stroke-width="0.85" vector-effect="non-scaling-stroke"/>
<circle cx="0.5" cy="0.5" r="0.26" fill="none" stroke="#697077" stroke-width="0.8" vector-effect="non-scaling-stroke"/>
<circle cx="0.5" cy="0.5" r="0.19" fill="none" stroke="#90969c" stroke-width="0.85" vector-effect="non-scaling-stroke"/>
<circle cx="0.5" cy="0.5" r="0.12" fill="#8d9399"/>
<circle cx="0.5" cy="0.5" r="0.07" fill="#cdd1d4"/>
<line x1="0.5" y1="0.5" x2="0.970" y2="0.500" stroke="#9aa1a7" stroke-width="0.7" vector-effect="non-scaling-stroke" opacity="0.8"/>
<line x1="0.5" y1="0.5" x2="0.832" y2="0.832" stroke="#9aa1a7" stroke-width="0.7" vector-effect="non-scaling-stroke" opacity="0.8"/>
<line x1="0.5" y1="0.5" x2="0.500" y2="0.970" stroke="#9aa1a7" stroke-width="0.7" vector-effect="non-scaling-stroke" opacity="0.8"/>
<line x1="0.5" y1="0.5" x2="0.168" y2="0.832" stroke="#9aa1a7" stroke-width="0.7" vector-effect="non-scaling-stroke" opacity="0.8"/>
<line x1="0.5" y1="0.5" x2="0.030" y2="0.500" stroke="#9aa1a7" stroke-width="0.7" vector-effect="non-scaling-stroke" opacity="0.8"/>
<line x1="0.5" y1="0.5" x2="0.168" y2="0.168" stroke="#9aa1a7" stroke-width="0.7" vector-effect="non-scaling-stroke" opacity="0.8"/>
<line x1="0.5" y1="0.5" x2="0.500" y2="0.030" stroke="#9aa1a7" stroke-width="0.7" vector-effect="non-scaling-stroke" opacity="0.8"/>
<line x1="0.5" y1="0.5" x2="0.832" y2="0.168" stroke="#9aa1a7" stroke-width="0.7" vector-effect="non-scaling-stroke" opacity="0.8"/>
<circle cx="0.06" cy="0.06" r="0.035" fill="#cfd3d6"/>
<circle cx="0.94" cy="0.06" r="0.035" fill="#cfd3d6"/>
<circle cx="0.06" cy="0.94" r="0.035" fill="#cfd3d6"/>
<circle cx="0.94" cy="0.94" r="0.035" fill="#cfd3d6"/>
</g>
<polygon points="132.5,433.6 172.9,458.3 171.7,521.9 132.5,495.1" fill="#1a1d22" />
<g transform="matrix(40.385 24.773 -0.065 61.494 132.54 433.57)">
<circle cx="0.5" cy="0.5" r="0.47" fill="none" stroke="#a4aaaf" stroke-width="1.2" vector-effect="non-scaling-stroke"/>
<circle cx="0.5" cy="0.5" r="0.4" fill="none" stroke="#70777e" stroke-width="0.8" vector-effect="non-scaling-stroke"/>
<circle cx="0.5" cy="0.5" r="0.33" fill="none" stroke="#969ca2" stroke-width="0.85" vector-effect="non-scaling-stroke"/>
<circle cx="0.5" cy="0.5" r="0.26" fill="none" stroke="#697077" stroke-width="0.8" vector-effect="non-scaling-stroke"/>
<circle cx="0.5" cy="0.5" r="0.19" fill="none" stroke="#90969c" stroke-width="0.85" vector-effect="non-scaling-stroke"/>
<circle cx="0.5" cy="0.5" r="0.12" fill="#8d9399"/>
<circle cx="0.5" cy="0.5" r="0.07" fill="#cdd1d4"/>
<line x1="0.5" y1="0.5" x2="0.970" y2="0.500" stroke="#9aa1a7" stroke-width="0.7" vector-effect="non-scaling-stroke" opacity="0.8"/>
<line x1="0.5" y1="0.5" x2="0.832" y2="0.832" stroke="#9aa1a7" stroke-width="0.7" vector-effect="non-scaling-stroke" opacity="0.8"/>
<line x1="0.5" y1="0.5" x2="0.500" y2="0.970" stroke="#9aa1a7" stroke-width="0.7" vector-effect="non-scaling-stroke" opacity="0.8"/>
<line x1="0.5" y1="0.5" x2="0.168" y2="0.832" stroke="#9aa1a7" stroke-width="0.7" vector-effect="non-scaling-stroke" opacity="0.8"/>
<line x1="0.5" y1="0.5" x2="0.030" y2="0.500" stroke="#9aa1a7" stroke-width="0.7" vector-effect="non-scaling-stroke" opacity="0.8"/>
<line x1="0.5" y1="0.5" x2="0.168" y2="0.168" stroke="#9aa1a7" stroke-width="0.7" vector-effect="non-scaling-stroke" opacity="0.8"/>
<line x1="0.5" y1="0.5" x2="0.500" y2="0.030" stroke="#9aa1a7" stroke-width="0.7" vector-effect="non-scaling-stroke" opacity="0.8"/>
<line x1="0.5" y1="0.5" x2="0.832" y2="0.168" stroke="#9aa1a7" stroke-width="0.7" vector-effect="non-scaling-stroke" opacity="0.8"/>
<circle cx="0.06" cy="0.06" r="0.035" fill="#cfd3d6"/>
<circle cx="0.94" cy="0.06" r="0.035" fill="#cfd3d6"/>
<circle cx="0.06" cy="0.94" r="0.035" fill="#cfd3d6"/>
<circle cx="0.94" cy="0.94" r="0.035" fill="#cfd3d6"/>
</g>
<polygon points="175.3,453.5 255.0,425.5 254.7,431.6 175.2,460.1" fill="#40566a" />
<line x1="175.2" y1="460.1" x2="254.7" y2="431.6" stroke="#5d768c" stroke-width="0.8" />
<polygon points="179.9,459.1 191.1,455.1 190.7,468.1 179.6,472.2" fill="#2f4660" />
<polygon points="181.5,460.7 189.4,457.9 189.2,466.5 181.3,469.5" fill="#8a7468" opacity="0.75"/>
<polygon points="241.9,438.2 251.5,434.8 250.9,448.4 241.4,452.0" fill="#2f4458" />
<polygon points="243.4,439.7 249.8,437.4 249.4,447.0 243.0,449.3" fill="#8a7468" opacity="0.7"/>
<line x1="198.4" y1="473.7" x2="238.0" y2="458.7" stroke="#2c4256" stroke-width="0.8" />
<polygon points="204.5,479.9 236.1,467.6 235.7,476.2 204.3,488.8" fill="#e6e8ea" />
<polygon points="207.6,481.5 232.8,471.6 232.7,474.3 207.5,484.3" fill="#7c858d" opacity="0.8"/>
<polygon points="194.5,503.7 207.9,498.2 207.5,510.3 194.2,515.9" fill="#c9cdd0" />
<polygon points="195.9,505.6 206.4,501.3 206.1,508.7 195.7,513.1" fill="#23282e" />
<polygon points="197.5,508.1 204.5,505.2 204.5,505.2 197.5,508.1" fill="#6d6a58" opacity="0.8"/>
<polygon points="214.2,492.1 227.6,486.7 227.1,500.9 213.8,506.5" fill="#c9cdd0" />
<polygon points="215.6,494.0 226.1,489.7 225.8,499.4 215.3,503.8" fill="#23282e" />
<polygon points="217.2,496.4 224.3,493.5 224.2,496.0 217.1,498.9" fill="#6d6a58" opacity="0.8"/>
<polygon points="230.7,487.5 244.0,482.0 243.5,494.7 230.2,500.3" fill="#c9cdd0" />
<polygon points="232.0,489.3 242.5,485.0 242.2,493.2 231.7,497.6" fill="#23282e" />
<polygon points="233.6,491.7 240.7,488.8 240.6,489.8 233.6,492.7" fill="#6d6a58" opacity="0.8"/>
<polyline points="85.3,398.9 175.3,453.5 255.0,425.5" fill="none" stroke="#7f9ab4" stroke-width="0.9" opacity="0.85"/>
<polyline points="175.3,453.5 173.8,526.7" fill="none" stroke="#2c4561" stroke-width="1.0"/>
</g>
<g filter="url(#soft)">
<polygon points="461.5,133.6 485.0,147.9 549.5,130.4 546.5,125.4" fill="#c4c7ca" filter="url(#blur1)" opacity="0.35"/>
<polygon points="462.4,83.1 471.4,79.5 522.6,71.2 547.3,81.4 485.5,93.8" fill="#455a6e" />
<line x1="474.8" y1="81.7" x2="525.7" y2="73.1" stroke="#2b3d50" stroke-width="0.7" opacity="0.8"/>
<line x1="477.2" y1="84.1" x2="529.7" y2="74.8" stroke="#2b3d50" stroke-width="0.7" opacity="0.8"/>
<line x1="479.6" y1="86.4" x2="533.8" y2="76.5" stroke="#2b3d50" stroke-width="0.7" opacity="0.8"/>
<line x1="482.0" y1="88.8" x2="537.9" y2="78.2" stroke="#2b3d50" stroke-width="0.7" opacity="0.8"/>
<line x1="484.4" y1="91.2" x2="542.0" y2="79.9" stroke="#2b3d50" stroke-width="0.7" opacity="0.8"/>
<line x1="484.2" y1="77.4" x2="500.9" y2="90.7" stroke="#2b3d50" stroke-width="0.5" opacity="0.5"/>
<line x1="497.0" y1="75.3" x2="516.4" y2="87.6" stroke="#2b3d50" stroke-width="0.5" opacity="0.5"/>
<line x1="509.8" y1="73.3" x2="531.8" y2="84.5" stroke="#2b3d50" stroke-width="0.5" opacity="0.5"/>
<polygon points="462.4,83.1 485.5,93.8 485.0,144.9 463.5,132.6" fill="#27384a" />
<polygon points="465.4,95.3 480.8,102.8 480.7,132.3 465.9,124.1" fill="#223141" />
<line x1="469.5" y1="98.8" x2="469.8" y2="126.3" stroke="#20303f" stroke-width="0.6" />
<line x1="475.2" y1="101.6" x2="475.3" y2="129.3" stroke="#20303f" stroke-width="0.6" />
<polygon points="465.5,126.9 468.1,128.3 468.2,131.8 465.6,130.4" fill="#9aa6b2" />
<polygon points="485.5,93.8 547.3,81.4 546.5,128.4 485.0,144.9" fill="#3a4d61" />
<line x1="485.5" y1="94.6" x2="547.3" y2="82.1" stroke="#4d657e" stroke-width="1.0" />
<polygon points="491.0,99.3 504.0,96.6 503.5,135.0 490.6,138.3" fill="#2b3948" />
<polygon points="491.9,100.1 503.0,97.8 502.9,106.7 491.8,109.2" fill="#8d99a5" opacity="0.75"/>
<polygon points="493.7,118.9 496.9,118.2 496.9,119.8 493.7,120.5" fill="#6d7b88" opacity="0.85"/>
<polygon points="497.1,120.3 499.2,119.8 499.2,121.5 497.1,122.0" fill="#7f8c98" opacity="0.85"/>
<polygon points="493.2,125.1 496.2,124.4 496.2,126.0 493.2,126.7" fill="#1d2833" opacity="0.85"/>
<polygon points="497.9,104.1 499.2,103.8 499.1,106.2 497.8,106.5" fill="#e3e7ea" opacity="0.85"/>
<polygon points="495.4,99.9 496.5,99.7 496.5,101.7 495.4,102.0" fill="#7f8c98" opacity="0.85"/>
<polygon points="497.3,109.5 500.3,108.9 500.3,110.1 497.3,110.8" fill="#9aa6b1" opacity="0.85"/>
<polygon points="497.1,131.3 499.8,130.6 499.8,133.0 497.1,133.7" fill="#b4bec7" opacity="0.85"/>
<polygon points="495.2,127.6 498.5,126.8 498.5,127.8 495.2,128.6" fill="#b4bec7" opacity="0.85"/>
<polygon points="495.2,100.7 496.7,100.4 496.6,102.8 495.2,103.1" fill="#b4bec7" opacity="0.85"/>
<polygon points="495.7,121.4 497.6,120.9 497.6,123.1 495.6,123.6" fill="#6d7b88" opacity="0.85"/>
<polygon points="497.1,117.8 499.4,117.2 499.4,119.6 497.0,120.1" fill="#b4bec7" opacity="0.85"/>
<polygon points="498.0,131.4 499.6,131.0 499.6,132.8 498.0,133.2" fill="#7f8c98" opacity="0.85"/>
<polygon points="498.2,123.3 501.5,122.5 501.5,124.8 498.2,125.6" fill="#6d7b88" opacity="0.85"/>
<polygon points="496.9,124.1 499.4,123.5 499.4,126.0 496.9,126.6" fill="#cfd6dc" opacity="0.85"/>
<polygon points="494.2,104.0 497.2,103.4 497.2,105.8 494.2,106.5" fill="#b4bec7" opacity="0.85"/>
<polygon points="492.2,128.4 495.3,127.6 495.3,128.4 492.2,129.1" fill="#b4bec7" opacity="0.85"/>
<polygon points="495.7,113.9 496.7,113.7 496.7,115.5 495.6,115.8" fill="#9aa6b1" opacity="0.85"/>
<polygon points="491.8,125.5 494.1,125.0 494.0,127.4 491.8,127.9" fill="#6d7b88" opacity="0.85"/>
<polygon points="494.3,107.9 496.0,107.5 495.9,108.4 494.3,108.8" fill="#9aa6b1" opacity="0.85"/>
<polygon points="497.5,100.0 500.8,99.3 500.8,100.6 497.5,101.3" fill="#cfd6dc" opacity="0.85"/>
<polygon points="493.9,124.0 495.7,123.6 495.7,125.0 493.9,125.4" fill="#7f8c98" opacity="0.85"/>
<polygon points="492.6,130.4 494.7,129.9 494.7,131.6 492.6,132.1" fill="#b4bec7" opacity="0.85"/>
<polygon points="497.7,119.8 498.9,119.5 498.9,122.0 497.7,122.2" fill="#1d2833" opacity="0.85"/>
<polygon points="499.5,108.0 502.2,107.4 502.2,108.6 499.5,109.2" fill="#e3e7ea" opacity="0.85"/>
<polygon points="494.2,134.1 495.9,133.7 495.9,135.0 494.2,135.5" fill="#1d2833" opacity="0.85"/>
<polygon points="499.0,133.2 500.0,133.0 499.9,134.8 499.0,135.0" fill="#6d7b88" opacity="0.85"/>
<polygon points="497.8,101.0 499.6,100.6 499.6,102.0 497.8,102.3" fill="#e3e7ea" opacity="0.85"/>
<polygon points="500.4,119.6 503.2,118.9 503.2,119.7 500.4,120.4" fill="#6d7b88" opacity="0.85"/>
<polygon points="491.9,124.0 493.5,123.6 493.5,125.2 491.9,125.6" fill="#6d7b88" opacity="0.85"/>
<polygon points="497.3,110.2 498.7,109.9 498.7,112.0 497.3,112.3" fill="#6d7b88" opacity="0.85"/>
<polygon points="499.8,107.7 501.7,107.3 501.7,109.4 499.8,109.8" fill="#7f8c98" opacity="0.85"/>
<polygon points="491.7,120.3 492.9,120.0 492.9,121.6 491.6,121.9" fill="#e3e7ea" opacity="0.85"/>
<polygon points="498.0,108.3 499.3,108.0 499.3,109.5 497.9,109.8" fill="#6d7b88" opacity="0.85"/>
<polygon points="498.5,102.3 501.7,101.6 501.7,103.5 498.4,104.2" fill="#6d7b88" opacity="0.85"/>
<polygon points="506.8,94.5 528.7,89.9 528.1,127.1 506.3,132.7" fill="#2c3b4c" />
<polygon points="508.3,96.2 527.1,92.2 526.8,117.3 508.0,121.9" fill="#566270" />
<ellipse cx="517.7" cy="106.9" rx="9.3" ry="12.0" fill="#8a929b" opacity="0.8"/>
<ellipse cx="517.7" cy="106.9" rx="8.3" ry="11.0" fill="#16191e"/>
<circle cx="518.6" cy="114.3" r="0.9" fill="#4c535c"/>
<circle cx="522.3" cy="110.2" r="0.9" fill="#4c535c"/>
<circle cx="520.1" cy="104.1" r="0.9" fill="#4c535c"/>
<circle cx="517.7" cy="106.6" r="0.9" fill="#4c535c"/>
<circle cx="515.3" cy="114.0" r="0.9" fill="#33383f"/>
<circle cx="518.5" cy="109.2" r="0.9" fill="#33383f"/>
<circle cx="521.5" cy="109.8" r="0.9" fill="#33383f"/>
<circle cx="519.1" cy="108.9" r="0.9" fill="#6a727b"/>
<circle cx="513.3" cy="108.2" r="0.9" fill="#6a727b"/>
<circle cx="515.1" cy="108.7" r="0.9" fill="#6a727b"/>
<circle cx="517.7" cy="106.9" r="0.9" fill="#33383f"/>
<circle cx="520.8" cy="106.5" r="0.9" fill="#33383f"/>
<circle cx="518.6" cy="113.7" r="0.9" fill="#33383f"/>
<circle cx="517.6" cy="97.9" r="0.9" fill="#33383f"/>
<circle cx="516.8" cy="108.7" r="0.9" fill="#4c535c"/>
<circle cx="522.0" cy="99.8" r="0.9" fill="#4c535c"/>
<circle cx="521.3" cy="95.3" r="0.8" fill="#c9ced3" opacity="0.8"/>
<circle cx="527.1" cy="110.4" r="0.8" fill="#c9ced3" opacity="0.8"/>
<circle cx="525.8" cy="99.7" r="0.8" fill="#c9ced3" opacity="0.8"/>
<circle cx="514.3" cy="95.2" r="0.8" fill="#c9ced3" opacity="0.8"/>
<circle cx="526.4" cy="101.1" r="0.8" fill="#c9ced3" opacity="0.8"/>
<circle cx="525.5" cy="99.3" r="0.8" fill="#c9ced3" opacity="0.8"/>
<circle cx="525.6" cy="99.5" r="0.8" fill="#c9ced3" opacity="0.8"/>
<circle cx="509.0" cy="101.1" r="0.8" fill="#c9ced3" opacity="0.8"/>
<circle cx="527.5" cy="107.9" r="0.8" fill="#c9ced3" opacity="0.8"/>
<circle cx="517.4" cy="94.4" r="0.8" fill="#c9ced3" opacity="0.8"/>
<circle cx="522.3" cy="117.9" r="0.8" fill="#c9ced3" opacity="0.8"/>
<circle cx="514.7" cy="118.8" r="0.8" fill="#c9ced3" opacity="0.8"/>
<polygon points="508.6,123.8 527.6,119.0 527.6,125.3 508.5,130.2" fill="#6a1815" />
<polygon points="511.0,124.1 512.1,123.9 512.1,128.3 510.9,128.6" fill="#e8d8d0" opacity="0.8"/>
<polygon points="513.5,123.5 514.6,123.3 514.5,127.7 513.4,128.0" fill="#8e2a24" opacity="0.8"/>
<polygon points="515.9,122.9 517.0,122.6 517.0,127.0 515.9,127.3" fill="#8e2a24" opacity="0.8"/>
<polygon points="518.4,122.3 519.5,122.0 519.4,126.4 518.3,126.7" fill="#b86058" opacity="0.8"/>
<polygon points="520.9,121.7 522.0,121.4 521.9,125.8 520.8,126.1" fill="#e8d8d0" opacity="0.8"/>
<polygon points="523.3,121.1 524.4,120.8 524.4,125.2 523.3,125.4" fill="#8e2a24" opacity="0.8"/>
<polygon points="532.7,88.6 545.7,85.9 545.1,123.2 532.1,126.5" fill="#2b3a4b" />
<polygon points="533.9,89.6 544.4,87.4 544.3,95.2 533.8,97.5" fill="#d3d9de" />
<polygon points="534.8,90.6 539.8,89.5 539.7,94.8 534.8,95.8" fill="#46525e" />
<polygon points="541.0,90.2 543.8,89.6 543.7,94.4 540.9,95.0" fill="#5a6672" />
<polygon points="534.2,101.9 536.5,101.4 536.5,103.5 534.2,104.0" fill="#808d99" opacity="0.85"/>
<polygon points="533.7,104.4 535.9,103.9 535.9,106.0 533.7,106.5" fill="#9aa6b1" opacity="0.85"/>
<polygon points="534.6,118.4 535.8,118.0 535.8,120.3 534.5,120.6" fill="#808d99" opacity="0.85"/>
<polygon points="537.8,112.1 538.8,111.9 538.8,113.0 537.7,113.3" fill="#aab5bf" opacity="0.85"/>
<polygon points="535.6,111.5 536.7,111.3 536.6,112.6 535.6,112.8" fill="#aab5bf" opacity="0.85"/>
<polygon points="540.9,118.4 542.2,118.1 542.1,119.0 540.9,119.3" fill="#808d99" opacity="0.85"/>
<polygon points="533.5,123.2 536.1,122.5 536.1,124.1 533.4,124.7" fill="#808d99" opacity="0.85"/>
<polygon points="537.9,101.9 539.7,101.5 539.7,103.2 537.9,103.7" fill="#9aa6b1" opacity="0.85"/>
<polygon points="538.8,106.7 542.2,105.9 542.2,107.3 538.8,108.1" fill="#c4ccd3" opacity="0.85"/>
<polygon points="534.4,98.9 536.3,98.4 536.3,99.3 534.4,99.7" fill="#dde2e6" opacity="0.85"/>
<polygon points="534.8,107.9 537.3,107.3 537.3,109.0 534.8,109.6" fill="#1d2833" opacity="0.85"/>
<polygon points="539.4,98.7 540.5,98.5 540.5,100.2 539.4,100.5" fill="#aab5bf" opacity="0.85"/>
<polygon points="540.5,105.2 542.5,104.7 542.5,105.4 540.5,105.9" fill="#dde2e6" opacity="0.85"/>
<polygon points="535.2,105.3 536.3,105.0 536.3,106.4 535.2,106.7" fill="#1d2833" opacity="0.85"/>
<polygon points="537.0,119.9 538.9,119.4 538.8,121.6 537.0,122.1" fill="#6d7b88" opacity="0.85"/>
<polygon points="540.9,103.8 543.5,103.2 543.5,105.4 540.8,106.0" fill="#aab5bf" opacity="0.85"/>
<polygon points="540.1,118.4 542.9,117.7 542.9,119.5 540.0,120.2" fill="#1d2833" opacity="0.85"/>
<polygon points="540.2,111.4 543.1,110.6 543.1,112.5 540.2,113.3" fill="#9aa6b1" opacity="0.85"/>
<polygon points="537.8,103.9 538.8,103.6 538.8,104.5 537.7,104.7" fill="#aab5bf" opacity="0.85"/>
<polygon points="533.8,120.7 536.8,120.0 536.7,121.3 533.8,122.0" fill="#c4ccd3" opacity="0.85"/>
<polygon points="541.6,97.8 544.2,97.2 544.1,99.3 541.5,99.9" fill="#9aa6b1" opacity="0.85"/>
<polygon points="542.3,111.2 543.5,110.9 543.4,113.3 542.3,113.6" fill="#808d99" opacity="0.85"/>
<polygon points="538.5,110.9 539.7,110.6 539.7,112.6 538.5,112.9" fill="#c4ccd3" opacity="0.85"/>
<polygon points="542.4,98.5 545.4,97.8 545.4,98.8 542.4,99.5" fill="#6d7b88" opacity="0.85"/>
<polygon points="533.5,123.7 535.1,123.3 535.1,125.1 533.5,125.5" fill="#dde2e6" opacity="0.85"/>
<polygon points="540.5,107.1 542.9,106.5 542.8,108.8 540.4,109.4" fill="#6d7b88" opacity="0.85"/>
<polygon points="538.3,121.7 540.4,121.2 540.4,123.5 538.2,124.1" fill="#aab5bf" opacity="0.85"/>
<polygon points="537.0,116.7 538.9,116.2 538.9,117.8 536.9,118.3" fill="#c4ccd3" opacity="0.85"/>
<polygon points="538.5,120.6 540.6,120.1 540.6,121.9 538.5,122.4" fill="#dde2e6" opacity="0.85"/>
<polygon points="542.0,100.8 544.1,100.3 544.1,101.8 541.9,102.3" fill="#9aa6b1" opacity="0.85"/>
<polygon points="539.7,121.0 542.4,120.3 542.4,121.3 539.7,122.0" fill="#1d2833" opacity="0.85"/>
<polygon points="535.7,103.4 537.9,102.9 537.9,105.2 535.7,105.7" fill="#1d2833" opacity="0.85"/>
<polygon points="541.4,110.4 543.0,110.0 543.0,111.9 541.3,112.3" fill="#808d99" opacity="0.85"/>
<polygon points="536.9,119.3 540.3,118.5 540.2,120.6 536.9,121.5" fill="#1d2833" opacity="0.85"/>
<polyline points="485.5,93.8 485.0,144.9" fill="none" stroke="#1f2d3c" stroke-width="0.8"/>
<polyline points="462.4,83.1 485.5,93.8 547.3,81.4" fill="none" stroke="#223142" stroke-width="0.7" opacity="0.8"/>
</g>
<g filter="url(#soft)">
<ellipse cx="801" cy="190" rx="40" ry="3" fill="#9a9ea2" opacity="0.15" filter="url(#blur1)"/>
<rect x="753.4" y="113.8" width="95.1" height="58.4" fill="#32353a" rx="2.5"/>
<rect x="755.0" y="114.6" width="92.0" height="1.8" fill="#4a4d52" opacity="0.7"/>
<rect x="757.8" y="118.2" width="86.0" height="49.5" fill="#818996" />
<rect x="757.8" y="118.8" width="86.0" height="7.8" fill="#2b3784" />
<rect x="760.0" y="120.0" width="8.0" height="5.0" fill="#8d9ad0" opacity="0.8"/>
<rect x="757.8" y="161.0" width="86.0" height="6.7" fill="#5f6f96" />
<line x1="764.0" y1="132.9" x2="776.4" y2="132.9" stroke="#667080" stroke-width="0.7" opacity="0.8"/>
<line x1="764.0" y1="136.8" x2="777.7" y2="136.8" stroke="#667080" stroke-width="0.7" opacity="0.8"/>
<line x1="764.0" y1="140.7" x2="782.1" y2="140.7" stroke="#667080" stroke-width="0.7" opacity="0.8"/>
<line x1="764.0" y1="144.6" x2="776.6" y2="144.6" stroke="#667080" stroke-width="0.7" opacity="0.8"/>
<line x1="764.0" y1="148.4" x2="777.1" y2="148.4" stroke="#667080" stroke-width="0.7" opacity="0.8"/>
<line x1="764.0" y1="152.3" x2="778.0" y2="152.3" stroke="#667080" stroke-width="0.7" opacity="0.8"/>
<line x1="764.0" y1="156.2" x2="773.2" y2="156.2" stroke="#667080" stroke-width="0.7" opacity="0.8"/>
<line x1="764.0" y1="160.1" x2="777.1" y2="160.1" stroke="#667080" stroke-width="0.7" opacity="0.8"/>
<line x1="818.0" y1="139.8" x2="835.5" y2="139.8" stroke="#667080" stroke-width="0.7" opacity="0.8"/>
<line x1="818.0" y1="143.2" x2="837.8" y2="143.2" stroke="#667080" stroke-width="0.7" opacity="0.8"/>
<line x1="818.0" y1="146.8" x2="827.8" y2="146.8" stroke="#667080" stroke-width="0.7" opacity="0.8"/>
<line x1="818.0" y1="150.2" x2="830.8" y2="150.2" stroke="#667080" stroke-width="0.7" opacity="0.8"/>
<rect x="789.1" y="126.6" width="25.0" height="19.7" fill="#8fd0f6" />
<rect x="789.1" y="126.6" width="25.0" height="2.6" fill="#e6f2fa" />
<line x1="791.0" y1="132.4" x2="799.1" y2="132.4" stroke="#3a78b8" stroke-width="0.8" opacity="0.85"/>
<line x1="791.0" y1="135.2" x2="807.7" y2="135.2" stroke="#3a78b8" stroke-width="0.8" opacity="0.85"/>
<line x1="791.0" y1="138.0" x2="806.3" y2="138.0" stroke="#3a78b8" stroke-width="0.8" opacity="0.85"/>
<line x1="791.0" y1="140.8" x2="798.5" y2="140.8" stroke="#3a78b8" stroke-width="0.8" opacity="0.85"/>
<line x1="791.0" y1="143.6" x2="809.8" y2="143.6" stroke="#3a78b8" stroke-width="0.8" opacity="0.85"/>
<rect x="814.6" y="131.0" width="27.4" height="5.6" fill="#283462" />
<rect x="814.6" y="127.6" width="27.4" height="2.8" fill="#c9d2e0" />
<line x1="791.0" y1="149.3" x2="804.9" y2="149.3" stroke="#667080" stroke-width="0.7" opacity="0.8"/>
<line x1="791.0" y1="152.0" x2="802.1" y2="152.0" stroke="#667080" stroke-width="0.7" opacity="0.8"/>
<line x1="791.0" y1="154.7" x2="801.8" y2="154.7" stroke="#667080" stroke-width="0.7" opacity="0.8"/>
<path d="M743.8 172.4 L857.6 172.4 Q857.6 176.8 851.6 176.8 L749.8 176.8 Q743.8 176.8 743.8 172.4 Z" fill="url(#silver)"/>
<path d="M791.5 176.3 L811.5 176.3 L814.0 183.9 L789.0 183.9 Z" fill="url(#silverH)"/>
<rect x="776.0" y="183.4" width="51.0" height="3.8" rx="1.5" fill="url(#silver)"/>
<ellipse cx="814" cy="317.5" rx="36" ry="2.6" fill="#9a9ea2" opacity="0.15" filter="url(#blur1)"/>
<rect x="765.6" y="243.0" width="95.1" height="59.0" fill="#1d1f22" rx="2.5"/>
<rect x="769.5" y="246.9" width="87.3" height="49.9" fill="#bcc2cc" />
<rect x="769.5" y="246.9" width="87.3" height="5.4" fill="#5f7193" />
<rect x="769.5" y="252.3" width="87.3" height="4.3" fill="#aab4c6" />
<rect x="770.8" y="257.5" width="16.4" height="37.6" fill="#9ba6bd" />
<rect x="772.1" y="262.5" width="14.3" height="7.3" fill="#3b4692" />
<line x1="772.5" y1="274.9" x2="778.5" y2="274.9" stroke="#5b6784" stroke-width="0.7" opacity="0.8"/>
<line x1="772.5" y1="278.7" x2="777.3" y2="278.7" stroke="#5b6784" stroke-width="0.7" opacity="0.8"/>
<line x1="772.5" y1="282.5" x2="781.5" y2="282.5" stroke="#5b6784" stroke-width="0.7" opacity="0.8"/>
<line x1="772.5" y1="286.3" x2="777.7" y2="286.3" stroke="#5b6784" stroke-width="0.7" opacity="0.8"/>
<line x1="772.5" y1="290.1" x2="778.8" y2="290.1" stroke="#5b6784" stroke-width="0.7" opacity="0.8"/>
<rect x="788.3" y="258.6" width="46.3" height="33.9" fill="#cfd4db" />
<line x1="790.0" y1="262.6" x2="810.8" y2="262.6" stroke="#8e99ab" stroke-width="0.8" opacity="0.8"/>
<line x1="790.0" y1="265.8" x2="805.5" y2="265.8" stroke="#8e99ab" stroke-width="0.8" opacity="0.8"/>
<line x1="790.0" y1="269.1" x2="816.4" y2="269.1" stroke="#8e99ab" stroke-width="0.8" opacity="0.8"/>
<line x1="790.0" y1="272.3" x2="815.8" y2="272.3" stroke="#8e99ab" stroke-width="0.8" opacity="0.8"/>
<line x1="790.0" y1="275.5" x2="825.9" y2="275.5" stroke="#8e99ab" stroke-width="0.8" opacity="0.8"/>
<line x1="790.0" y1="278.7" x2="817.8" y2="278.7" stroke="#8e99ab" stroke-width="0.8" opacity="0.8"/>
<line x1="790.0" y1="281.9" x2="820.8" y2="281.9" stroke="#8e99ab" stroke-width="0.8" opacity="0.8"/>
<line x1="790.0" y1="285.2" x2="817.3" y2="285.2" stroke="#8e99ab" stroke-width="0.8" opacity="0.8"/>
<line x1="790.0" y1="288.4" x2="821.4" y2="288.4" stroke="#8e99ab" stroke-width="0.8" opacity="0.8"/>
<rect x="836.0" y="256.6" width="20.8" height="40.2" fill="#c2c7cf" />
<line x1="838.0" y1="260.9" x2="848.6" y2="260.9" stroke="#8590a3" stroke-width="0.7" opacity="0.7"/>
<line x1="838.0" y1="264.8" x2="846.8" y2="264.8" stroke="#8590a3" stroke-width="0.7" opacity="0.7"/>
<line x1="838.0" y1="268.6" x2="854.1" y2="268.6" stroke="#8590a3" stroke-width="0.7" opacity="0.7"/>
<line x1="838.0" y1="272.5" x2="854.1" y2="272.5" stroke="#8590a3" stroke-width="0.7" opacity="0.7"/>
<line x1="838.0" y1="276.4" x2="852.5" y2="276.4" stroke="#8590a3" stroke-width="0.7" opacity="0.7"/>
<line x1="838.0" y1="280.2" x2="851.2" y2="280.2" stroke="#8590a3" stroke-width="0.7" opacity="0.7"/>
<line x1="838.0" y1="284.1" x2="847.2" y2="284.1" stroke="#8590a3" stroke-width="0.7" opacity="0.7"/>
<rect x="837.0" y="287.5" width="14.0" height="4.0" fill="#7f8fc0" />
<path d="M756.5 302.2 L869.8 302.2 Q869.8 306.2 863.8 306.2 L762.5 306.2 Q756.5 306.2 756.5 302.2 Z" fill="url(#silver)"/>
<path d="M805.0 305.7 L822.0 305.7 L824.5 311.7 L802.5 311.7 Z" fill="url(#silverH)"/>
<rect x="790.0" y="311.2" width="47.0" height="3.6" rx="1.5" fill="url(#silver)"/>
<ellipse cx="832" cy="445" rx="38" ry="2.6" fill="#9a9ea2" opacity="0.15" filter="url(#blur1)"/>
<rect x="776.0" y="362.1" width="112.0" height="63.3" fill="#202226" rx="2.5"/>
<rect x="779.2" y="365.0" width="105.6" height="57.0" fill="#e9ebee" />
<rect x="780.4" y="366.0" width="103.2" height="54.8" fill="#777d8d" />
<rect x="780.4" y="366.0" width="103.2" height="10.4" fill="#2a3590" />
<rect x="783.0" y="367.5" width="14.0" height="5.5" fill="#9fb0e0" opacity="0.8"/>
<rect x="812.0" y="369.5" width="14.0" height="2.0" fill="#8c9bd8" opacity="0.8"/>
<line x1="787.0" y1="382.1" x2="794.8" y2="382.1" stroke="#4a5263" stroke-width="0.7" opacity="0.8"/>
<line x1="787.0" y1="386.3" x2="795.4" y2="386.3" stroke="#4a5263" stroke-width="0.7" opacity="0.8"/>
<line x1="787.0" y1="390.6" x2="793.3" y2="390.6" stroke="#4a5263" stroke-width="0.7" opacity="0.8"/>
<line x1="787.0" y1="394.8" x2="800.0" y2="394.8" stroke="#4a5263" stroke-width="0.7" opacity="0.8"/>
<line x1="787.0" y1="399.0" x2="796.4" y2="399.0" stroke="#4a5263" stroke-width="0.7" opacity="0.8"/>
<line x1="787.0" y1="403.2" x2="800.7" y2="403.2" stroke="#4a5263" stroke-width="0.7" opacity="0.8"/>
<line x1="787.0" y1="407.4" x2="796.3" y2="407.4" stroke="#4a5263" stroke-width="0.7" opacity="0.8"/>
<line x1="787.0" y1="411.7" x2="801.8" y2="411.7" stroke="#4a5263" stroke-width="0.7" opacity="0.8"/>
<line x1="787.0" y1="415.9" x2="800.7" y2="415.9" stroke="#4a5263" stroke-width="0.7" opacity="0.8"/>
<rect x="820.3" y="375.2" width="35.2" height="36.4" fill="#8ecdf6" />
<rect x="820.3" y="375.2" width="35.2" height="3.6" fill="#dcecf8" />
<line x1="823.0" y1="383.9" x2="833.2" y2="383.9" stroke="#3e7fbe" stroke-width="0.9" opacity="0.8"/>
<line x1="823.0" y1="387.8" x2="836.8" y2="387.8" stroke="#3e7fbe" stroke-width="0.9" opacity="0.8"/>
<line x1="823.0" y1="391.6" x2="849.0" y2="391.6" stroke="#3e7fbe" stroke-width="0.9" opacity="0.8"/>
<line x1="823.0" y1="395.5" x2="841.3" y2="395.5" stroke="#3e7fbe" stroke-width="0.9" opacity="0.8"/>
<line x1="823.0" y1="399.4" x2="850.2" y2="399.4" stroke="#3e7fbe" stroke-width="0.9" opacity="0.8"/>
<line x1="823.0" y1="403.2" x2="840.1" y2="403.2" stroke="#3e7fbe" stroke-width="0.9" opacity="0.8"/>
<line x1="823.0" y1="407.1" x2="834.4" y2="407.1" stroke="#3e7fbe" stroke-width="0.9" opacity="0.8"/>
<rect x="825.0" y="412.5" width="13.0" height="3.5" fill="#5aa5e0" />
<rect x="855.5" y="376.4" width="23.4" height="11.8" fill="#2b3768" />
<rect x="855.5" y="378.5" width="23.4" height="2.5" fill="#9fb0d8" opacity="0.7"/>
<line x1="858.0" y1="392.8" x2="871.1" y2="392.8" stroke="#4a5263" stroke-width="0.7" opacity="0.8"/>
<line x1="858.0" y1="396.5" x2="872.7" y2="396.5" stroke="#4a5263" stroke-width="0.7" opacity="0.8"/>
<line x1="858.0" y1="400.2" x2="867.2" y2="400.2" stroke="#4a5263" stroke-width="0.7" opacity="0.8"/>
<path d="M764.3 425.4 L899.8 425.4 Q899.8 430.6 893.8 430.6 L770.3 430.6 Q764.3 430.6 764.3 425.4 Z" fill="url(#silver)"/>
<path d="M821.0 430.1 L843.0 430.1 L845.5 440.1 L818.5 440.1 Z" fill="url(#silverH)"/>
<rect x="806.0" y="439.6" width="52.0" height="3.6" rx="1.5" fill="url(#silver)"/>
<ellipse cx="716" cy="532.5" rx="24" ry="2.2" fill="#9a9ea2" opacity="0.4" filter="url(#blur1)"/>
<path d="M705.6 516.5 L727.5 516.5 L730.4 528.6 L700.8 528.6 Z" fill="url(#silverH)"/>
<path d="M700.8 528.2 L730.4 528.2 L734.2 530.6 Q734.4 531.6 733 531.6 L698.2 531.6 Q696.6 531.6 697 530.6 Z" fill="#c9cbcd"/>
<path d="M661.2 506 L770.7 506 L770.7 514.2 Q770.7 517.8 767 517.8 L665 517.8 Q661.2 517.8 661.2 514.2 Z" fill="#c3c5c8"/>
<rect x="661.2" y="506.8" width="109.5" height="1.4" fill="#d9dadc" />
<rect x="661.2" y="442.1" width="109.5" height="65.2" fill="#0c0d10" rx="4"/>
<rect x="667.0" y="447.4" width="97.1" height="53.9" fill="#2a3590" />
<rect x="669.2" y="458.0" width="92.8" height="40.8" fill="#7d828e" />
<rect x="667.0" y="447.4" width="97.1" height="10.6" fill="#2a3590" />
<rect x="687.3" y="451.8" width="37.8" height="36.5" fill="#8fcff6" />
<rect x="687.3" y="451.8" width="37.8" height="3.2" fill="#e0eef8" />
<line x1="690.0" y1="460.0" x2="702.9" y2="460.0" stroke="#3e7fbe" stroke-width="0.9" opacity="0.8"/>
<line x1="690.0" y1="464.0" x2="707.6" y2="464.0" stroke="#3e7fbe" stroke-width="0.9" opacity="0.8"/>
<line x1="690.0" y1="468.0" x2="719.7" y2="468.0" stroke="#3e7fbe" stroke-width="0.9" opacity="0.8"/>
<line x1="690.0" y1="472.0" x2="715.8" y2="472.0" stroke="#3e7fbe" stroke-width="0.9" opacity="0.8"/>
<line x1="690.0" y1="476.0" x2="703.5" y2="476.0" stroke="#3e7fbe" stroke-width="0.9" opacity="0.8"/>
<line x1="690.0" y1="480.0" x2="705.9" y2="480.0" stroke="#3e7fbe" stroke-width="0.9" opacity="0.8"/>
<line x1="690.0" y1="484.0" x2="703.1" y2="484.0" stroke="#3e7fbe" stroke-width="0.9" opacity="0.8"/>
<rect x="693.8" y="489.2" width="14.3" height="4.4" fill="#58a6e4" />
<rect x="725.8" y="453.9" width="33.7" height="13.0" fill="#2a3566" />
<rect x="725.8" y="456.0" width="33.7" height="3.0" fill="#b4c0dc" opacity="0.75"/>
<rect x="725.8" y="461.5" width="33.7" height="1.5" fill="#8494bf" opacity="0.7"/>
<line x1="729.0" y1="473.0" x2="737.9" y2="473.0" stroke="#4a5263" stroke-width="0.7" opacity="0.8"/>
<line x1="729.0" y1="479.0" x2="748.0" y2="479.0" stroke="#4a5263" stroke-width="0.7" opacity="0.8"/>
<circle cx="716" cy="512.4" r="1.5" fill="#33363a"/>
<rect x="458.3" y="464.8" width="105.7" height="61.0" fill="#63676d" rx="2"/>
<rect x="461.7" y="468.2" width="99.0" height="52.3" fill="#9aa8bd" />
<rect x="461.7" y="468.2" width="99.0" height="4.4" fill="#2a3d6e" />
<rect x="541.0" y="469.0" width="17.0" height="2.6" fill="#d0705a" opacity="0.85"/>
<rect x="461.7" y="472.6" width="99.0" height="3.4" fill="#6f83a6" />
<rect x="463.5" y="477.8" width="34.6" height="29.5" fill="#b3bdcc" />
<line x1="465.0" y1="480.7" x2="479.6" y2="480.7" stroke="#66738e" stroke-width="0.8" opacity="0.8"/>
<line x1="465.0" y1="484.1" x2="486.9" y2="484.1" stroke="#66738e" stroke-width="0.8" opacity="0.8"/>
<line x1="465.0" y1="487.4" x2="484.8" y2="487.4" stroke="#66738e" stroke-width="0.8" opacity="0.8"/>
<line x1="465.0" y1="490.8" x2="479.9" y2="490.8" stroke="#66738e" stroke-width="0.8" opacity="0.8"/>
<line x1="465.0" y1="494.2" x2="490.3" y2="494.2" stroke="#66738e" stroke-width="0.8" opacity="0.8"/>
<line x1="465.0" y1="497.6" x2="478.7" y2="497.6" stroke="#66738e" stroke-width="0.8" opacity="0.8"/>
<line x1="465.0" y1="500.9" x2="488.6" y2="500.9" stroke="#66738e" stroke-width="0.8" opacity="0.8"/>
<line x1="465.0" y1="504.3" x2="478.4" y2="504.3" stroke="#66738e" stroke-width="0.8" opacity="0.8"/>
<rect x="464.5" y="478.8" width="9.5" height="27.2" fill="#aab3c4" opacity="0.8"/>
<rect x="500.7" y="482.5" width="12.3" height="23.5" fill="#5d6d8c" />
<rect x="500.7" y="482.5" width="12.3" height="6.0" fill="#2f3d63" />
<rect x="515.0" y="480.0" width="43.0" height="35.5" fill="#8d9cb6" />
<rect x="515.0" y="480.0" width="43.0" height="9.0" fill="#c9cfda" />
<line x1="517.0" y1="483.0" x2="540.5" y2="483.0" stroke="#56637e" stroke-width="0.7" opacity="0.8"/>
<line x1="517.0" y1="485.0" x2="535.6" y2="485.0" stroke="#56637e" stroke-width="0.7" opacity="0.8"/>
<line x1="517.0" y1="487.0" x2="537.0" y2="487.0" stroke="#56637e" stroke-width="0.7" opacity="0.8"/>
<rect x="517.0" y="491.5" width="36.0" height="3.0" fill="#4a5877" />
<rect x="515.0" y="512.0" width="43.0" height="3.5" fill="#5a6fa0" />
<rect x="463.5" y="508.6" width="49.0" height="7.3" fill="#38435e" />
<line x1="466.0" y1="511.2" x2="507.0" y2="511.2" stroke="#a9b3c6" stroke-width="0.8" opacity="0.7"/>
<line x1="466.0" y1="513.8" x2="502.6" y2="513.8" stroke="#a9b3c6" stroke-width="0.8" opacity="0.7"/>
<rect x="461.7" y="516.8" width="99.0" height="3.7" fill="#ccd3dd" />
<path d="M452.5 524.8 L569.8 524.8 L566 527.6 L456.3 527.6 Z" fill="#5a5d62"/>
<rect x="494.2" y="524.4" width="35.2" height="5.0" fill="#c6c8cb" rx="1"/>
<rect x="498.0" y="527.3" width="28.0" height="2.1" fill="#94979b" />
<rect x="483.8" y="535.4" width="55.2" height="2.2" fill="#aeb1b4" rx="0.8"/>
</g>
<g id="labels" filter="url(#soft)">
<text x="299.5" y="34.2" font-size="37.5" textLength="161.0" lengthAdjust="spacingAndGlyphs" fill="#111" stroke="#111" stroke-width="0.6">Sustilors</text>
<text x="474.1" y="34.2" font-size="37.5" textLength="118.4" lengthAdjust="spacingAndGlyphs" fill="#111" stroke="#111" stroke-width="0.6">Mining</text>
<text x="608.1" y="34.2" font-size="37.5" textLength="51.6" lengthAdjust="spacingAndGlyphs" fill="#111" stroke="#111" stroke-width="0.6">rig</text>
<text x="203.7" y="97.9" font-size="13.4" font-weight="700" textLength="24.5" lengthAdjust="spacingAndGlyphs" fill="#161616" stroke="#161616" stroke-width="0.35">8H/1</text>
<text x="232.8" y="97.9" font-size="13.4" font-weight="700" textLength="38.1" lengthAdjust="spacingAndGlyphs" fill="#161616" stroke="#161616" stroke-width="0.35">Mone</text>
<text x="345.8" y="84.7" font-size="14.0" font-weight="700" textLength="22.7" lengthAdjust="spacingAndGlyphs" fill="#161616" stroke="#161616" stroke-width="0.35">Per</text>
<text x="373.7" y="84.7" font-size="14.0" font-weight="700" textLength="37.3" lengthAdjust="spacingAndGlyphs" fill="#161616" stroke="#161616" stroke-width="0.35">Mone</text>
<text x="460.7" y="67.1" font-size="13.4" font-weight="700" textLength="19.8" lengthAdjust="spacingAndGlyphs" fill="#161616" stroke="#161616" stroke-width="0.35">ZM.</text>
<text x="485.5" y="67.1" font-size="13.4" font-weight="700" textLength="28.9" lengthAdjust="spacingAndGlyphs" fill="#161616" stroke="#161616" stroke-width="0.35">Mon</text>
<text x="76.6" y="222.9" font-size="13.6" font-weight="700" textLength="17.1" lengthAdjust="spacingAndGlyphs" fill="#161616" stroke="#161616" stroke-width="0.35">PA</text>
<text x="98.6" y="222.9" font-size="13.6" font-weight="700" textLength="37.2" lengthAdjust="spacingAndGlyphs" fill="#161616" stroke="#161616" stroke-width="0.35">Mone</text>
<text x="91.2" y="317.8" font-size="13.4" font-weight="700" textLength="8.4" lengthAdjust="spacingAndGlyphs" fill="#161616" stroke="#161616" stroke-width="0.35">A</text>
<text x="106.0" y="317.8" font-size="13.4" font-weight="700" textLength="17.0" lengthAdjust="spacingAndGlyphs" fill="#161616" stroke="#161616" stroke-width="0.35">PH</text>
<text x="265.6" y="368.2" font-size="12.9" font-weight="700" textLength="22.9" lengthAdjust="spacingAndGlyphs" fill="#161616" stroke="#161616" stroke-width="0.35">LM</text>
<text x="290.6" y="368.2" font-size="12.9" font-weight="700" textLength="23.9" lengthAdjust="spacingAndGlyphs" fill="#161616" stroke="#161616" stroke-width="0.35">Loih</text>
<rect x="266.2" y="364.0" width="24.5" height="1.4" fill="#161616"/>
<text x="60.5" y="518.7" font-size="13.8" font-weight="700" textLength="28.6" lengthAdjust="spacingAndGlyphs" fill="#161616" stroke="#161616" stroke-width="0.35">Inde</text>
<text x="94.4" y="518.7" font-size="13.8" font-weight="700" textLength="26.3" lengthAdjust="spacingAndGlyphs" fill="#161616" stroke="#161616" stroke-width="0.35">Balti</text>
<text x="417.3" y="555.3" font-size="13.4" font-weight="700" textLength="35.2" lengthAdjust="spacingAndGlyphs" fill="#161616" stroke="#161616" stroke-width="0.35">Catlie</text>
<text x="457.2" y="555.3" font-size="13.4" font-weight="700" textLength="48.0" lengthAdjust="spacingAndGlyphs" fill="#161616" stroke="#161616" stroke-width="0.35">Captias</text>
<text x="560.3" y="430.4" font-size="13.0" font-weight="700" textLength="14.1" lengthAdjust="spacingAndGlyphs" fill="#161616" stroke="#161616" stroke-width="0.35">BX</text>
<text x="579.1" y="430.4" font-size="13.0" font-weight="700" textLength="31.8" lengthAdjust="spacingAndGlyphs" fill="#161616" stroke="#161616" stroke-width="0.35">Lsrin</text>
<text x="679.8" y="212.3" font-size="13.2" font-weight="700" textLength="31.9" lengthAdjust="spacingAndGlyphs" fill="#161616" stroke="#161616" stroke-width="0.35">Jsic:</text>
<text x="717.7" y="212.3" font-size="13.2" font-weight="700" textLength="23.6" lengthAdjust="spacingAndGlyphs" fill="#161616" stroke="#161616" stroke-width="0.35">Min</text>
<text x="738.5" y="97.9" font-size="14.0" font-weight="700" textLength="62.6" lengthAdjust="spacingAndGlyphs" fill="#161616" stroke="#161616" stroke-width="0.35">Suntartic</text>
<text x="804.9" y="97.9" font-size="14.0" font-weight="700" textLength="54.3" lengthAdjust="spacingAndGlyphs" fill="#161616" stroke="#161616" stroke-width="0.35">Comling</text>
<text x="848.5" y="234.8" font-size="13.8" font-weight="700" textLength="46.3" lengthAdjust="spacingAndGlyphs" fill="#161616" stroke="#161616" stroke-width="0.35">Rotade</text>
<text x="898.9" y="234.8" font-size="13.8" font-weight="700" textLength="38.6" lengthAdjust="spacingAndGlyphs" fill="#161616" stroke="#161616" stroke-width="0.35">Minog</text>
<text x="840.8" y="463.6" font-size="13.8" font-weight="700" textLength="56.2" lengthAdjust="spacingAndGlyphs" fill="#161616" stroke="#161616" stroke-width="0.35">Mugrcel</text>
<text x="901.7" y="463.6" font-size="13.8" font-weight="700" textLength="41.7" lengthAdjust="spacingAndGlyphs" fill="#161616" stroke="#161616" stroke-width="0.35">Carbm</text>
<text x="737.0" y="547.7" font-size="13.6" font-weight="700" textLength="35.5" lengthAdjust="spacingAndGlyphs" fill="#161616" stroke="#161616" stroke-width="0.35">Sartfi</text>
<text x="776.6" y="547.7" font-size="13.6" font-weight="700" textLength="53.3" lengthAdjust="spacingAndGlyphs" fill="#161616" stroke="#161616" stroke-width="0.35">Cooning</text>
</g>
</svg></body></html>
